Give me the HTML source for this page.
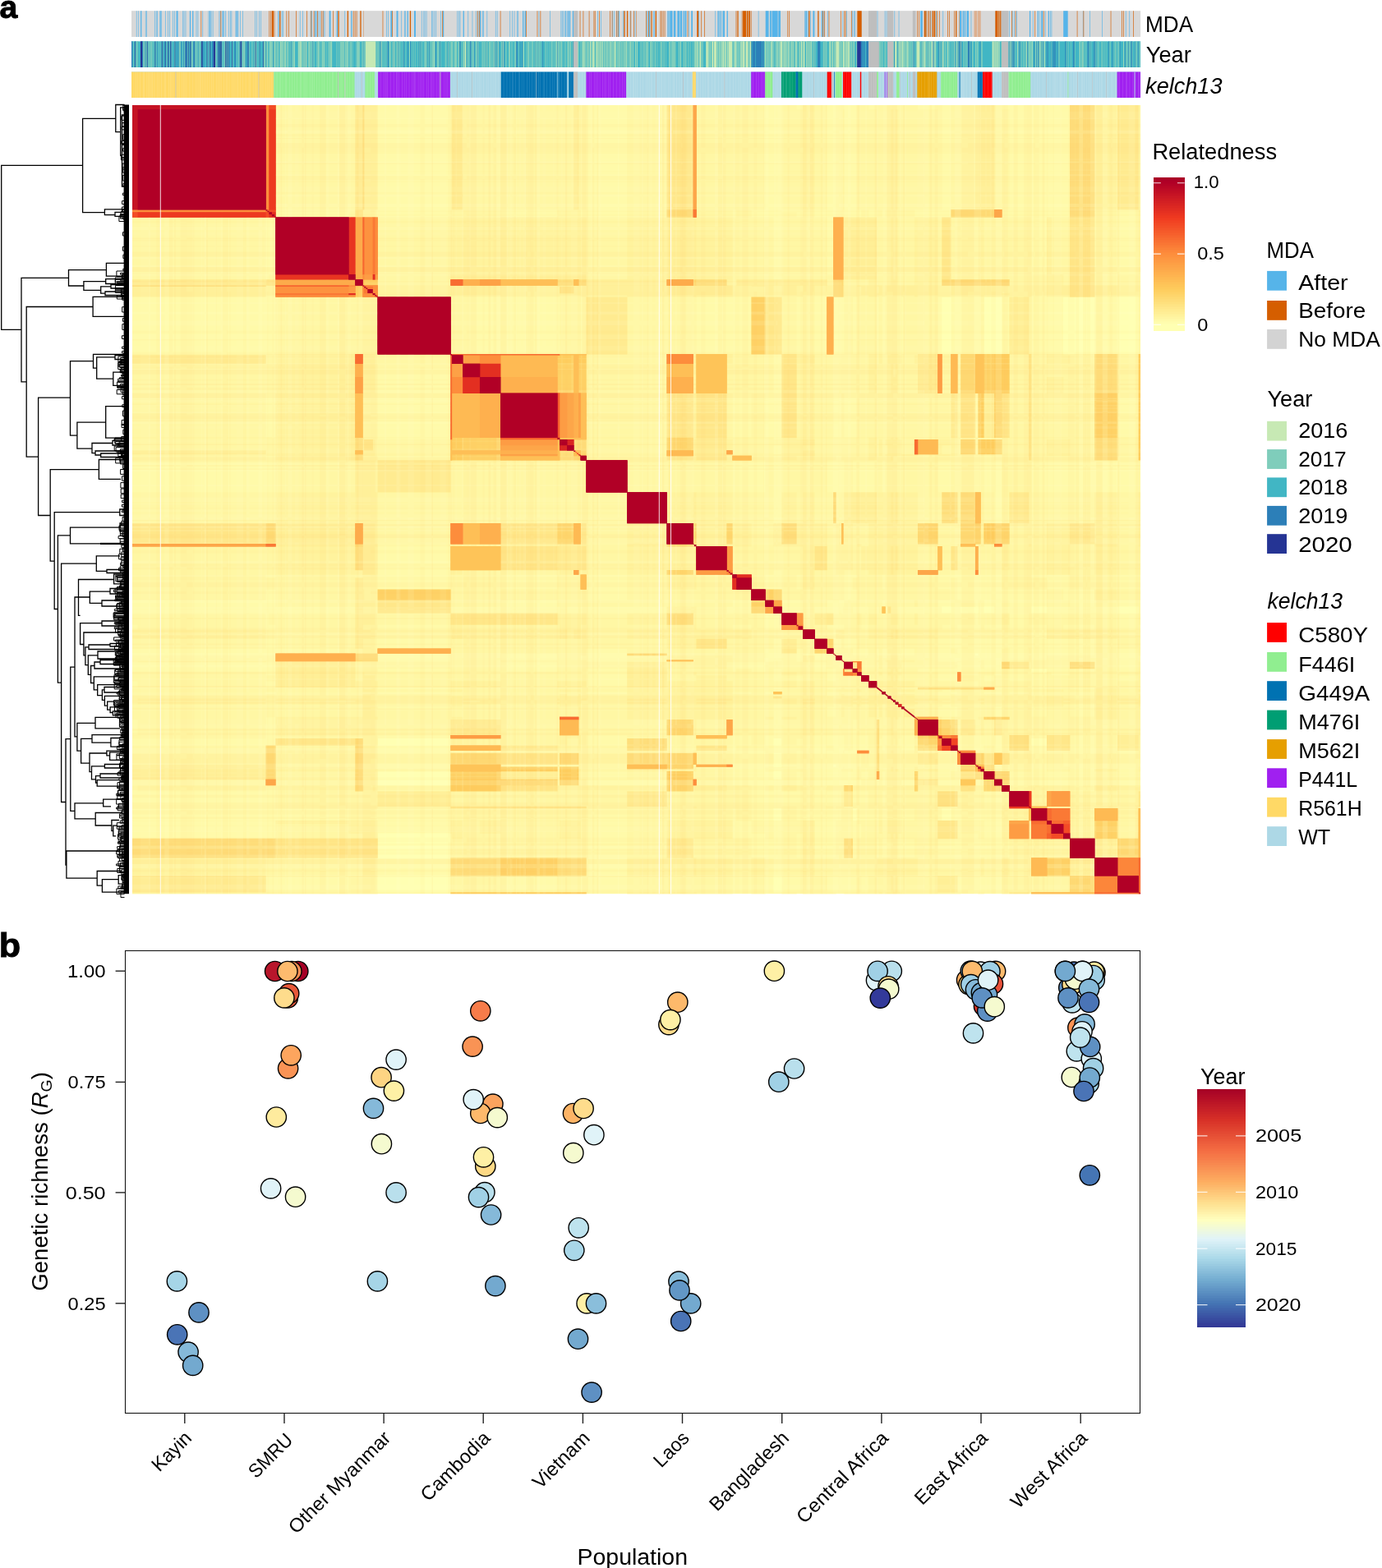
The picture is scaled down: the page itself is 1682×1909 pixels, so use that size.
<!DOCTYPE html>
<html lang="en"><head><meta charset="utf-8"><title>Figure</title>
<style>html,body{margin:0;padding:0;background:#fff}svg{display:block}text{font-family:"Liberation Sans", Arial, Helvetica, sans-serif;fill:#000}</style></head><body>
<svg width="1682" height="1909" viewBox="0 0 1682 1909">
<rect width="1682" height="1909" fill="#fff"/>
<text transform="translate(-0.4 21.7) scale(1.02 1)" font-size="38.5" font-weight="bold" stroke="#000" stroke-width=".9">a</text>
<text transform="translate(-1.3 1164.8) scale(1.08 1)" font-size="40" font-weight="bold" stroke="#000" stroke-width=".9">b</text>
<g shape-rendering="auto">
<rect x="160" y="13.2" width="1228.1" height="31.7" fill="#D8D8D8"/>
<path fill="#56B4E9" d="M165.85 13.2H166.5V44.9H165.85ZM168.45 13.2H169.1V44.9H168.45ZM171.05 13.2H172.35V44.9H171.05ZM176.9 13.2H177.55V44.9H176.9ZM178.2 13.2H178.85V44.9H178.2ZM187.95 13.2H188.6V44.9H187.95ZM189.9 13.2H190.55V44.9H189.9ZM191.2 13.2H191.85V44.9H191.2ZM194.45 13.2H195.75V44.9H194.45ZM196.4 13.2H197.05V44.9H196.4ZM200.95 13.2H201.6V44.9H200.95ZM204.2 13.2H204.85V44.9H204.2ZM206.15 13.2H206.8V44.9H206.15ZM210.05 13.2H210.7V44.9H210.05ZM212 13.2H212.65V44.9H212ZM214.6 13.2H216.55V44.9H214.6ZM222.4 13.2H223.05V44.9H222.4ZM223.7 13.2H224.35V44.9H223.7ZM225.65 13.2H226.3V44.9H225.65ZM230.85 13.2H232.15V44.9H230.85ZM234.1 13.2H235.4V44.9H234.1ZM238.65 13.2H239.3V44.9H238.65ZM240.6 13.2H241.25V44.9H240.6ZM246.45 13.2H247.1V44.9H246.45ZM253.6 13.2H254.25V44.9H253.6ZM254.9 13.2H256.2V44.9H254.9ZM256.85 13.2H257.5V44.9H256.85ZM258.8 13.2H259.45V44.9H258.8ZM266.6 13.2H267.25V44.9H266.6ZM267.9 13.2H268.55V44.9H267.9ZM270.5 13.2H271.8V44.9H270.5ZM272.45 13.2H273.1V44.9H272.45ZM274.4 13.2H275.05V44.9H274.4ZM278.3 13.2H278.95V44.9H278.3ZM280.25 13.2H280.9V44.9H280.25ZM281.55 13.2H282.2V44.9H281.55ZM286.75 13.2H288.05V44.9H286.75ZM288.7 13.2H290V44.9H288.7ZM291.95 13.2H292.6V44.9H291.95ZM295.2 13.2H295.85V44.9H295.2ZM310.15 13.2H310.8V44.9H310.15ZM312.1 13.2H312.75V44.9H312.1ZM315.35 13.2H316V44.9H315.35ZM317.3 13.2H317.95V44.9H317.3ZM338.2 13.2H338.85V44.9H338.2ZM339.5 13.2H340.15V44.9H339.5ZM342.75 13.2H343.4V44.9H342.75ZM344.05 13.2H344.7V44.9H344.05ZM364.85 13.2H365.5V44.9H364.85ZM368.1 13.2H368.75V44.9H368.1ZM377.85 13.2H378.5V44.9H377.85ZM379.15 13.2H379.8V44.9H379.15ZM383.05 13.2H384.35V44.9H383.05ZM385 13.2H385.65V44.9H385ZM387.6 13.2H388.25V44.9H387.6ZM389.55 13.2H390.2V44.9H389.55ZM393.45 13.2H394.1V44.9H393.45ZM394.75 13.2H395.4V44.9H394.75ZM400.6 13.2H402.55V44.9H400.6ZM409.7 13.2H411V44.9H409.7ZM419.45 13.2H420.1V44.9H419.45ZM427.25 13.2H428.55V44.9H427.25ZM470.2 13.2H470.85V44.9H470.2ZM472.15 13.2H472.8V44.9H472.15ZM475.4 13.2H477.35V44.9H475.4ZM482.55 13.2H484.5V44.9H482.55ZM488.4 13.2H489.05V44.9H488.4ZM492.3 13.2H493.6V44.9H492.3ZM495.55 13.2H496.85V44.9H495.55ZM504 13.2H505.95V44.9H504ZM512.9 13.2H513.55V44.9H512.9ZM515.5 13.2H516.15V44.9H515.5ZM516.8 13.2H517.45V44.9H516.8ZM518.75 13.2H519.4V44.9H518.75ZM525.25 13.2H525.9V44.9H525.25ZM526.55 13.2H527.2V44.9H526.55ZM528.5 13.2H529.15V44.9H528.5ZM530.45 13.2H531.1V44.9H530.45ZM536.3 13.2H536.95V44.9H536.3ZM538.9 13.2H540.2V44.9H538.9ZM556.45 13.2H557.1V44.9H556.45ZM558.4 13.2H559.05V44.9H558.4ZM559.7 13.2H560.35V44.9H559.7ZM563.6 13.2H564.9V44.9H563.6ZM569.45 13.2H570.1V44.9H569.45ZM574.65 13.2H575.3V44.9H574.65ZM578.85 13.2H579.5V44.9H578.85ZM581.45 13.2H582.1V44.9H581.45ZM582.75 13.2H583.4V44.9H582.75ZM584.05 13.2H585.35V44.9H584.05ZM587.3 13.2H588.6V44.9H587.3ZM592.5 13.2H593.15V44.9H592.5ZM602.9 13.2H603.55V44.9H602.9ZM604.85 13.2H605.5V44.9H604.85ZM620.45 13.2H621.1V44.9H620.45ZM623.05 13.2H623.7V44.9H623.05ZM625.65 13.2H626.3V44.9H625.65ZM628.9 13.2H629.55V44.9H628.9ZM630.2 13.2H630.85V44.9H630.2ZM636.05 13.2H637.35V44.9H636.05ZM638.65 13.2H639.95V44.9H638.65ZM655.6 13.2H656.25V44.9H655.6ZM669.25 13.2H669.9V44.9H669.25ZM682.5 13.2H683.15V44.9H682.5ZM683.8 13.2H684.45V44.9H683.8ZM685.1 13.2H685.75V44.9H685.1ZM687.05 13.2H687.7V44.9H687.05ZM688.35 13.2H689V44.9H688.35ZM689.65 13.2H690.3V44.9H689.65ZM690.95 13.2H692.25V44.9H690.95ZM692.9 13.2H694.2V44.9H692.9ZM696.8 13.2H698.1V44.9H696.8ZM727.15 13.2H727.8V44.9H727.15ZM731.05 13.2H731.7V44.9H731.05ZM745.35 13.2H746V44.9H745.35ZM747.3 13.2H747.95V44.9H747.3ZM750.55 13.2H751.2V44.9H750.55ZM752.5 13.2H753.8V44.9H752.5ZM758.35 13.2H759V44.9H758.35ZM766.8 13.2H767.45V44.9H766.8ZM772.65 13.2H773.3V44.9H772.65ZM786.65 13.2H787.3V44.9H786.65ZM787.95 13.2H788.6V44.9H787.95ZM789.9 13.2H791.2V44.9H789.9ZM795.1 13.2H795.75V44.9H795.1ZM796.4 13.2H797.05V44.9H796.4ZM812 13.2H812.65V44.9H812ZM813.3 13.2H814.6V44.9H813.3ZM815.25 13.2H818.5V44.9H815.25ZM819.8 13.2H822.4V44.9H819.8ZM824.35 13.2H826.95V44.9H824.35ZM827.6 13.2H830.2V44.9H827.6ZM831.5 13.2H832.8V44.9H831.5ZM833.45 13.2H835.4V44.9H833.45ZM838 13.2H838.65V44.9H838ZM841.25 13.2H843V44.9H841.25ZM850.15 13.2H850.8V44.9H850.15ZM870.3 13.2H870.95V44.9H870.3ZM872.9 13.2H873.55V44.9H872.9ZM874.2 13.2H875.5V44.9H874.2ZM876.15 13.2H876.8V44.9H876.15ZM877.45 13.2H878.1V44.9H877.45ZM878.75 13.2H879.4V44.9H878.75ZM880.05 13.2H882V44.9H880.05ZM884.6 13.2H885.9V44.9H884.6ZM922.8 13.2H923.45V44.9H922.8ZM931.7 13.2H935.6V44.9H931.7ZM936.9 13.2H938.85V44.9H936.9ZM939.5 13.2H946.65V44.9H939.5ZM947.3 13.2H950V44.9H947.3ZM979 13.2H979.65V44.9H979ZM980.3 13.2H982.25V44.9H980.3ZM982.9 13.2H983.55V44.9H982.9ZM986.15 13.2H986.8V44.9H986.15ZM989.4 13.2H991.35V44.9H989.4ZM999.8 13.2H1001.1V44.9H999.8ZM1002.4 13.2H1003.05V44.9H1002.4ZM1007.35 13.2H1008V44.9H1007.35ZM1025.55 13.2H1026.2V44.9H1025.55ZM1030.1 13.2H1030.75V44.9H1030.1ZM1037.25 13.2H1037.9V44.9H1037.25ZM1039.2 13.2H1039.85V44.9H1039.2ZM1040.5 13.2H1041.15V44.9H1040.5ZM1067.65 13.2H1068.3V44.9H1067.65ZM1076.75 13.2H1077.4V44.9H1076.75ZM1078.7 13.2H1079.35V44.9H1078.7ZM1088.5 13.2H1089.15V44.9H1088.5ZM1093.7 13.2H1094.35V44.9H1093.7ZM1120.2 13.2H1122.8V44.9H1120.2ZM1126.7 13.2H1127.35V44.9H1126.7ZM1132.55 13.2H1133.2V44.9H1132.55ZM1139.05 13.2H1139.7V44.9H1139.05ZM1147.45 13.2H1148.1V44.9H1147.45ZM1168 13.2H1169.95V44.9H1168ZM1170.6 13.2H1171.25V44.9H1170.6ZM1171.9 13.2H1173.2V44.9H1171.9ZM1173.85 13.2H1175.15V44.9H1173.85ZM1176.45 13.2H1179.05V44.9H1176.45ZM1181.65 13.2H1182.3V44.9H1181.65ZM1211.25 13.2H1211.3V44.9H1211.25ZM1227.95 13.2H1228.6V44.9H1227.95ZM1231.85 13.2H1232.5V44.9H1231.85ZM1234.45 13.2H1235.1V44.9H1234.45ZM1237.05 13.2H1237.7V44.9H1237.05ZM1252.95 13.2H1254.25V44.9H1252.95ZM1256.85 13.2H1257.5V44.9H1256.85ZM1262.7 13.2H1264V44.9H1262.7ZM1265.3 13.2H1265.95V44.9H1265.3ZM1267.25 13.2H1269.2V44.9H1267.25ZM1271.8 13.2H1272.45V44.9H1271.8ZM1275.7 13.2H1277V44.9H1275.7ZM1278.3 13.2H1278.95V44.9H1278.3ZM1279.6 13.2H1280.25V44.9H1279.6ZM1294.2 13.2H1299.7V44.9H1294.2ZM1317.9 13.2H1318.55V44.9H1317.9ZM1326.35 13.2H1327V44.9H1326.35ZM1341.3 13.2H1341.95V44.9H1341.3ZM1369.9 13.2H1370.55V44.9H1369.9ZM1374.45 13.2H1375.1V44.9H1374.45Z"/>
<path fill="#D55E00" d="M244.5 13.2H245.15V44.9H244.5ZM268.55 13.2H269.2V44.9H268.55ZM327.5 13.2H328.15V44.9H327.5ZM329.45 13.2H330.1V44.9H329.45ZM330.75 13.2H333V44.9H330.75ZM333.65 13.2H334.3V44.9H333.65ZM340.15 13.2H341.45V44.9H340.15ZM348.6 13.2H349.25V44.9H348.6ZM351.2 13.2H351.85V44.9H351.2ZM360.3 13.2H360.95V44.9H360.3ZM373.3 13.2H373.95V44.9H373.3ZM378.5 13.2H379.15V44.9H378.5ZM381.75 13.2H382.4V44.9H381.75ZM386.3 13.2H386.95V44.9H386.3ZM390.85 13.2H391.5V44.9H390.85ZM392.8 13.2H393.45V44.9H392.8ZM405.15 13.2H405.8V44.9H405.15ZM411 13.2H411.65V44.9H411ZM412.3 13.2H412.95V44.9H412.3ZM422.7 13.2H424V44.9H422.7ZM429.85 13.2H430.5V44.9H429.85ZM431.8 13.2H432.45V44.9H431.8ZM433.75 13.2H434.4V44.9H433.75ZM438.3 13.2H439.6V44.9H438.3ZM442.2 13.2H442.5V44.9H442.2ZM465.65 13.2H466.3V44.9H465.65ZM477.35 13.2H478V44.9H477.35ZM498.8 13.2H500.1V44.9H498.8ZM538.25 13.2H538.9V44.9H538.25ZM580.8 13.2H581.45V44.9H580.8ZM583.4 13.2H584.05V44.9H583.4ZM608.75 13.2H609.4V44.9H608.75ZM640 13.2H640.65V44.9H640ZM653.65 13.2H654.3V44.9H653.65ZM657.55 13.2H658.2V44.9H657.55ZM705.7 13.2H706.35V44.9H705.7ZM709.6 13.2H710.25V44.9H709.6ZM716.75 13.2H717.4V44.9H716.75ZM722.6 13.2H723.25V44.9H722.6ZM723.9 13.2H724.55V44.9H723.9ZM729.1 13.2H729.75V44.9H729.1ZM742.1 13.2H742.75V44.9H742.1ZM744.7 13.2H745.35V44.9H744.7ZM749.9 13.2H750.55V44.9H749.9ZM751.85 13.2H752.5V44.9H751.85ZM759 13.2H759.65V44.9H759ZM760.3 13.2H760.95V44.9H760.3ZM762.9 13.2H764.2V44.9H762.9ZM767.45 13.2H768.1V44.9H767.45ZM771.35 13.2H772V44.9H771.35ZM774.6 13.2H775V44.9H774.6ZM786 13.2H786.65V44.9H786ZM789.25 13.2H789.9V44.9H789.25ZM791.85 13.2H792.5V44.9H791.85ZM793.15 13.2H793.8V44.9H793.15ZM797.7 13.2H799V44.9H797.7ZM803.55 13.2H804.2V44.9H803.55ZM804.85 13.2H805.5V44.9H804.85ZM806.8 13.2H807.45V44.9H806.8ZM808.75 13.2H809.4V44.9H808.75ZM836.7 13.2H837.35V44.9H836.7ZM848.2 13.2H850.15V44.9H848.2ZM853.4 13.2H854.05V44.9H853.4ZM857.3 13.2H857.95V44.9H857.3ZM895.65 13.2H896.3V44.9H895.65ZM896.95 13.2H897.6V44.9H896.95ZM898.25 13.2H898.9V44.9H898.25ZM902.8 13.2H903.45V44.9H902.8ZM904.1 13.2H908V44.9H904.1ZM908.65 13.2H910.6V44.9H908.65ZM911.25 13.2H913.2V44.9H911.25ZM914.5 13.2H915V44.9H914.5ZM958.45 13.2H959.1V44.9H958.45ZM960.4 13.2H961.05V44.9H960.4ZM984.2 13.2H985.5V44.9H984.2ZM995.25 13.2H996.55V44.9H995.25ZM1001.1 13.2H1001.75V44.9H1001.1ZM1003.05 13.2H1003.7V44.9H1003.05ZM1008.65 13.2H1009.3V44.9H1008.65ZM1022.95 13.2H1023.6V44.9H1022.95ZM1027.5 13.2H1028.15V44.9H1027.5ZM1028.8 13.2H1029.45V44.9H1028.8ZM1035.95 13.2H1036.6V44.9H1035.95ZM1043.1 13.2H1043.75V44.9H1043.1ZM1044 13.2H1048.7V44.9H1044ZM1116.3 13.2H1116.95V44.9H1116.3ZM1118.25 13.2H1118.9V44.9H1118.25ZM1124.75 13.2H1126.7V44.9H1124.75ZM1127.35 13.2H1128V44.9H1127.35ZM1129.3 13.2H1129.95V44.9H1129.3ZM1130.6 13.2H1131.25V44.9H1130.6ZM1131.9 13.2H1132.55V44.9H1131.9ZM1134.5 13.2H1135.8V44.9H1134.5ZM1136.45 13.2H1138.4V44.9H1136.45ZM1140.3 13.2H1140.95V44.9H1140.3ZM1142.9 13.2H1143.55V44.9H1142.9ZM1153.3 13.2H1153.95V44.9H1153.3ZM1155.25 13.2H1155.9V44.9H1155.25ZM1161.1 13.2H1161.75V44.9H1161.1ZM1163.05 13.2H1164.35V44.9H1163.05ZM1167.6 13.2H1168V44.9H1167.6ZM1211.3 13.2H1214.55V44.9H1211.3ZM1215.2 13.2H1216.5V44.9H1215.2ZM1217.15 13.2H1218.6V44.9H1217.15ZM1231.2 13.2H1231.85V44.9H1231.2ZM1235.75 13.2H1236.4V44.9H1235.75ZM1259.45 13.2H1260.1V44.9H1259.45ZM1269.85 13.2H1270.5V44.9H1269.85ZM1310.75 13.2H1311.4V44.9H1310.75ZM1318.55 13.2H1319.2V44.9H1318.55ZM1351.7 13.2H1352.35V44.9H1351.7ZM1365.35 13.2H1366V44.9H1365.35ZM1367.3 13.2H1367.95V44.9H1367.3ZM1379 13.2H1379.65V44.9H1379Z"/>
<path fill="#BEBEBE" d="M698.1 13.2H703.1V44.9H698.1ZM1057 13.2H1067V44.9H1057ZM1080 13.2H1087.2V44.9H1080ZM1110.8 13.2H1114.5V44.9H1110.8ZM1218.6 13.2H1227.3V44.9H1218.6Z"/>
<path fill="#DDB090" d="M1185.5 13.2H1189.4V44.9H1185.5ZM1190.05 13.2H1193.7V44.9H1190.05Z"/>
<rect x="160" y="50.3" width="1228.1" height="31.7" fill="#41B6C4"/>
<path fill="#2C7FB8" d="M160 50.3H161.3V82H160ZM164.55 50.3H165.2V82H164.55ZM173 50.3H174.3V82H173ZM176.25 50.3H176.9V82H176.25ZM177.55 50.3H178.2V82H177.55ZM191.2 50.3H191.85V82H191.2ZM195.75 50.3H196.4V82H195.75ZM199.65 50.3H200.3V82H199.65ZM205.5 50.3H206.15V82H205.5ZM206.8 50.3H207.45V82H206.8ZM208.1 50.3H208.75V82H208.1ZM215.25 50.3H215.9V82H215.25ZM217.2 50.3H217.85V82H217.2ZM220.45 50.3H221.1V82H220.45ZM223.05 50.3H223.7V82H223.05ZM226.3 50.3H228.25V82H226.3ZM232.15 50.3H232.8V82H232.15ZM235.4 50.3H237.35V82H235.4ZM240.6 50.3H241.25V82H240.6ZM246.45 50.3H247.1V82H246.45ZM247.75 50.3H248.4V82H247.75ZM253.6 50.3H254.25V82H253.6ZM254.9 50.3H255.55V82H254.9ZM258.15 50.3H260.1V82H258.15ZM265.95 50.3H266.6V82H265.95ZM278.95 50.3H279.6V82H278.95ZM285.45 50.3H286.75V82H285.45ZM291.3 50.3H291.95V82H291.3ZM294.55 50.3H295.2V82H294.55ZM299.1 50.3H299.75V82H299.1ZM301.05 50.3H301.7V82H301.05ZM308.85 50.3H309.5V82H308.85ZM315.35 50.3H316.65V82H315.35ZM322.95 50.3H323.6V82H322.95ZM332.7 50.3H333.35V82H332.7ZM354.15 50.3H354.8V82H354.15ZM371.7 50.3H372.35V82H371.7ZM380.15 50.3H380.8V82H380.15ZM442.55 50.3H443.2V82H442.55ZM461.7 50.3H462.35V82H461.7ZM463 50.3H463.65V82H463ZM471.45 50.3H472.75V82H471.45ZM478.6 50.3H479.25V82H478.6ZM484.45 50.3H485.1V82H484.45ZM490.95 50.3H491.6V82H490.95ZM496.15 50.3H496.8V82H496.15ZM499.4 50.3H500.05V82H499.4ZM509.8 50.3H510.45V82H509.8ZM511.75 50.3H512.4V82H511.75ZM519.55 50.3H520.2V82H519.55ZM522.15 50.3H522.8V82H522.15ZM529.95 50.3H530.6V82H529.95ZM535.15 50.3H535.8V82H535.15ZM544.9 50.3H545.55V82H544.9ZM559.2 50.3H560.5V82H559.2ZM567.65 50.3H568.3V82H567.65ZM572.2 50.3H573.5V82H572.2ZM576.75 50.3H577.4V82H576.75ZM581.3 50.3H581.95V82H581.3ZM591.7 50.3H592.35V82H591.7ZM600.8 50.3H601.45V82H600.8ZM602.75 50.3H603.4V82H602.75ZM604.05 50.3H604.7V82H604.05ZM606.65 50.3H607.3V82H606.65ZM611.2 50.3H611.85V82H611.2ZM613.15 50.3H613.8V82H613.15ZM628.1 50.3H628.75V82H628.1ZM629.4 50.3H630.05V82H629.4ZM632.65 50.3H633.3V82H632.65ZM635.25 50.3H635.9V82H635.25ZM651.5 50.3H652.15V82H651.5ZM654.75 50.3H655.4V82H654.75ZM659.95 50.3H660.6V82H659.95ZM678.15 50.3H678.8V82H678.15ZM697 50.3H697.65V82H697ZM914.2 50.3H915.5V82H914.2ZM916.15 50.3H919.4V82H916.15ZM920.05 50.3H927.2V82H920.05ZM927.85 50.3H929.8V82H927.85ZM995.1 50.3H998.35V82H995.1ZM1001.6 50.3H1001.7V82H1001.6ZM1047.8 50.3H1049.75V82H1047.8ZM1050.4 50.3H1051.7V82H1050.4ZM1052.35 50.3H1053V82H1052.35ZM1054.3 50.3H1056.9V82H1054.3ZM1087.85 50.3H1088.5V82H1087.85ZM1092.4 50.3H1093.05V82H1092.4ZM1095.65 50.3H1096.3V82H1095.65ZM1111.25 50.3H1111.9V82H1111.25ZM1112.55 50.3H1113.2V82H1112.55ZM1121.65 50.3H1122.3V82H1121.65ZM1128.8 50.3H1129.45V82H1128.8ZM1135.3 50.3H1136.6V82H1135.3ZM1141.95 50.3H1142.6V82H1141.95ZM1143.9 50.3H1144.55V82H1143.9ZM1146.5 50.3H1147.15V82H1146.5ZM1162.1 50.3H1162.75V82H1162.1ZM1164.7 50.3H1165.35V82H1164.7ZM1166 50.3H1166.65V82H1166ZM1167.3 50.3H1169.25V82H1167.3ZM1169.9 50.3H1170.55V82H1169.9ZM1177.7 50.3H1180.3V82H1177.7ZM1181.6 50.3H1182.25V82H1181.6ZM1192.65 50.3H1193.3V82H1192.65ZM1227.95 50.3H1228.6V82H1227.95ZM1229.25 50.3H1229.9V82H1229.25ZM1231.2 50.3H1232.5V82H1231.2ZM1233.15 50.3H1234.45V82H1233.15ZM1240.3 50.3H1240.95V82H1240.3ZM1241.6 50.3H1242.25V82H1241.6ZM1250.05 50.3H1250.7V82H1250.05ZM1258.5 50.3H1259.15V82H1258.5ZM1261.1 50.3H1261.75V82H1261.1ZM1263.05 50.3H1263.7V82H1263.05ZM1264.35 50.3H1265V82H1264.35ZM1266.95 50.3H1267.6V82H1266.95ZM1268.9 50.3H1269.55V82H1268.9ZM1273.65 50.3H1274.3V82H1273.65ZM1274.95 50.3H1275.6V82H1274.95ZM1278.85 50.3H1279.5V82H1278.85ZM1280.8 50.3H1281.45V82H1280.8ZM1282.1 50.3H1282.75V82H1282.1ZM1283.4 50.3H1284.7V82H1283.4ZM1286.65 50.3H1287.3V82H1286.65ZM1296.4 50.3H1297.05V82H1296.4ZM1297.7 50.3H1298.35V82H1297.7ZM1299.65 50.3H1299.7V82H1299.65ZM1306.2 50.3H1307.5V82H1306.2ZM1323.75 50.3H1325.05V82H1323.75ZM1326.35 50.3H1327V82H1326.35ZM1330.9 50.3H1331.55V82H1330.9ZM1332.2 50.3H1332.85V82H1332.2ZM1333.5 50.3H1334.15V82H1333.5ZM1349.1 50.3H1349.75V82H1349.1ZM1353.65 50.3H1354.3V82H1353.65ZM1362.75 50.3H1363.4V82H1362.75ZM1369.25 50.3H1369.9V82H1369.25ZM1373.15 50.3H1373.8V82H1373.15ZM1376.4 50.3H1377.7V82H1376.4ZM1380.95 50.3H1381.6V82H1380.95ZM1384.85 50.3H1385.5V82H1384.85Z"/>
<path fill="#7FCDBB" d="M161.95 50.3H162.6V82H161.95ZM165.2 50.3H165.85V82H165.2ZM166.5 50.3H167.8V82H166.5ZM174.3 50.3H176.25V82H174.3ZM176.9 50.3H177.55V82H176.9ZM178.2 50.3H178.85V82H178.2ZM180.15 50.3H180.8V82H180.15ZM181.45 50.3H182.75V82H181.45ZM183.4 50.3H185.35V82H183.4ZM186 50.3H186.65V82H186ZM187.95 50.3H188.6V82H187.95ZM190.55 50.3H191.2V82H190.55ZM193.15 50.3H193.8V82H193.15ZM195.1 50.3H195.75V82H195.1ZM197.7 50.3H198.35V82H197.7ZM202.9 50.3H203.55V82H202.9ZM206.15 50.3H206.8V82H206.15ZM208.75 50.3H209.4V82H208.75ZM212 50.3H212.65V82H212ZM217.85 50.3H219.8V82H217.85ZM222.4 50.3H223.05V82H222.4ZM224.35 50.3H225V82H224.35ZM228.25 50.3H228.9V82H228.25ZM232.8 50.3H234.75V82H232.8ZM237.35 50.3H238.65V82H237.35ZM239.3 50.3H240.6V82H239.3ZM241.9 50.3H243.2V82H241.9ZM243.85 50.3H244.5V82H243.85ZM252.3 50.3H252.95V82H252.3ZM254.25 50.3H254.9V82H254.25ZM262.05 50.3H263.35V82H262.05ZM264.65 50.3H265.3V82H264.65ZM270.5 50.3H271.15V82H270.5ZM271.8 50.3H272.45V82H271.8ZM273.1 50.3H274.4V82H273.1ZM275.05 50.3H275.7V82H275.05ZM277 50.3H277.65V82H277ZM282.85 50.3H283.5V82H282.85ZM288.05 50.3H288.7V82H288.05ZM290 50.3H291.3V82H290ZM293.9 50.3H294.55V82H293.9ZM295.2 50.3H298.45V82H295.2ZM303 50.3H303.65V82H303ZM306.25 50.3H306.9V82H306.25ZM307.55 50.3H308.2V82H307.55ZM309.5 50.3H310.8V82H309.5ZM311.45 50.3H312.75V82H311.45ZM314.7 50.3H315.35V82H314.7ZM321 50.3H322.95V82H321ZM323.6 50.3H324.25V82H323.6ZM325.55 50.3H326.2V82H325.55ZM327.5 50.3H328.8V82H327.5ZM329.45 50.3H332.05V82H329.45ZM333.35 50.3H334V82H333.35ZM335.3 50.3H336.6V82H335.3ZM337.25 50.3H339.2V82H337.25ZM340.5 50.3H341.15V82H340.5ZM341.8 50.3H343.1V82H341.8ZM344.4 50.3H347V82H344.4ZM347.65 50.3H348.3V82H347.65ZM348.95 50.3H350.9V82H348.95ZM351.55 50.3H352.2V82H351.55ZM353.5 50.3H354.15V82H353.5ZM354.8 50.3H355.45V82H354.8ZM356.1 50.3H358.05V82H356.1ZM362.6 50.3H363.25V82H362.6ZM363.9 50.3H364.55V82H363.9ZM365.85 50.3H366.5V82H365.85ZM367.15 50.3H368.45V82H367.15ZM369.1 50.3H371.7V82H369.1ZM373 50.3H373.65V82H373ZM374.95 50.3H378.2V82H374.95ZM378.85 50.3H380.15V82H378.85ZM380.8 50.3H381.45V82H380.8ZM382.1 50.3H382.75V82H382.1ZM385.35 50.3H386.65V82H385.35ZM387.95 50.3H388.6V82H387.95ZM389.25 50.3H389.9V82H389.25ZM391.2 50.3H391.85V82H391.2ZM393.15 50.3H395.75V82H393.15ZM397.05 50.3H397.7V82H397.05ZM399 50.3H399.65V82H399ZM400.3 50.3H402.9V82H400.3ZM403.55 50.3H404.2V82H403.55ZM409.4 50.3H410.05V82H409.4ZM410.7 50.3H411.35V82H410.7ZM412.65 50.3H413.3V82H412.65ZM413.95 50.3H419.15V82H413.95ZM419.8 50.3H421.75V82H419.8ZM425 50.3H425.65V82H425ZM426.3 50.3H428.25V82H426.3ZM428.9 50.3H429.55V82H428.9ZM433.45 50.3H434.75V82H433.45ZM436.05 50.3H438V82H436.05ZM439.95 50.3H440.6V82H439.95ZM441.25 50.3H442.55V82H441.25ZM443.2 50.3H444.5V82H443.2ZM457.15 50.3H457.8V82H457.15ZM458.45 50.3H459.75V82H458.45ZM460.4 50.3H461.7V82H460.4ZM464.3 50.3H464.95V82H464.3ZM465.6 50.3H466.25V82H465.6ZM467.55 50.3H468.2V82H467.55ZM468.85 50.3H469.5V82H468.85ZM470.8 50.3H471.45V82H470.8ZM475.35 50.3H476V82H475.35ZM477.3 50.3H478.6V82H477.3ZM480.55 50.3H481.2V82H480.55ZM482.5 50.3H484.45V82H482.5ZM485.1 50.3H485.75V82H485.1ZM486.4 50.3H487.05V82H486.4ZM487.7 50.3H488.35V82H487.7ZM490.3 50.3H490.95V82H490.3ZM493.55 50.3H494.2V82H493.55ZM501.35 50.3H502V82H501.35ZM503.3 50.3H503.95V82H503.3ZM505.25 50.3H505.9V82H505.25ZM507.85 50.3H508.5V82H507.85ZM510.45 50.3H511.1V82H510.45ZM512.4 50.3H513.05V82H512.4ZM513.7 50.3H514.35V82H513.7ZM516.3 50.3H519.55V82H516.3ZM520.85 50.3H521.5V82H520.85ZM522.8 50.3H523.45V82H522.8ZM524.1 50.3H524.75V82H524.1ZM525.4 50.3H528V82H525.4ZM528.65 50.3H529.3V82H528.65ZM531.9 50.3H533.85V82H531.9ZM534.5 50.3H535.15V82H534.5ZM536.45 50.3H537.1V82H536.45ZM541.65 50.3H542.95V82H541.65ZM543.6 50.3H544.25V82H543.6ZM545.55 50.3H546.85V82H545.55ZM548.15 50.3H551.4V82H548.15ZM552.7 50.3H554.65V82H552.7ZM555.3 50.3H555.95V82H555.3ZM557.25 50.3H559.2V82H557.25ZM561.15 50.3H561.8V82H561.15ZM563.1 50.3H565.7V82H563.1ZM567 50.3H567.65V82H567ZM568.95 50.3H570.25V82H568.95ZM570.9 50.3H571.55V82H570.9ZM573.5 50.3H574.15V82H573.5ZM574.8 50.3H576.75V82H574.8ZM578.7 50.3H580V82H578.7ZM581.95 50.3H582.6V82H581.95ZM585.85 50.3H586.5V82H585.85ZM587.15 50.3H588.45V82H587.15ZM589.1 50.3H590.4V82H589.1ZM591.05 50.3H591.7V82H591.05ZM592.35 50.3H593.65V82H592.35ZM594.95 50.3H597.55V82H594.95ZM598.2 50.3H598.85V82H598.2ZM599.5 50.3H600.8V82H599.5ZM603.4 50.3H604.05V82H603.4ZM604.7 50.3H605.35V82H604.7ZM609.9 50.3H611.2V82H609.9ZM612.5 50.3H613.15V82H612.5ZM615.1 50.3H615.75V82H615.1ZM616.4 50.3H617.05V82H616.4ZM619 50.3H619.65V82H619ZM620.3 50.3H620.95V82H620.3ZM622.25 50.3H622.9V82H622.25ZM623.55 50.3H624.2V82H623.55ZM626.15 50.3H628.1V82H626.15ZM631.35 50.3H632V82H631.35ZM636.55 50.3H637.2V82H636.55ZM640.45 50.3H641.1V82H640.45ZM641.75 50.3H644.35V82H641.75ZM645 50.3H645.65V82H645ZM646.95 50.3H647.6V82H646.95ZM649.55 50.3H650.2V82H649.55ZM650.85 50.3H651.5V82H650.85ZM652.15 50.3H653.45V82H652.15ZM654.1 50.3H654.75V82H654.1ZM655.4 50.3H656.7V82H655.4ZM657.35 50.3H658V82H657.35ZM658.65 50.3H659.3V82H658.65ZM663.2 50.3H663.85V82H663.2ZM664.5 50.3H665.15V82H664.5ZM665.8 50.3H666.45V82H665.8ZM668.4 50.3H669.05V82H668.4ZM670.35 50.3H671V82H670.35ZM673.6 50.3H674.25V82H673.6ZM674.9 50.3H675.55V82H674.9ZM676.2 50.3H677.5V82H676.2ZM678.8 50.3H680.75V82H678.8ZM681.4 50.3H682.05V82H681.4ZM683.35 50.3H684V82H683.35ZM684.65 50.3H685.3V82H684.65ZM687.25 50.3H688.55V82H687.25ZM689.85 50.3H690.5V82H689.85ZM691.8 50.3H692.45V82H691.8ZM693.1 50.3H695.05V82H693.1ZM696.35 50.3H697V82H696.35ZM697.65 50.3H698.1V82H697.65ZM703.75 50.3H704.4V82H703.75ZM706.35 50.3H707V82H706.35ZM707.65 50.3H708.95V82H707.65ZM709.6 50.3H710.25V82H709.6ZM710.9 50.3H711.55V82H710.9ZM712.2 50.3H712.85V82H712.2ZM713.5 50.3H717.4V82H713.5ZM720 50.3H721.3V82H720ZM723.25 50.3H724.55V82H723.25ZM725.2 50.3H725.85V82H725.2ZM727.15 50.3H728.45V82H727.15ZM729.1 50.3H730.4V82H729.1ZM731.05 50.3H731.7V82H731.05ZM732.35 50.3H733V82H732.35ZM733.65 50.3H734.3V82H733.65ZM736.25 50.3H736.9V82H736.25ZM738.2 50.3H738.85V82H738.2ZM740.15 50.3H740.8V82H740.15ZM741.45 50.3H742.1V82H741.45ZM742.75 50.3H744.7V82H742.75ZM746 50.3H747.95V82H746ZM749.25 50.3H750.55V82H749.25ZM751.2 50.3H753.8V82H751.2ZM755.75 50.3H757.7V82H755.75ZM758.35 50.3H762.25V82H758.35ZM762.9 50.3H763.55V82H762.9ZM764.2 50.3H764.85V82H764.2ZM765.5 50.3H766.8V82H765.5ZM767.45 50.3H768.75V82H767.45ZM769.4 50.3H771.35V82H769.4ZM774.6 50.3H775V82H774.6ZM779.55 50.3H780.85V82H779.55ZM782.15 50.3H783.45V82H782.15ZM784.1 50.3H785.4V82H784.1ZM786.05 50.3H789.3V82H786.05ZM791.25 50.3H791.9V82H791.25ZM792.55 50.3H793.2V82H792.55ZM793.85 50.3H795.15V82H793.85ZM796.45 50.3H797.75V82H796.45ZM798.4 50.3H799.05V82H798.4ZM800.35 50.3H801V82H800.35ZM802.95 50.3H803.6V82H802.95ZM804.25 50.3H806.2V82H804.25ZM807.5 50.3H808.8V82H807.5ZM810.1 50.3H810.75V82H810.1ZM814 50.3H815.95V82H814ZM816.6 50.3H817.9V82H816.6ZM819.2 50.3H822.45V82H819.2ZM825.7 50.3H827V82H825.7ZM827.65 50.3H828.3V82H827.65ZM831.55 50.3H832.85V82H831.55ZM833.5 50.3H835.45V82H833.5ZM836.75 50.3H837.4V82H836.75ZM838.05 50.3H838.7V82H838.05ZM840 50.3H840.65V82H840ZM843 50.3H843.65V82H843ZM850.15 50.3H850.8V82H850.15ZM861.85 50.3H862.5V82H861.85ZM864.45 50.3H865.1V82H864.45ZM865.75 50.3H866.4V82H865.75ZM873.55 50.3H874.2V82H873.55ZM875.5 50.3H876.8V82H875.5ZM878.75 50.3H879.4V82H878.75ZM883.3 50.3H885.25V82H883.3ZM885.9 50.3H886.55V82H885.9ZM897.6 50.3H898.25V82H897.6ZM900.85 50.3H902.15V82H900.85ZM903.45 50.3H904.1V82H903.45ZM906.05 50.3H908V82H906.05ZM911.25 50.3H912.55V82H911.25ZM929.8 50.3H930.45V82H929.8ZM931.75 50.3H933.05V82H931.75ZM934.35 50.3H935V82H934.35ZM936.95 50.3H938.9V82H936.95ZM940.85 50.3H942.15V82H940.85ZM943.45 50.3H944.75V82H943.45ZM946.05 50.3H946.7V82H946.05ZM948 50.3H948.65V82H948ZM949.3 50.3H949.95V82H949.3ZM953.2 50.3H953.85V82H953.2ZM954.5 50.3H955.15V82H954.5ZM957.1 50.3H957.75V82H957.1ZM961.65 50.3H963.6V82H961.65ZM964.25 50.3H966.85V82H964.25ZM969.45 50.3H970.75V82H969.45ZM972.05 50.3H974V82H972.05ZM975.95 50.3H977.9V82H975.95ZM979.2 50.3H979.85V82H979.2ZM981.8 50.3H987V82H981.8ZM987.65 50.3H988.3V82H987.65ZM988.95 50.3H989.6V82H988.95ZM990.25 50.3H990.9V82H990.25ZM991.55 50.3H992.5V82H991.55ZM1001.7 50.3H1003.65V82H1001.7ZM1004.3 50.3H1004.95V82H1004.3ZM1008.85 50.3H1009.5V82H1008.85ZM1011.45 50.3H1013.4V82H1011.45ZM1014.7 50.3H1017.3V82H1014.7ZM1021.2 50.3H1021.85V82H1021.2ZM1023.15 50.3H1025.1V82H1023.15ZM1027.7 50.3H1029V82H1027.7ZM1031.6 50.3H1032.25V82H1031.6ZM1036.15 50.3H1036.8V82H1036.15ZM1037.45 50.3H1038.75V82H1037.45ZM1042 50.3H1043.2V82H1042ZM1069.9 50.3H1071.85V82H1069.9ZM1072.5 50.3H1073.8V82H1072.5ZM1074.45 50.3H1075.1V82H1074.45ZM1076.4 50.3H1077.7V82H1076.4ZM1078.35 50.3H1079V82H1078.35ZM1091.1 50.3H1092.4V82H1091.1ZM1093.05 50.3H1094.35V82H1093.05ZM1096.95 50.3H1097.6V82H1096.95ZM1098.9 50.3H1099.55V82H1098.9ZM1100.2 50.3H1102.8V82H1100.2ZM1104.75 50.3H1107.35V82H1104.75ZM1108 50.3H1109.3V82H1108ZM1109.95 50.3H1111.25V82H1109.95ZM1111.9 50.3H1112.55V82H1111.9ZM1114.5 50.3H1115.8V82H1114.5ZM1119.05 50.3H1120.35V82H1119.05ZM1121 50.3H1121.65V82H1121ZM1122.3 50.3H1122.95V82H1122.3ZM1123.6 50.3H1124.9V82H1123.6ZM1126.2 50.3H1126.85V82H1126.2ZM1127.5 50.3H1128.8V82H1127.5ZM1129.45 50.3H1132.05V82H1129.45ZM1133.35 50.3H1134V82H1133.35ZM1137.25 50.3H1137.9V82H1137.25ZM1138.55 50.3H1139.2V82H1138.55ZM1143.25 50.3H1143.9V82H1143.25ZM1144.55 50.3H1145.2V82H1144.55ZM1145.85 50.3H1146.5V82H1145.85ZM1149.75 50.3H1151.05V82H1149.75ZM1152.35 50.3H1153V82H1152.35ZM1154.3 50.3H1155.6V82H1154.3ZM1157.55 50.3H1158.2V82H1157.55ZM1159.5 50.3H1160.15V82H1159.5ZM1162.75 50.3H1163.4V82H1162.75ZM1165.35 50.3H1166V82H1165.35ZM1166.65 50.3H1167.3V82H1166.65ZM1172.5 50.3H1173.8V82H1172.5ZM1175.1 50.3H1176.4V82H1175.1ZM1177.05 50.3H1177.7V82H1177.05ZM1180.3 50.3H1180.95V82H1180.3ZM1188.75 50.3H1190.7V82H1188.75ZM1195.25 50.3H1195.6V82H1195.25ZM1209.55 50.3H1210.2V82H1209.55ZM1210.85 50.3H1211.5V82H1210.85ZM1212.8 50.3H1214.1V82H1212.8ZM1218 50.3H1218.65V82H1218ZM1230.55 50.3H1231.2V82H1230.55ZM1232.5 50.3H1233.15V82H1232.5ZM1235.1 50.3H1235.75V82H1235.1ZM1237.7 50.3H1238.35V82H1237.7ZM1239.65 50.3H1240.3V82H1239.65ZM1242.25 50.3H1242.9V82H1242.25ZM1243.55 50.3H1244.2V82H1243.55ZM1245.5 50.3H1246.8V82H1245.5ZM1248.1 50.3H1249.4V82H1248.1ZM1251.35 50.3H1252.65V82H1251.35ZM1254.6 50.3H1255.9V82H1254.6ZM1256.55 50.3H1257.2V82H1256.55ZM1262.4 50.3H1263.05V82H1262.4ZM1263.7 50.3H1264.35V82H1263.7ZM1265.65 50.3H1266.95V82H1265.65ZM1267.6 50.3H1268.9V82H1267.6ZM1270.2 50.3H1270.85V82H1270.2ZM1271.5 50.3H1272.15V82H1271.5ZM1272.8 50.3H1273V82H1272.8ZM1279.5 50.3H1280.15V82H1279.5ZM1287.95 50.3H1288.6V82H1287.95ZM1289.25 50.3H1289.9V82H1289.25ZM1298.35 50.3H1299V82H1298.35ZM1300.35 50.3H1301V82H1300.35ZM1302.95 50.3H1303.6V82H1302.95ZM1308.15 50.3H1308.8V82H1308.15ZM1313.35 50.3H1314V82H1313.35ZM1315.95 50.3H1319.2V82H1315.95ZM1320.5 50.3H1321.15V82H1320.5ZM1321.8 50.3H1322.45V82H1321.8ZM1325.7 50.3H1326.35V82H1325.7ZM1327.65 50.3H1328.3V82H1327.65ZM1332.85 50.3H1333.5V82H1332.85ZM1334.8 50.3H1335.45V82H1334.8ZM1336.1 50.3H1336.75V82H1336.1ZM1337.4 50.3H1338.05V82H1337.4ZM1340 50.3H1340.65V82H1340ZM1341.3 50.3H1341.95V82H1341.3ZM1342.6 50.3H1343.25V82H1342.6ZM1344.55 50.3H1345.2V82H1344.55ZM1346.5 50.3H1347.15V82H1346.5ZM1350.4 50.3H1351.7V82H1350.4ZM1355.6 50.3H1356.25V82H1355.6ZM1356.9 50.3H1358.2V82H1356.9ZM1359.5 50.3H1360.15V82H1359.5ZM1360.8 50.3H1362.1V82H1360.8ZM1369.9 50.3H1370.55V82H1369.9ZM1371.2 50.3H1372.5V82H1371.2ZM1373.8 50.3H1375.1V82H1373.8ZM1375.75 50.3H1376.4V82H1375.75ZM1378.35 50.3H1379V82H1378.35ZM1381.6 50.3H1382.25V82H1381.6ZM1382.9 50.3H1384.2V82H1382.9ZM1386.15 50.3H1386.8V82H1386.15ZM1387.45 50.3H1388V82H1387.45Z"/>
<path fill="#253494" d="M163.9 50.3H164.55V82H163.9ZM171.05 50.3H173V82H171.05ZM178.85 50.3H179.5V82H178.85ZM188.6 50.3H189.25V82H188.6ZM197.05 50.3H197.7V82H197.05ZM200.95 50.3H201.6V82H200.95ZM204.2 50.3H204.85V82H204.2ZM207.45 50.3H208.1V82H207.45ZM212.65 50.3H213.3V82H212.65ZM225.65 50.3H226.3V82H225.65ZM228.9 50.3H229.55V82H228.9ZM231.5 50.3H232.15V82H231.5ZM245.15 50.3H246.45V82H245.15ZM251.65 50.3H252.3V82H251.65ZM255.55 50.3H256.2V82H255.55ZM260.1 50.3H262.05V82H260.1ZM265.3 50.3H265.95V82H265.3ZM267.25 50.3H268.55V82H267.25ZM269.2 50.3H269.85V82H269.2ZM274.4 50.3H275.05V82H274.4ZM275.7 50.3H276.35V82H275.7ZM277.65 50.3H278.3V82H277.65ZM282.2 50.3H282.85V82H282.2ZM292.6 50.3H293.9V82H292.6ZM301.7 50.3H302.35V82H301.7ZM310.8 50.3H311.45V82H310.8ZM319.9 50.3H320.55V82H319.9ZM1043.2 50.3H1047.8V82H1043.2Z"/>
<path fill="#C7E9B4" d="M324.9 50.3H325.55V82H324.9ZM328.8 50.3H329.45V82H328.8ZM334 50.3H334.65V82H334ZM341.15 50.3H341.8V82H341.15ZM343.1 50.3H343.75V82H343.1ZM347 50.3H347.65V82H347ZM358.05 50.3H358.7V82H358.05ZM363.25 50.3H363.9V82H363.25ZM364.55 50.3H365.85V82H364.55ZM366.5 50.3H367.15V82H366.5ZM372.35 50.3H373V82H372.35ZM387.3 50.3H387.95V82H387.3ZM392.5 50.3H393.15V82H392.5ZM402.9 50.3H403.55V82H402.9ZM421.75 50.3H422.4V82H421.75ZM423.05 50.3H423.7V82H423.05ZM435.4 50.3H436.05V82H435.4ZM444.8 50.3H457.15V82H444.8ZM463.65 50.3H464.3V82H463.65ZM474.05 50.3H474.7V82H474.05ZM479.25 50.3H479.9V82H479.25ZM498.1 50.3H498.75V82H498.1ZM528 50.3H528.65V82H528ZM554.65 50.3H555.3V82H554.65ZM565.7 50.3H567V82H565.7ZM580.65 50.3H581.3V82H580.65ZM601.45 50.3H602.1V82H601.45ZM606 50.3H606.65V82H606ZM611.85 50.3H612.5V82H611.85ZM619.65 50.3H620.3V82H619.65ZM637.2 50.3H637.85V82H637.2ZM647.6 50.3H648.25V82H647.6ZM671.65 50.3H672.3V82H671.65ZM677.5 50.3H678.15V82H677.5ZM682.7 50.3H683.35V82H682.7ZM691.15 50.3H691.8V82H691.15ZM703.1 50.3H703.75V82H703.1ZM708.95 50.3H709.6V82H708.95ZM710.25 50.3H710.9V82H710.25ZM711.55 50.3H712.2V82H711.55ZM718.05 50.3H719.35V82H718.05ZM721.3 50.3H723.25V82H721.3ZM725.85 50.3H727.15V82H725.85ZM728.45 50.3H729.1V82H728.45ZM730.4 50.3H731.05V82H730.4ZM731.7 50.3H732.35V82H731.7ZM733 50.3H733.65V82H733ZM734.95 50.3H735.6V82H734.95ZM737.55 50.3H738.2V82H737.55ZM739.5 50.3H740.15V82H739.5ZM742.1 50.3H742.75V82H742.1ZM744.7 50.3H745.35V82H744.7ZM747.95 50.3H749.25V82H747.95ZM754.45 50.3H755.1V82H754.45ZM762.25 50.3H762.9V82H762.25ZM766.8 50.3H767.45V82H766.8ZM773.3 50.3H773.95V82H773.3ZM775 50.3H775.65V82H775ZM791.9 50.3H792.55V82H791.9ZM818.55 50.3H819.2V82H818.55ZM828.3 50.3H828.95V82H828.3ZM844.95 50.3H845.6V82H844.95ZM846.25 50.3H846.9V82H846.25ZM847.55 50.3H848.85V82H847.55ZM849.5 50.3H850.15V82H849.5ZM851.45 50.3H853.4V82H851.45ZM854.7 50.3H855.35V82H854.7ZM859.25 50.3H861.85V82H859.25ZM862.5 50.3H863.15V82H862.5ZM863.8 50.3H864.45V82H863.8ZM866.4 50.3H868.35V82H866.4ZM869 50.3H872.25V82H869ZM872.9 50.3H873.55V82H872.9ZM874.85 50.3H875.5V82H874.85ZM876.8 50.3H877.45V82H876.8ZM878.1 50.3H878.75V82H878.1ZM879.4 50.3H881.35V82H879.4ZM882 50.3H883.3V82H882ZM885.25 50.3H885.9V82H885.25ZM886.55 50.3H891.1V82H886.55ZM891.75 50.3H892.4V82H891.75ZM893.7 50.3H895.65V82H893.7ZM896.3 50.3H896.95V82H896.3ZM898.25 50.3H898.9V82H898.25ZM900.2 50.3H900.85V82H900.2ZM902.15 50.3H903.45V82H902.15ZM904.1 50.3H906.05V82H904.1ZM908 50.3H910.6V82H908ZM912.55 50.3H914.2V82H912.55ZM931.1 50.3H931.75V82H931.1ZM933.7 50.3H934.35V82H933.7ZM935.65 50.3H936.3V82H935.65ZM938.9 50.3H940.2V82H938.9ZM945.4 50.3H946.05V82H945.4ZM946.7 50.3H947.35V82H946.7ZM948.65 50.3H949.3V82H948.65ZM949.95 50.3H951.9V82H949.95ZM952.55 50.3H953.2V82H952.55ZM953.85 50.3H954.5V82H953.85ZM955.15 50.3H955.8V82H955.15ZM956.45 50.3H957.1V82H956.45ZM957.75 50.3H958.4V82H957.75ZM959.05 50.3H959.7V82H959.05ZM960.35 50.3H961V82H960.35ZM963.6 50.3H964.25V82H963.6ZM968.15 50.3H969.45V82H968.15ZM974.65 50.3H975.95V82H974.65ZM977.9 50.3H979.2V82H977.9ZM981.15 50.3H981.8V82H981.15ZM987 50.3H987.65V82H987ZM1005.6 50.3H1006.25V82H1005.6ZM1009.5 50.3H1010.8V82H1009.5ZM1013.4 50.3H1014.05V82H1013.4ZM1017.3 50.3H1021.2V82H1017.3ZM1021.85 50.3H1022.5V82H1021.85ZM1025.75 50.3H1027.7V82H1025.75ZM1029 50.3H1029.65V82H1029ZM1030.3 50.3H1031.6V82H1030.3ZM1032.25 50.3H1034.2V82H1032.25ZM1035.5 50.3H1036.15V82H1035.5ZM1039.4 50.3H1040.05V82H1039.4ZM1087.2 50.3H1087.85V82H1087.2ZM1089.15 50.3H1091.1V82H1089.15ZM1094.35 50.3H1095.65V82H1094.35ZM1096.3 50.3H1096.95V82H1096.3ZM1097.6 50.3H1098.9V82H1097.6ZM1099.55 50.3H1100.2V82H1099.55ZM1103.45 50.3H1104.75V82H1103.45ZM1115.8 50.3H1119.05V82H1115.8ZM1122.95 50.3H1123.6V82H1122.95ZM1124.9 50.3H1126.2V82H1124.9ZM1132.7 50.3H1133.35V82H1132.7ZM1134 50.3H1135.3V82H1134ZM1136.6 50.3H1137.25V82H1136.6ZM1137.9 50.3H1138.55V82H1137.9ZM1139.85 50.3H1140V82H1139.85ZM1147.15 50.3H1148.45V82H1147.15ZM1153 50.3H1153.65V82H1153ZM1161.45 50.3H1162.1V82H1161.45ZM1164.05 50.3H1164.7V82H1164.05ZM1169.25 50.3H1169.9V82H1169.25ZM1183.55 50.3H1184.2V82H1183.55ZM1187.45 50.3H1188.1V82H1187.45ZM1194.6 50.3H1195.25V82H1194.6ZM1207.6 50.3H1209.55V82H1207.6ZM1210.2 50.3H1210.85V82H1210.2ZM1211.5 50.3H1212.8V82H1211.5ZM1214.1 50.3H1215.4V82H1214.1ZM1216.05 50.3H1216.7V82H1216.05ZM1228.6 50.3H1229.25V82H1228.6ZM1229.9 50.3H1230.55V82H1229.9ZM1238.35 50.3H1239V82H1238.35ZM1249.4 50.3H1250.05V82H1249.4ZM1253.3 50.3H1253.95V82H1253.3ZM1255.9 50.3H1256.55V82H1255.9ZM1260.45 50.3H1261.1V82H1260.45ZM1265 50.3H1265.65V82H1265ZM1270.85 50.3H1271.5V82H1270.85ZM1314 50.3H1314.65V82H1314ZM1367.3 50.3H1367.95V82H1367.3Z"/>
<path fill="#BEBEBE" d="M698.1 50.3H703.1V82H698.1ZM1057 50.3H1069.9V82H1057ZM1080 50.3H1087.2V82H1080ZM1219 50.3H1227.3V82H1219Z"/>
<rect x="160" y="87.4" width="1228.1" height="31.5" fill="#ADD8E6"/>
<path fill="#FFD966" d="M160 87.4H333.3V118.9H160Z"/>
<path fill="#90EE90" d="M333.3 87.4H431.5V118.9H333.3ZM444.4 87.4H456V118.9H444.4ZM931.1 87.4H940.3V118.9H931.1ZM1016.8 87.4H1024.7V118.9H1016.8ZM1067.1 87.4H1069V118.9H1067.1ZM1090.9 87.4H1094.6V118.9H1090.9ZM1144.9 87.4H1165.2V118.9H1144.9ZM1227.3 87.4H1254.2V118.9H1227.3Z"/>
<path fill="#A020F0" d="M460 87.4H547.9V118.9H460ZM713.3 87.4H762.1V118.9H713.3ZM914.2 87.4H931.1V118.9H914.2ZM1359.6 87.4H1388V118.9H1359.6Z"/>
<path fill="#0072B2" d="M609.7 87.4H690.2V118.9H609.7ZM692.1 87.4H698.1V118.9H692.1ZM1189.7 87.4H1196V118.9H1189.7Z"/>
<path fill="#BEBEBE" d="M698.1 87.4H703.1V118.9H698.1ZM1011.8 87.4H1014V118.9H1011.8ZM1057 87.4H1067.1V118.9H1057ZM1080 87.4H1087.2V118.9H1080ZM1219 87.4H1227.3V118.9H1219Z"/>
<path fill="#009E73" d="M951 87.4H976.3V118.9H951Z"/>
<path fill="#FF0000" d="M1006.7 87.4H1011.8V118.9H1006.7ZM1026 87.4H1036.2V118.9H1026ZM1046.8 87.4H1048.3V118.9H1046.8ZM1196 87.4H1207.6V118.9H1196Z"/>
<path fill="#E69F00" d="M1116.3 87.4H1140.3V118.9H1116.3Z"/>
<path fill="#BEBEBE" d="M213.6 87.4h0.7V118.9h-0.7ZM314.6 87.4h0.7V118.9h-0.7ZM411.2 87.4h0.8V118.9h-0.8ZM419.5 87.4h0.8V118.9h-0.8ZM439.8 87.4h0.8V118.9h-0.8ZM535.4 87.4h0.8V118.9h-0.8ZM798 87.4h0.7V118.9h-0.7ZM831.2 87.4h0.7V118.9h-0.7ZM881.5 87.4h0.7V118.9h-0.7ZM1107 87.4h0.7V118.9h-0.7ZM1110.8 87.4h3.7V118.9h-3.7ZM556 87.4h0.6V118.9h-0.6ZM574 87.4h0.6V118.9h-0.6ZM652 87.4h0.5V118.9h-0.5ZM1273 87.4h0.6V118.9h-0.6ZM1311 87.4h0.6V118.9h-0.6ZM1329 87.4h0.6V118.9h-0.6ZM1346 87.4h0.6V118.9h-0.6ZM990 87.4h0.6V118.9h-0.6ZM1182 87.4h0.6V118.9h-0.6ZM1095 87.4h0.6V118.9h-0.6Z"/>
<path fill="#ADD8E6" d="M678.4 87.4h0.8V118.9h-0.8ZM1380.6 87.4h0.9V118.9h-0.9Z"/>
<path fill="#FFD966" d="M842.8 87.4h4.1V118.9h-4.1Z"/>
<path fill="#0072B2" d="M968.5 87.4h2.8V118.9h-2.8ZM1015.3 87.4h0.7V118.9h-0.7ZM1167.6 87.4h1V118.9h-1Z"/>
<path fill="#A020F0" d="M1076.7 87.4h0.9V118.9h-0.9ZM1079 87.4h0.7V118.9h-0.7Z"/>
<path fill="#90EE90" d="M1104.2 87.4h0.8V118.9h-0.8ZM1299.5 87.4h0.8V118.9h-0.8Z"/>
<path fill="#fff" fill-opacity=".17" d="M164.90 87.4h.65V118.9h-.65ZM167.50 87.4h.65V118.9h-.65ZM170.10 87.4h.65V118.9h-.65ZM174.00 87.4h.65V118.9h-.65ZM175.30 87.4h.65V118.9h-.65ZM178.55 87.4h.65V118.9h-.65ZM180.50 87.4h.65V118.9h-.65ZM181.80 87.4h.65V118.9h-.65ZM183.75 87.4h.65V118.9h-.65ZM185.05 87.4h.65V118.9h-.65ZM187.65 87.4h.65V118.9h-.65ZM190.90 87.4h.65V118.9h-.65ZM192.85 87.4h.65V118.9h-.65ZM196.10 87.4h.65V118.9h-.65ZM200.00 87.4h.65V118.9h-.65ZM201.30 87.4h.65V118.9h-.65ZM205.20 87.4h.65V118.9h-.65ZM207.15 87.4h.65V118.9h-.65ZM208.45 87.4h.65V118.9h-.65ZM210.40 87.4h.65V118.9h-.65ZM213.65 87.4h.65V118.9h-.65ZM216.25 87.4h.65V118.9h-.65ZM218.20 87.4h.65V118.9h-.65ZM221.45 87.4h.65V118.9h-.65ZM223.40 87.4h.65V118.9h-.65ZM224.70 87.4h.65V118.9h-.65ZM226.65 87.4h.65V118.9h-.65ZM230.55 87.4h.65V118.9h-.65ZM234.45 87.4h.65V118.9h-.65ZM237.70 87.4h.65V118.9h-.65ZM239.65 87.4h.65V118.9h-.65ZM241.60 87.4h.65V118.9h-.65ZM242.90 87.4h.65V118.9h-.65ZM244.20 87.4h.65V118.9h-.65ZM246.15 87.4h.65V118.9h-.65ZM248.10 87.4h.65V118.9h-.65ZM250.05 87.4h.65V118.9h-.65ZM252.00 87.4h.65V118.9h-.65ZM254.60 87.4h.65V118.9h-.65ZM257.20 87.4h.65V118.9h-.65ZM259.15 87.4h.65V118.9h-.65ZM263.05 87.4h.65V118.9h-.65ZM265.00 87.4h.65V118.9h-.65ZM266.95 87.4h.65V118.9h-.65ZM268.90 87.4h.65V118.9h-.65ZM272.15 87.4h.65V118.9h-.65ZM274.75 87.4h.65V118.9h-.65ZM276.05 87.4h.65V118.9h-.65ZM278.65 87.4h.65V118.9h-.65ZM281.90 87.4h.65V118.9h-.65ZM283.85 87.4h.65V118.9h-.65ZM285.80 87.4h.65V118.9h-.65ZM288.40 87.4h.65V118.9h-.65ZM289.70 87.4h.65V118.9h-.65ZM292.30 87.4h.65V118.9h-.65ZM294.90 87.4h.65V118.9h-.65ZM298.80 87.4h.65V118.9h-.65ZM302.70 87.4h.65V118.9h-.65ZM304.00 87.4h.65V118.9h-.65ZM307.90 87.4h.65V118.9h-.65ZM310.50 87.4h.65V118.9h-.65ZM311.80 87.4h.65V118.9h-.65ZM314.40 87.4h.65V118.9h-.65ZM317.00 87.4h.65V118.9h-.65ZM319.60 87.4h.65V118.9h-.65ZM322.85 87.4h.65V118.9h-.65ZM325.45 87.4h.65V118.9h-.65ZM327.40 87.4h.65V118.9h-.65ZM330.65 87.4h.65V118.9h-.65ZM333.90 87.4h.65V118.9h-.65ZM335.85 87.4h.65V118.9h-.65ZM337.15 87.4h.65V118.9h-.65ZM339.75 87.4h.65V118.9h-.65ZM341.05 87.4h.65V118.9h-.65ZM343.65 87.4h.65V118.9h-.65ZM346.90 87.4h.65V118.9h-.65ZM348.20 87.4h.65V118.9h-.65ZM352.10 87.4h.65V118.9h-.65ZM355.35 87.4h.65V118.9h-.65ZM357.95 87.4h.65V118.9h-.65ZM361.20 87.4h.65V118.9h-.65ZM365.10 87.4h.65V118.9h-.65ZM366.40 87.4h.65V118.9h-.65ZM369.65 87.4h.65V118.9h-.65ZM370.95 87.4h.65V118.9h-.65ZM372.90 87.4h.65V118.9h-.65ZM376.80 87.4h.65V118.9h-.65ZM378.75 87.4h.65V118.9h-.65ZM380.05 87.4h.65V118.9h-.65ZM382.00 87.4h.65V118.9h-.65ZM385.25 87.4h.65V118.9h-.65ZM387.85 87.4h.65V118.9h-.65ZM391.75 87.4h.65V118.9h-.65ZM394.35 87.4h.65V118.9h-.65ZM398.25 87.4h.65V118.9h-.65ZM400.85 87.4h.65V118.9h-.65ZM404.10 87.4h.65V118.9h-.65ZM405.40 87.4h.65V118.9h-.65ZM409.30 87.4h.65V118.9h-.65ZM411.90 87.4h.65V118.9h-.65ZM414.50 87.4h.65V118.9h-.65ZM415.80 87.4h.65V118.9h-.65ZM419.05 87.4h.65V118.9h-.65ZM420.35 87.4h.65V118.9h-.65ZM422.30 87.4h.65V118.9h-.65ZM424.90 87.4h.65V118.9h-.65ZM428.80 87.4h.65V118.9h-.65ZM432.70 87.4h.65V118.9h-.65ZM435.30 87.4h.65V118.9h-.65ZM437.25 87.4h.65V118.9h-.65ZM439.85 87.4h.65V118.9h-.65ZM442.45 87.4h.65V118.9h-.65ZM446.35 87.4h.65V118.9h-.65ZM447.65 87.4h.65V118.9h-.65ZM450.25 87.4h.65V118.9h-.65ZM452.85 87.4h.65V118.9h-.65ZM455.45 87.4h.65V118.9h-.65ZM457.40 87.4h.65V118.9h-.65ZM458.70 87.4h.65V118.9h-.65ZM460.65 87.4h.65V118.9h-.65ZM463.25 87.4h.65V118.9h-.65ZM466.50 87.4h.65V118.9h-.65ZM468.45 87.4h.65V118.9h-.65ZM469.75 87.4h.65V118.9h-.65ZM471.05 87.4h.65V118.9h-.65ZM474.95 87.4h.65V118.9h-.65ZM478.85 87.4h.65V118.9h-.65ZM482.10 87.4h.65V118.9h-.65ZM483.40 87.4h.65V118.9h-.65ZM485.35 87.4h.65V118.9h-.65ZM489.25 87.4h.65V118.9h-.65ZM491.85 87.4h.65V118.9h-.65ZM494.45 87.4h.65V118.9h-.65ZM497.70 87.4h.65V118.9h-.65ZM500.95 87.4h.65V118.9h-.65ZM502.90 87.4h.65V118.9h-.65ZM504.20 87.4h.65V118.9h-.65ZM505.50 87.4h.65V118.9h-.65ZM508.75 87.4h.65V118.9h-.65ZM511.35 87.4h.65V118.9h-.65ZM513.30 87.4h.65V118.9h-.65ZM515.25 87.4h.65V118.9h-.65ZM519.15 87.4h.65V118.9h-.65ZM521.10 87.4h.65V118.9h-.65ZM524.35 87.4h.65V118.9h-.65ZM525.65 87.4h.65V118.9h-.65ZM527.60 87.4h.65V118.9h-.65ZM530.85 87.4h.65V118.9h-.65ZM533.45 87.4h.65V118.9h-.65ZM535.40 87.4h.65V118.9h-.65ZM536.70 87.4h.65V118.9h-.65ZM539.95 87.4h.65V118.9h-.65ZM542.55 87.4h.65V118.9h-.65ZM544.50 87.4h.65V118.9h-.65ZM547.75 87.4h.65V118.9h-.65ZM551.65 87.4h.65V118.9h-.65ZM553.60 87.4h.65V118.9h-.65ZM557.50 87.4h.65V118.9h-.65ZM560.75 87.4h.65V118.9h-.65ZM564.00 87.4h.65V118.9h-.65ZM566.60 87.4h.65V118.9h-.65ZM569.85 87.4h.65V118.9h-.65ZM572.45 87.4h.65V118.9h-.65ZM575.05 87.4h.65V118.9h-.65ZM578.30 87.4h.65V118.9h-.65ZM581.55 87.4h.65V118.9h-.65ZM583.50 87.4h.65V118.9h-.65ZM584.80 87.4h.65V118.9h-.65ZM588.05 87.4h.65V118.9h-.65ZM591.95 87.4h.65V118.9h-.65ZM593.90 87.4h.65V118.9h-.65ZM597.15 87.4h.65V118.9h-.65ZM599.75 87.4h.65V118.9h-.65ZM601.70 87.4h.65V118.9h-.65ZM603.00 87.4h.65V118.9h-.65ZM606.25 87.4h.65V118.9h-.65ZM608.85 87.4h.65V118.9h-.65ZM612.75 87.4h.65V118.9h-.65ZM616.65 87.4h.65V118.9h-.65ZM620.55 87.4h.65V118.9h-.65ZM623.15 87.4h.65V118.9h-.65ZM624.45 87.4h.65V118.9h-.65ZM627.05 87.4h.65V118.9h-.65ZM630.95 87.4h.65V118.9h-.65ZM632.25 87.4h.65V118.9h-.65ZM634.85 87.4h.65V118.9h-.65ZM637.45 87.4h.65V118.9h-.65ZM641.35 87.4h.65V118.9h-.65ZM643.95 87.4h.65V118.9h-.65ZM647.20 87.4h.65V118.9h-.65ZM649.80 87.4h.65V118.9h-.65ZM652.40 87.4h.65V118.9h-.65ZM655.00 87.4h.65V118.9h-.65ZM656.95 87.4h.65V118.9h-.65ZM660.85 87.4h.65V118.9h-.65ZM662.15 87.4h.65V118.9h-.65ZM665.40 87.4h.65V118.9h-.65ZM669.30 87.4h.65V118.9h-.65ZM671.90 87.4h.65V118.9h-.65ZM674.50 87.4h.65V118.9h-.65ZM677.10 87.4h.65V118.9h-.65ZM680.35 87.4h.65V118.9h-.65ZM682.95 87.4h.65V118.9h-.65ZM686.85 87.4h.65V118.9h-.65ZM689.45 87.4h.65V118.9h-.65ZM692.05 87.4h.65V118.9h-.65ZM694.65 87.4h.65V118.9h-.65ZM697.25 87.4h.65V118.9h-.65ZM700.50 87.4h.65V118.9h-.65ZM703.10 87.4h.65V118.9h-.65ZM705.05 87.4h.65V118.9h-.65ZM708.30 87.4h.65V118.9h-.65ZM710.90 87.4h.65V118.9h-.65ZM713.50 87.4h.65V118.9h-.65ZM717.40 87.4h.65V118.9h-.65ZM719.35 87.4h.65V118.9h-.65ZM723.25 87.4h.65V118.9h-.65ZM725.20 87.4h.65V118.9h-.65ZM727.15 87.4h.65V118.9h-.65ZM729.75 87.4h.65V118.9h-.65ZM733.00 87.4h.65V118.9h-.65ZM735.60 87.4h.65V118.9h-.65ZM736.90 87.4h.65V118.9h-.65ZM740.15 87.4h.65V118.9h-.65ZM742.10 87.4h.65V118.9h-.65ZM746.00 87.4h.65V118.9h-.65ZM749.90 87.4h.65V118.9h-.65ZM753.80 87.4h.65V118.9h-.65ZM757.05 87.4h.65V118.9h-.65ZM759.65 87.4h.65V118.9h-.65ZM763.55 87.4h.65V118.9h-.65ZM767.45 87.4h.65V118.9h-.65ZM770.05 87.4h.65V118.9h-.65ZM771.35 87.4h.65V118.9h-.65ZM773.30 87.4h.65V118.9h-.65ZM775.25 87.4h.65V118.9h-.65ZM779.15 87.4h.65V118.9h-.65ZM782.40 87.4h.65V118.9h-.65ZM786.30 87.4h.65V118.9h-.65ZM788.25 87.4h.65V118.9h-.65ZM790.20 87.4h.65V118.9h-.65ZM792.15 87.4h.65V118.9h-.65ZM793.45 87.4h.65V118.9h-.65ZM796.70 87.4h.65V118.9h-.65ZM798.65 87.4h.65V118.9h-.65ZM800.60 87.4h.65V118.9h-.65ZM801.90 87.4h.65V118.9h-.65ZM803.85 87.4h.65V118.9h-.65ZM805.15 87.4h.65V118.9h-.65ZM807.75 87.4h.65V118.9h-.65ZM809.70 87.4h.65V118.9h-.65ZM812.95 87.4h.65V118.9h-.65ZM814.90 87.4h.65V118.9h-.65ZM818.80 87.4h.65V118.9h-.65ZM820.10 87.4h.65V118.9h-.65ZM823.35 87.4h.65V118.9h-.65ZM826.60 87.4h.65V118.9h-.65ZM829.20 87.4h.65V118.9h-.65ZM832.45 87.4h.65V118.9h-.65ZM836.35 87.4h.65V118.9h-.65ZM837.65 87.4h.65V118.9h-.65ZM841.55 87.4h.65V118.9h-.65ZM843.50 87.4h.65V118.9h-.65ZM845.45 87.4h.65V118.9h-.65ZM848.05 87.4h.65V118.9h-.65ZM849.35 87.4h.65V118.9h-.65ZM851.95 87.4h.65V118.9h-.65ZM855.20 87.4h.65V118.9h-.65ZM857.80 87.4h.65V118.9h-.65ZM861.05 87.4h.65V118.9h-.65ZM862.35 87.4h.65V118.9h-.65ZM866.25 87.4h.65V118.9h-.65ZM868.85 87.4h.65V118.9h-.65ZM870.15 87.4h.65V118.9h-.65ZM874.05 87.4h.65V118.9h-.65ZM877.95 87.4h.65V118.9h-.65ZM880.55 87.4h.65V118.9h-.65ZM881.85 87.4h.65V118.9h-.65ZM884.45 87.4h.65V118.9h-.65ZM888.35 87.4h.65V118.9h-.65ZM892.25 87.4h.65V118.9h-.65ZM894.85 87.4h.65V118.9h-.65ZM898.75 87.4h.65V118.9h-.65ZM901.35 87.4h.65V118.9h-.65ZM903.95 87.4h.65V118.9h-.65ZM905.90 87.4h.65V118.9h-.65ZM909.15 87.4h.65V118.9h-.65ZM912.40 87.4h.65V118.9h-.65ZM916.30 87.4h.65V118.9h-.65ZM920.20 87.4h.65V118.9h-.65ZM922.80 87.4h.65V118.9h-.65ZM926.05 87.4h.65V118.9h-.65ZM928.00 87.4h.65V118.9h-.65ZM929.95 87.4h.65V118.9h-.65ZM933.85 87.4h.65V118.9h-.65ZM937.10 87.4h.65V118.9h-.65ZM941.00 87.4h.65V118.9h-.65ZM944.25 87.4h.65V118.9h-.65ZM946.20 87.4h.65V118.9h-.65ZM948.15 87.4h.65V118.9h-.65ZM952.05 87.4h.65V118.9h-.65ZM953.35 87.4h.65V118.9h-.65ZM955.95 87.4h.65V118.9h-.65ZM957.25 87.4h.65V118.9h-.65ZM960.50 87.4h.65V118.9h-.65ZM961.80 87.4h.65V118.9h-.65ZM964.40 87.4h.65V118.9h-.65ZM968.30 87.4h.65V118.9h-.65ZM972.20 87.4h.65V118.9h-.65ZM976.10 87.4h.65V118.9h-.65ZM978.05 87.4h.65V118.9h-.65ZM980.65 87.4h.65V118.9h-.65ZM984.55 87.4h.65V118.9h-.65ZM987.80 87.4h.65V118.9h-.65ZM991.05 87.4h.65V118.9h-.65ZM994.30 87.4h.65V118.9h-.65ZM996.25 87.4h.65V118.9h-.65ZM999.50 87.4h.65V118.9h-.65ZM1002.10 87.4h.65V118.9h-.65ZM1005.35 87.4h.65V118.9h-.65ZM1008.60 87.4h.65V118.9h-.65ZM1011.85 87.4h.65V118.9h-.65ZM1013.80 87.4h.65V118.9h-.65ZM1017.70 87.4h.65V118.9h-.65ZM1021.60 87.4h.65V118.9h-.65ZM1024.20 87.4h.65V118.9h-.65ZM1026.80 87.4h.65V118.9h-.65ZM1030.05 87.4h.65V118.9h-.65ZM1032.65 87.4h.65V118.9h-.65ZM1035.90 87.4h.65V118.9h-.65ZM1037.20 87.4h.65V118.9h-.65ZM1039.80 87.4h.65V118.9h-.65ZM1042.40 87.4h.65V118.9h-.65ZM1045.65 87.4h.65V118.9h-.65ZM1048.25 87.4h.65V118.9h-.65ZM1050.20 87.4h.65V118.9h-.65ZM1053.45 87.4h.65V118.9h-.65ZM1054.75 87.4h.65V118.9h-.65ZM1056.05 87.4h.65V118.9h-.65ZM1059.95 87.4h.65V118.9h-.65ZM1063.20 87.4h.65V118.9h-.65ZM1065.15 87.4h.65V118.9h-.65ZM1067.75 87.4h.65V118.9h-.65ZM1069.05 87.4h.65V118.9h-.65ZM1071.00 87.4h.65V118.9h-.65ZM1074.25 87.4h.65V118.9h-.65ZM1075.55 87.4h.65V118.9h-.65ZM1078.80 87.4h.65V118.9h-.65ZM1082.70 87.4h.65V118.9h-.65ZM1086.60 87.4h.65V118.9h-.65ZM1089.20 87.4h.65V118.9h-.65ZM1091.15 87.4h.65V118.9h-.65ZM1094.40 87.4h.65V118.9h-.65ZM1095.70 87.4h.65V118.9h-.65ZM1097.65 87.4h.65V118.9h-.65ZM1100.90 87.4h.65V118.9h-.65ZM1103.50 87.4h.65V118.9h-.65ZM1105.45 87.4h.65V118.9h-.65ZM1108.05 87.4h.65V118.9h-.65ZM1110.65 87.4h.65V118.9h-.65ZM1113.90 87.4h.65V118.9h-.65ZM1117.80 87.4h.65V118.9h-.65ZM1121.05 87.4h.65V118.9h-.65ZM1124.95 87.4h.65V118.9h-.65ZM1128.85 87.4h.65V118.9h-.65ZM1130.15 87.4h.65V118.9h-.65ZM1131.45 87.4h.65V118.9h-.65ZM1133.40 87.4h.65V118.9h-.65ZM1136.00 87.4h.65V118.9h-.65ZM1138.60 87.4h.65V118.9h-.65ZM1142.50 87.4h.65V118.9h-.65ZM1145.10 87.4h.65V118.9h-.65ZM1149.00 87.4h.65V118.9h-.65ZM1151.60 87.4h.65V118.9h-.65ZM1155.50 87.4h.65V118.9h-.65ZM1156.80 87.4h.65V118.9h-.65ZM1160.05 87.4h.65V118.9h-.65ZM1162.65 87.4h.65V118.9h-.65ZM1165.25 87.4h.65V118.9h-.65ZM1169.15 87.4h.65V118.9h-.65ZM1171.10 87.4h.65V118.9h-.65ZM1172.40 87.4h.65V118.9h-.65ZM1173.70 87.4h.65V118.9h-.65ZM1176.30 87.4h.65V118.9h-.65ZM1180.20 87.4h.65V118.9h-.65ZM1183.45 87.4h.65V118.9h-.65ZM1184.75 87.4h.65V118.9h-.65ZM1188.65 87.4h.65V118.9h-.65ZM1190.60 87.4h.65V118.9h-.65ZM1191.90 87.4h.65V118.9h-.65ZM1195.15 87.4h.65V118.9h-.65ZM1198.40 87.4h.65V118.9h-.65ZM1202.30 87.4h.65V118.9h-.65ZM1206.20 87.4h.65V118.9h-.65ZM1209.45 87.4h.65V118.9h-.65ZM1212.70 87.4h.65V118.9h-.65ZM1215.95 87.4h.65V118.9h-.65ZM1219.20 87.4h.65V118.9h-.65ZM1221.15 87.4h.65V118.9h-.65ZM1223.75 87.4h.65V118.9h-.65ZM1227.00 87.4h.65V118.9h-.65ZM1228.30 87.4h.65V118.9h-.65ZM1230.90 87.4h.65V118.9h-.65ZM1232.20 87.4h.65V118.9h-.65ZM1235.45 87.4h.65V118.9h-.65ZM1239.35 87.4h.65V118.9h-.65ZM1241.95 87.4h.65V118.9h-.65ZM1245.20 87.4h.65V118.9h-.65ZM1247.80 87.4h.65V118.9h-.65ZM1249.75 87.4h.65V118.9h-.65ZM1251.70 87.4h.65V118.9h-.65ZM1254.95 87.4h.65V118.9h-.65ZM1258.85 87.4h.65V118.9h-.65ZM1262.10 87.4h.65V118.9h-.65ZM1264.70 87.4h.65V118.9h-.65ZM1268.60 87.4h.65V118.9h-.65ZM1270.55 87.4h.65V118.9h-.65ZM1273.80 87.4h.65V118.9h-.65ZM1277.70 87.4h.65V118.9h-.65ZM1281.60 87.4h.65V118.9h-.65ZM1282.90 87.4h.65V118.9h-.65ZM1284.20 87.4h.65V118.9h-.65ZM1286.15 87.4h.65V118.9h-.65ZM1288.75 87.4h.65V118.9h-.65ZM1290.05 87.4h.65V118.9h-.65ZM1291.35 87.4h.65V118.9h-.65ZM1292.65 87.4h.65V118.9h-.65ZM1295.25 87.4h.65V118.9h-.65ZM1298.50 87.4h.65V118.9h-.65ZM1299.80 87.4h.65V118.9h-.65ZM1303.05 87.4h.65V118.9h-.65ZM1306.30 87.4h.65V118.9h-.65ZM1307.60 87.4h.65V118.9h-.65ZM1308.90 87.4h.65V118.9h-.65ZM1310.20 87.4h.65V118.9h-.65ZM1312.15 87.4h.65V118.9h-.65ZM1316.05 87.4h.65V118.9h-.65ZM1317.35 87.4h.65V118.9h-.65ZM1319.30 87.4h.65V118.9h-.65ZM1321.90 87.4h.65V118.9h-.65ZM1325.15 87.4h.65V118.9h-.65ZM1327.10 87.4h.65V118.9h-.65ZM1329.05 87.4h.65V118.9h-.65ZM1332.95 87.4h.65V118.9h-.65ZM1334.90 87.4h.65V118.9h-.65ZM1338.15 87.4h.65V118.9h-.65ZM1340.10 87.4h.65V118.9h-.65ZM1341.40 87.4h.65V118.9h-.65ZM1345.30 87.4h.65V118.9h-.65ZM1347.25 87.4h.65V118.9h-.65ZM1348.55 87.4h.65V118.9h-.65ZM1352.45 87.4h.65V118.9h-.65ZM1353.75 87.4h.65V118.9h-.65ZM1357.00 87.4h.65V118.9h-.65ZM1358.30 87.4h.65V118.9h-.65ZM1360.90 87.4h.65V118.9h-.65ZM1362.20 87.4h.65V118.9h-.65ZM1366.10 87.4h.65V118.9h-.65ZM1370.00 87.4h.65V118.9h-.65ZM1371.30 87.4h.65V118.9h-.65ZM1374.55 87.4h.65V118.9h-.65ZM1378.45 87.4h.65V118.9h-.65ZM1380.40 87.4h.65V118.9h-.65ZM1381.70 87.4h.65V118.9h-.65ZM1384.95 87.4h.65V118.9h-.65ZM1386.25 87.4h.65V118.9h-.65ZM1388.85 87.4h.65V118.9h-.65Z"/>
</g>
<text x="1394.1" y="38.8" font-size="27" textLength="58.1" lengthAdjust="spacingAndGlyphs">MDA</text>
<text x="1394.8" y="76.1" font-size="27" textLength="55" lengthAdjust="spacingAndGlyphs">Year</text>
<text x="1394.1" y="114.2" font-size="27" textLength="93.4" lengthAdjust="spacingAndGlyphs" font-style="italic">kelch13</text>
<g>
<rect x="161" y="128" width="1227.06" height="960.2" fill="#FFFAA9"/>
<path fill="#FFFFB2" d="M1146.3 361.56H1157.52V431.38H1146.3ZM1197.35 361.56H1219.49V431.38H1197.35ZM1294.04 361.56H1332.38V431.38H1294.04ZM1360.06 361.56H1385.88V431.38H1360.06ZM1146.3 738.54H1157.52V746.71H1146.3ZM1169.13 738.54H1190.65V746.71H1169.13ZM1197.35 738.54H1210.29V746.71H1197.35ZM1255.02 738.54H1274.34V746.71H1255.02ZM1360.06 738.54H1385.88V746.71H1360.06ZM1186.92 795.57H1190.65V798.37H1186.92ZM1255.02 814.01H1274.34V818.63H1255.02ZM459.52 898.99H548.66V907.83H459.52ZM941.26 898.99H951.62V907.83H941.26ZM1255.02 898.99H1274.34V907.83H1255.02ZM941.26 916.85H951.62V931.07H941.26ZM941.26 930.77H951.62V933.76H941.26ZM1014.15 930.77H1017.64V933.76H1014.15ZM459.52 938.93H548.66V949.12H459.52ZM941.26 938.93H951.62V949.12H941.26ZM459.52 948.82H548.66V956.32H459.52ZM941.26 984.06H951.62V999.24H941.26ZM1037.71 984.06H1043.53V999.24H1037.71ZM1146.3 984.06H1157.52V999.24H1146.3ZM459.52 1014.59H548.66V1021.14H459.52ZM459.52 1020.84H548.66V1044.66H459.52ZM459.52 1066.25H548.66V1086.53H459.52ZM941.26 1066.25H951.62V1086.53H941.26Z"/>
<path fill="#FFF7A4" d="M335.34 128H432.58V133.53H335.34ZM548.36 128H550.13V133.53H548.36ZM563.2 128H698.48V133.53H563.2ZM704.07 128H713.7V133.53H704.07ZM763.21 128H811.74V133.53H763.21ZM847.39 128H931.62V133.53H847.39ZM951.32 128H969.66V133.53H951.32ZM991.45 128H1006.59V133.53H991.45ZM1017.34 128H1027.58V133.53H1017.34ZM1043.23 128H1057.52V133.53H1043.23ZM1066.91 128H1117.28V133.53H1066.91ZM1141.27 128H1146.6V133.53H1141.27ZM1157.22 128H1187.22V133.53H1157.22ZM1209.99 128H1219.49V133.53H1209.99ZM1385.58 128H1388.06V133.53H1385.58ZM335.34 133.23H432.58V255.38H335.34ZM548.36 133.23H550.13V255.38H548.36ZM563.2 133.23H698.48V255.38H563.2ZM704.07 133.23H713.7V255.38H704.07ZM763.21 133.23H811.74V255.38H763.21ZM847.39 133.23H931.62V255.38H847.39ZM951.32 133.23H977.39V255.38H951.32ZM991.45 133.23H1006.59V255.38H991.45ZM1017.34 133.23H1026.47V255.38H1017.34ZM1043.23 133.23H1084.39V255.38H1043.23ZM1087.03 133.23H1090.03V255.38H1087.03ZM1093.05 133.23H1146.6V255.38H1093.05ZM1157.22 133.23H1187.22V255.38H1157.22ZM1209.99 133.23H1228.69V255.38H1209.99ZM1385.58 133.23H1388.06V255.38H1385.58ZM441.36 255.08H456.5V258.45H441.36ZM548.36 255.08H609.4V258.45H548.36ZM678.3 255.08H706.82V258.45H678.3ZM763.21 255.08H811.74V258.45H763.21ZM847.39 255.08H891.62V258.45H847.39ZM896.35 255.08H914.69V258.45H896.35ZM977.09 255.08H991.75V258.45H977.09ZM1017.34 255.08H1027.58V258.45H1017.34ZM1048.14 255.08H1057.52V258.45H1048.14ZM1066.91 255.08H1073.71V258.45H1066.91ZM1077.34 255.08H1113.23V258.45H1077.34ZM1332.08 255.08H1360.36V258.45H1332.08ZM1385.58 255.08H1388.06V258.45H1385.58ZM424.3 258.15H432.58V264.69H424.3ZM441.36 258.15H456.5V264.69H441.36ZM548.36 258.15H609.4V264.69H548.36ZM678.3 258.15H706.82V264.69H678.3ZM763.21 258.15H811.74V264.69H763.21ZM847.39 258.15H891.62V264.69H847.39ZM896.35 258.15H914.69V264.69H896.35ZM951.32 258.15H969.66V264.69H951.32ZM977.09 258.15H991.75V264.69H977.09ZM1017.34 258.15H1027.58V264.69H1017.34ZM1048.14 258.15H1057.52V264.69H1048.14ZM1066.91 258.15H1073.71V264.69H1066.91ZM1077.34 258.15H1113.23V264.69H1077.34ZM1332.08 258.15H1360.36V264.69H1332.08ZM1385.58 258.15H1388.06V264.69H1385.58ZM161 264.39H323.74V334.3H161ZM459.52 264.39H548.66V334.3H459.52ZM713.4 264.39H763.51V334.3H713.4ZM891.32 264.39H941.56V334.3H891.32ZM951.32 264.39H1006.59V334.3H951.32ZM1066.91 264.39H1084.39V334.3H1066.91ZM1087.03 264.39H1090.03V334.3H1087.03ZM1093.05 264.39H1113.23V334.3H1093.05ZM1141.27 264.39H1146.6V334.3H1141.27ZM1157.22 264.39H1165.5V334.3H1157.22ZM1169.13 264.39H1190.65V334.3H1169.13ZM1197.35 264.39H1255.32V334.3H1197.35ZM1279.56 264.39H1302.32V334.3H1279.56ZM1332.08 264.39H1360.36V334.3H1332.08ZM1385.58 264.39H1388.06V334.3H1385.58ZM161 334H323.74V340.55H161ZM327.36 334H335.64V340.55H327.36ZM459.52 334H548.66V340.55H459.52ZM713.4 334H763.51V340.55H713.4ZM891.32 334H941.56V340.55H891.32ZM951.32 334H1014.45V340.55H951.32ZM1066.91 334H1084.39V340.55H1066.91ZM1087.03 334H1090.03V340.55H1087.03ZM1093.05 334H1113.23V340.55H1093.05ZM1141.27 334H1146.6V340.55H1141.27ZM1157.22 334H1165.5V340.55H1157.22ZM1169.13 334H1190.65V340.55H1169.13ZM1197.35 334H1274.34V340.55H1197.35ZM1294.04 334H1302.32V340.55H1294.04ZM1332.08 334H1388.06V340.55H1332.08ZM459.52 340.25H548.66V347.65H459.52ZM891.32 340.25H896.65V347.65H891.32ZM1006.29 340.25H1014.45V347.65H1006.29ZM1027.28 340.25H1057.52V347.65H1027.28ZM1066.91 340.25H1084.39V347.65H1066.91ZM1093.05 340.25H1113.23V347.65H1093.05ZM1141.27 340.25H1146.6V347.65H1141.27ZM1228.39 340.25H1274.34V347.65H1228.39ZM1294.04 340.25H1302.32V347.65H1294.04ZM1332.08 340.25H1388.06V347.65H1332.08ZM323.44 347.35H335.64V349H323.44ZM459.52 347.35H548.66V349H459.52ZM609.1 347.35H678.6V349H609.1ZM706.52 347.35H713.7V349H706.52ZM891.32 347.35H914.69V349H891.32ZM941.26 347.35H951.62V349H941.26ZM969.36 347.35H977.39V349H969.36ZM991.45 347.35H1014.45V349H991.45ZM1027.28 347.35H1043.53V349H1027.28ZM1073.41 347.35H1077.64V349H1073.41ZM1141.27 347.35H1157.52V349H1141.27ZM1228.39 347.35H1274.34V349H1228.39ZM1360.06 347.35H1388.06V349H1360.06ZM323.44 348.7H335.64V357.25H323.44ZM459.52 348.7H548.66V357.25H459.52ZM609.1 348.7H681.3V357.25H609.1ZM706.52 348.7H713.7V357.25H706.52ZM891.32 348.7H931.62V357.25H891.32ZM941.26 348.7H951.62V357.25H941.26ZM969.36 348.7H977.39V357.25H969.36ZM991.45 348.7H1014.45V357.25H991.45ZM1027.28 348.7H1048.44V357.25H1027.28ZM1066.91 348.7H1070.16V357.25H1066.91ZM1073.41 348.7H1077.64V357.25H1073.41ZM1141.27 348.7H1157.52V357.25H1141.27ZM1219.19 348.7H1274.34V357.25H1219.19ZM1360.06 348.7H1388.06V357.25H1360.06ZM323.44 356.95H335.64V359.27H323.44ZM459.52 356.95H548.66V359.27H459.52ZM609.1 356.95H681.3V359.27H609.1ZM706.52 356.95H713.7V359.27H706.52ZM891.32 356.95H931.62V359.27H891.32ZM941.26 356.95H951.62V359.27H941.26ZM969.36 356.95H977.39V359.27H969.36ZM991.45 356.95H1014.45V359.27H991.45ZM1027.28 356.95H1048.44V359.27H1027.28ZM1073.41 356.95H1077.64V359.27H1073.41ZM1141.27 356.95H1157.52V359.27H1141.27ZM1228.39 356.95H1274.34V359.27H1228.39ZM1360.06 356.95H1388.06V359.27H1360.06ZM459.52 358.97H763.51V361.86H459.52ZM891.32 358.97H941.56V361.86H891.32ZM951.32 358.97H991.75V361.86H951.32ZM1027.28 358.97H1057.52V361.86H1027.28ZM1066.91 358.97H1113.23V361.86H1066.91ZM1116.98 358.97H1193.84V361.86H1116.98ZM1197.35 358.97H1255.32V361.86H1197.35ZM1274.04 358.97H1302.32V361.86H1274.04ZM1332.08 358.97H1360.36V361.86H1332.08ZM1385.58 358.97H1388.06V361.86H1385.58ZM335.34 361.56H459.82V431.38H335.34ZM548.36 361.56H563.5V431.38H548.36ZM681 361.56H706.82V431.38H681ZM763.21 361.56H847.69V431.38H763.21ZM951.32 361.56H969.66V431.38H951.32ZM977.09 361.56H991.75V431.38H977.09ZM1027.28 361.56H1038.01V431.38H1027.28ZM1043.23 361.56H1067.21V431.38H1043.23ZM1069.86 361.56H1073.71V431.38H1069.86ZM1077.34 361.56H1097.4V431.38H1077.34ZM1100.16 361.56H1141.57V431.38H1100.16ZM1193.54 361.56H1197.65V431.38H1193.54ZM161 431.08H335.64V432.53H161ZM456.2 431.08H548.66V432.53H456.2ZM713.4 431.08H811.74V432.53H713.4ZM891.32 431.08H941.56V432.53H891.32ZM991.45 431.08H1057.52V432.53H991.45ZM1066.91 431.08H1070.16V432.53H1066.91ZM1073.41 431.08H1084.39V432.53H1073.41ZM1093.05 431.08H1117.28V432.53H1093.05ZM1146.3 431.08H1157.52V432.53H1146.3ZM1165.2 431.08H1169.43V432.53H1165.2ZM1228.39 431.08H1252.37V432.53H1228.39ZM1255.02 431.08H1274.34V432.53H1255.02ZM1294.04 431.08H1332.38V432.53H1294.04ZM1360.06 431.08H1385.88V432.53H1360.06ZM323.44 432.23H335.64V443H323.44ZM456.2 432.23H548.66V443H456.2ZM713.4 432.23H811.74V443H713.4ZM891.32 432.23H941.56V443H891.32ZM991.45 432.23H1057.52V443H991.45ZM1066.91 432.23H1070.16V443H1066.91ZM1073.41 432.23H1080.83V443H1073.41ZM1097.1 432.23H1113.23V443H1097.1ZM1165.2 432.23H1169.43V443H1165.2ZM1228.39 432.23H1252.37V443H1228.39ZM1255.02 432.23H1274.34V443H1255.02ZM1302.02 432.23H1332.38V443H1302.02ZM1360.06 432.23H1385.88V443H1360.06ZM161 442.7H335.64V459.23H161ZM456.2 442.7H459.82V459.23H456.2ZM713.4 442.7H811.74V459.23H713.4ZM884.32 442.7H941.56V459.23H884.32ZM969.36 442.7H977.39V459.23H969.36ZM991.45 442.7H1057.52V459.23H991.45ZM1066.91 442.7H1084.39V459.23H1066.91ZM1087.03 442.7H1090.03V459.23H1087.03ZM1093.05 442.7H1117.28V459.23H1093.05ZM1146.3 442.7H1157.52V459.23H1146.3ZM1165.2 442.7H1169.43V459.23H1165.2ZM1228.39 442.7H1252.37V459.23H1228.39ZM1255.02 442.7H1332.38V459.23H1255.02ZM1360.06 442.7H1385.88V459.23H1360.06ZM161 458.93H335.64V478.91H161ZM456.2 458.93H459.82V478.91H456.2ZM713.4 458.93H811.74V478.91H713.4ZM884.32 458.93H941.56V478.91H884.32ZM969.36 458.93H977.39V478.91H969.36ZM991.45 458.93H1057.52V478.91H991.45ZM1066.91 458.93H1084.39V478.91H1066.91ZM1093.05 458.93H1117.28V478.91H1093.05ZM1146.3 458.93H1157.52V478.91H1146.3ZM1165.2 458.93H1169.43V478.91H1165.2ZM1228.39 458.93H1252.37V478.91H1228.39ZM1255.02 458.93H1274.34V478.91H1255.02ZM1294.04 458.93H1332.38V478.91H1294.04ZM1360.06 458.93H1385.88V478.91H1360.06ZM161 478.61H323.74V533.07H161ZM441.36 478.61H459.82V533.07H441.36ZM713.4 478.61H811.74V533.07H713.4ZM884.32 478.61H891.62V533.07H884.32ZM914.39 478.61H931.62V533.07H914.39ZM969.36 478.61H977.39V533.07H969.36ZM991.45 478.61H1014.45V533.07H991.45ZM1024.21 478.61H1027.58V533.07H1024.21ZM1043.23 478.61H1157.52V533.07H1043.23ZM1165.2 478.61H1169.43V533.07H1165.2ZM1228.39 478.61H1252.37V533.07H1228.39ZM1255.02 478.61H1332.38V533.07H1255.02ZM161 532.77H335.64V535.18H161ZM443.07 532.77H459.82V535.18H443.07ZM713.4 532.77H811.74V535.18H713.4ZM884.32 532.77H941.56V535.18H884.32ZM969.36 532.77H977.39V535.18H969.36ZM991.45 532.77H1057.52V535.18H991.45ZM1066.91 532.77H1084.39V535.18H1066.91ZM1087.03 532.77H1090.03V535.18H1087.03ZM1093.05 532.77H1157.52V535.18H1093.05ZM1165.2 532.77H1197.65V535.18H1165.2ZM1209.99 532.77H1252.37V535.18H1209.99ZM1255.02 532.77H1332.38V535.18H1255.02ZM1360.06 532.77H1385.88V535.18H1360.06ZM161 534.88H335.64V542.28H161ZM456.2 534.88H548.66V542.28H456.2ZM713.4 534.88H811.74V542.28H713.4ZM891.32 534.88H951.62V542.28H891.32ZM991.45 534.88H1057.52V542.28H991.45ZM1066.91 534.88H1070.16V542.28H1066.91ZM1073.41 534.88H1077.64V542.28H1073.41ZM1097.1 534.88H1113.23V542.28H1097.1ZM1165.2 534.88H1169.43V542.28H1165.2ZM1186.92 534.88H1190.65V542.28H1186.92ZM1219.19 534.88H1252.37V542.28H1219.19ZM1255.02 534.88H1274.34V542.28H1255.02ZM1302.02 534.88H1332.38V542.28H1302.02ZM1360.06 534.88H1385.88V542.28H1360.06ZM161 541.98H335.64V548.62H161ZM456.2 541.98H548.66V548.62H456.2ZM713.4 541.98H811.74V548.62H713.4ZM891.32 541.98H941.56V548.62H891.32ZM991.45 541.98H1057.52V548.62H991.45ZM1066.91 541.98H1070.16V548.62H1066.91ZM1073.41 541.98H1080.83V548.62H1073.41ZM1097.1 541.98H1113.23V548.62H1097.1ZM1146.3 541.98H1157.52V548.62H1146.3ZM1165.2 541.98H1169.43V548.62H1165.2ZM1186.92 541.98H1190.65V548.62H1186.92ZM1219.19 541.98H1252.37V548.62H1219.19ZM1255.02 541.98H1274.34V548.62H1255.02ZM1302.02 541.98H1332.38V548.62H1302.02ZM1360.06 541.98H1385.88V548.62H1360.06ZM323.44 548.32H335.64V553.23H323.44ZM456.2 548.32H548.66V553.23H456.2ZM713.4 548.32H811.74V553.23H713.4ZM891.32 548.32H941.56V553.23H891.32ZM991.45 548.32H1057.52V553.23H991.45ZM1066.91 548.32H1070.16V553.23H1066.91ZM1073.41 548.32H1080.83V553.23H1073.41ZM1097.1 548.32H1113.23V553.23H1097.1ZM1146.3 548.32H1157.52V553.23H1146.3ZM1165.2 548.32H1169.43V553.23H1165.2ZM1186.92 548.32H1190.65V553.23H1186.92ZM1219.19 548.32H1252.37V553.23H1219.19ZM1255.02 548.32H1274.34V553.23H1255.02ZM1302.02 548.32H1332.38V553.23H1302.02ZM1360.06 548.32H1385.88V553.23H1360.06ZM161 552.93H335.64V555.15H161ZM456.2 552.93H548.66V555.15H456.2ZM713.4 552.93H811.74V555.15H713.4ZM891.32 552.93H951.62V555.15H891.32ZM991.45 552.93H1057.52V555.15H991.45ZM1066.91 552.93H1070.16V555.15H1066.91ZM1073.41 552.93H1077.64V555.15H1073.41ZM1116.98 552.93H1141.57V555.15H1116.98ZM1165.2 552.93H1193.84V555.15H1165.2ZM1197.35 552.93H1252.37V555.15H1197.35ZM1255.02 552.93H1274.34V555.15H1255.02ZM1302.02 552.93H1332.38V555.15H1302.02ZM1360.06 552.93H1385.88V555.15H1360.06ZM161 554.85H323.74V560.53H161ZM441.36 554.85H459.82V560.53H441.36ZM713.4 554.85H811.74V560.53H713.4ZM884.32 554.85H891.62V560.53H884.32ZM914.39 554.85H941.56V560.53H914.39ZM969.36 554.85H977.39V560.53H969.36ZM991.45 554.85H1017.64V560.53H991.45ZM1024.21 554.85H1057.52V560.53H1024.21ZM1066.91 554.85H1084.39V560.53H1066.91ZM1087.03 554.85H1197.65V560.53H1087.03ZM1209.99 554.85H1252.37V560.53H1209.99ZM1255.02 554.85H1332.38V560.53H1255.02ZM335.34 560.23H432.58V599.51H335.34ZM456.2 560.23H459.82V599.51H456.2ZM548.36 560.23H713.7V599.51H548.36ZM763.21 560.23H891.62V599.51H763.21ZM931.32 560.23H941.56V599.51H931.32ZM951.32 560.23H1006.59V599.51H951.32ZM1027.28 560.23H1038.01V599.51H1027.28ZM1066.91 560.23H1073.71V599.51H1066.91ZM1077.34 560.23H1141.57V599.51H1077.34ZM1157.22 560.23H1197.65V599.51H1157.22ZM1219.19 560.23H1255.32V599.51H1219.19ZM161 599.21H335.64V637.25H161ZM459.52 599.21H763.51V637.25H459.52ZM891.32 599.21H941.56V637.25H891.32ZM969.36 599.21H977.39V637.25H969.36ZM991.45 599.21H1014.45V637.25H991.45ZM1017.34 599.21H1027.58V637.25H1017.34ZM1116.98 599.21H1146.6V637.25H1116.98ZM1197.35 599.21H1210.29V637.25H1197.35ZM1219.19 599.21H1228.69V637.25H1219.19ZM1252.07 599.21H1332.38V637.25H1252.07ZM1360.06 599.21H1385.88V637.25H1360.06ZM459.52 636.95H548.66V662.41H459.52ZM713.4 636.95H763.51V662.41H713.4ZM914.39 636.95H941.56V662.41H914.39ZM1006.29 636.95H1017.64V662.41H1006.29ZM1037.71 636.95H1057.52V662.41H1037.71ZM1141.27 636.95H1169.43V662.41H1141.27ZM1228.39 636.95H1274.34V662.41H1228.39ZM1360.06 636.95H1385.88V662.41H1360.06ZM459.52 662.11H548.66V665.38H459.52ZM713.4 662.11H763.51V665.38H713.4ZM914.39 662.11H941.56V665.38H914.39ZM1006.29 662.11H1017.64V665.38H1006.29ZM1037.71 662.11H1043.53V665.38H1037.71ZM1048.14 662.11H1057.52V665.38H1048.14ZM1141.27 662.11H1165.5V665.38H1141.27ZM1186.92 662.11H1190.65V665.38H1186.92ZM1197.35 662.11H1210.29V665.38H1197.35ZM1228.39 662.11H1252.37V665.38H1228.39ZM1255.02 662.11H1274.34V665.38H1255.02ZM1302.02 662.11H1332.38V665.38H1302.02ZM1360.06 662.11H1385.88V665.38H1360.06ZM161 665.08H335.64V694.28H161ZM713.4 665.08H763.51V694.28H713.4ZM891.32 665.08H977.39V694.28H891.32ZM1006.29 665.08H1017.64V694.28H1006.29ZM1037.71 665.08H1048.44V694.28H1037.71ZM1116.98 665.08H1141.57V694.28H1116.98ZM1146.3 665.08H1157.52V694.28H1146.3ZM1165.2 665.08H1187.22V694.28H1165.2ZM1190.35 665.08H1219.49V694.28H1190.35ZM1228.39 665.08H1274.34V694.28H1228.39ZM1302.02 665.08H1332.38V694.28H1302.02ZM1360.06 665.08H1388.06V694.28H1360.06ZM161 693.98H335.64V699.76H161ZM563.2 693.98H681.3V699.76H563.2ZM706.52 693.98H763.51V699.76H706.52ZM891.32 693.98H941.56V699.76H891.32ZM951.32 693.98H977.39V699.76H951.32ZM991.45 693.98H1017.64V699.76H991.45ZM1027.28 693.98H1057.52V699.76H1027.28ZM1141.27 693.98H1187.22V699.76H1141.27ZM1190.35 693.98H1274.34V699.76H1190.35ZM1302.02 693.98H1332.38V699.76H1302.02ZM1360.06 693.98H1388.06V699.76H1360.06ZM161 699.46H323.74V703.69H161ZM335.34 699.46H459.82V703.69H335.34ZM548.36 699.46H609.4V703.69H548.36ZM678.3 699.46H706.82V703.69H678.3ZM763.21 699.46H811.74V703.69H763.21ZM847.39 699.46H891.62V703.69H847.39ZM914.39 699.46H931.62V703.69H914.39ZM951.32 699.46H969.66V703.69H951.32ZM991.45 699.46H1027.58V703.69H991.45ZM1043.23 699.46H1073.71V703.69H1043.23ZM1077.34 699.46H1141.57V703.69H1077.34ZM1219.19 699.46H1255.32V703.69H1219.19ZM1302.02 699.46H1360.36V703.69H1302.02ZM161 703.39H432.58V717.81H161ZM441.36 703.39H459.82V717.81H441.36ZM548.36 703.39H609.4V717.81H548.36ZM678.3 703.39H706.82V717.81H678.3ZM763.21 703.39H811.74V717.81H763.21ZM847.39 703.39H891.62V717.81H847.39ZM914.39 703.39H931.62V717.81H914.39ZM951.32 703.39H969.66V717.81H951.32ZM991.45 703.39H1027.58V717.81H991.45ZM1037.71 703.39H1073.71V717.81H1037.71ZM1077.34 703.39H1141.57V717.81H1077.34ZM1157.22 703.39H1165.5V717.81H1157.22ZM1219.19 703.39H1274.34V717.81H1219.19ZM1302.02 703.39H1360.36V717.81H1302.02ZM161 717.51H323.74V731.06H161ZM335.34 717.51H432.58V731.06H335.34ZM443.07 717.51H459.82V731.06H443.07ZM548.36 717.51H713.7V731.06H548.36ZM763.21 717.51H914.69V731.06H763.21ZM951.32 717.51H1027.58V731.06H951.32ZM1043.23 717.51H1165.5V731.06H1043.23ZM1274.04 717.51H1294.34V731.06H1274.04ZM1360.06 717.51H1388.06V731.06H1360.06ZM335.34 730.76H432.58V738.84H335.34ZM456.2 730.76H459.82V738.84H456.2ZM548.36 730.76H609.4V738.84H548.36ZM678.3 730.76H891.62V738.84H678.3ZM977.09 730.76H1006.59V738.84H977.09ZM1027.28 730.76H1073.71V738.84H1027.28ZM1077.34 730.76H1113.23V738.84H1077.34ZM1116.98 730.76H1141.57V738.84H1116.98ZM1157.22 730.76H1187.22V738.84H1157.22ZM1190.35 730.76H1197.65V738.84H1190.35ZM1219.19 730.76H1228.69V738.84H1219.19ZM1274.04 730.76H1302.32V738.84H1274.04ZM1332.08 730.76H1360.36V738.84H1332.08ZM441.36 738.54H456.5V746.71H441.36ZM681 738.54H690.38V746.71H681ZM704.07 738.54H706.82V746.71H704.07ZM847.39 738.54H884.62V746.71H847.39ZM977.09 738.54H991.75V746.71H977.09ZM1026.17 738.54H1038.01V746.71H1026.17ZM1057.22 738.54H1067.21V746.71H1057.22ZM1069.86 738.54H1073.71V746.71H1069.86ZM1084.09 738.54H1093.35V746.71H1084.09ZM161 746.41H323.74V760.83H161ZM327.36 746.41H432.58V760.83H327.36ZM456.2 746.41H548.66V760.83H456.2ZM713.4 746.41H763.51V760.83H713.4ZM847.39 746.41H931.62V760.83H847.39ZM977.09 746.41H991.75V760.83H977.09ZM1014.15 746.41H1043.53V760.83H1014.15ZM1048.14 746.41H1057.52V760.83H1048.14ZM1066.91 746.41H1084.39V760.83H1066.91ZM1093.05 746.41H1113.23V760.83H1093.05ZM1116.98 746.41H1187.22V760.83H1116.98ZM1190.35 746.41H1219.49V760.83H1190.35ZM1252.07 746.41H1360.36V760.83H1252.07ZM1385.58 746.41H1388.06V760.83H1385.58ZM167.72 760.53H323.74V766.88H167.72ZM335.34 760.53H432.58V766.88H335.34ZM441.36 760.53H459.82V766.88H441.36ZM563.2 760.53H681.3V766.88H563.2ZM706.52 760.53H811.74V766.88H706.52ZM847.39 760.53H891.62V766.88H847.39ZM914.39 760.53H931.62V766.88H914.39ZM977.09 760.53H1006.59V766.88H977.09ZM1027.28 760.53H1048.44V766.88H1027.28ZM1057.22 760.53H1146.6V766.88H1057.22ZM1157.22 760.53H1165.5V766.88H1157.22ZM1193.54 760.53H1197.65V766.88H1193.54ZM1219.19 760.53H1228.69V766.88H1219.19ZM1274.04 760.53H1294.34V766.88H1274.04ZM1332.08 760.53H1360.36V766.88H1332.08ZM323.44 766.58H432.58V778.11H323.44ZM456.2 766.58H548.66V778.11H456.2ZM713.4 766.58H763.51V778.11H713.4ZM914.39 766.58H977.39V778.11H914.39ZM991.45 766.58H1014.45V778.11H991.45ZM1027.28 766.58H1057.52V778.11H1027.28ZM1141.27 766.58H1255.32V778.11H1141.27ZM1360.06 766.58H1388.06V778.11H1360.06ZM161 777.81H323.74V789.73H161ZM335.34 777.81H432.58V789.73H335.34ZM441.36 777.81H456.5V789.73H441.36ZM548.36 777.81H811.74V789.73H548.36ZM884.32 777.81H941.56V789.73H884.32ZM969.36 777.81H991.75V789.73H969.36ZM1024.21 777.81H1027.58V789.73H1024.21ZM1043.23 777.81H1141.57V789.73H1043.23ZM1332.08 777.81H1388.06V789.73H1332.08ZM424.3 789.43H456.5V795.87H424.3ZM548.36 789.43H713.7V795.87H548.36ZM763.21 789.43H931.62V795.87H763.21ZM977.09 789.43H991.75V795.87H977.09ZM1017.34 789.43H1038.01V795.87H1017.34ZM1057.22 789.43H1067.21V795.87H1057.22ZM1069.86 789.43H1073.71V795.87H1069.86ZM1080.53 789.43H1097.4V795.87H1080.53ZM1112.93 789.43H1141.57V795.87H1112.93ZM1157.22 789.43H1165.5V795.87H1157.22ZM1219.19 789.43H1228.69V795.87H1219.19ZM1252.07 789.43H1255.32V795.87H1252.07ZM1332.08 789.43H1360.36V795.87H1332.08ZM1385.58 789.43H1388.06V795.87H1385.58ZM548.36 795.57H609.4V798.37H548.36ZM678.3 795.57H713.7V798.37H678.3ZM811.44 795.57H931.62V798.37H811.44ZM951.32 795.57H969.66V798.37H951.32ZM1017.34 795.57H1038.01V798.37H1017.34ZM1057.22 795.57H1067.21V798.37H1057.22ZM1069.86 795.57H1073.71V798.37H1069.86ZM1084.09 795.57H1093.35V798.37H1084.09ZM1112.93 795.57H1141.57V798.37H1112.93ZM1219.19 795.57H1228.69V798.37H1219.19ZM1332.08 795.57H1360.36V798.37H1332.08ZM1385.58 795.57H1388.06V798.37H1385.58ZM161 798.07H335.64V803.75H161ZM548.36 798.07H609.4V803.75H548.36ZM678.3 798.07H706.82V803.75H678.3ZM763.21 798.07H811.74V803.75H763.21ZM891.32 798.07H931.62V803.75H891.32ZM951.32 798.07H969.66V803.75H951.32ZM1006.29 798.07H1017.64V803.75H1006.29ZM1024.21 798.07H1070.16V803.75H1024.21ZM1073.41 798.07H1084.39V803.75H1073.41ZM1093.05 798.07H1141.57V803.75H1093.05ZM1219.19 798.07H1228.69V803.75H1219.19ZM1252.07 798.07H1255.32V803.75H1252.07ZM1274.04 798.07H1360.36V803.75H1274.04ZM161 803.45H335.64V805.28H161ZM548.36 803.45H713.7V805.28H548.36ZM763.21 803.45H811.74V805.28H763.21ZM891.32 803.45H931.62V805.28H891.32ZM951.32 803.45H969.66V805.28H951.32ZM991.45 803.45H1024.51V805.28H991.45ZM1027.28 803.45H1067.21V805.28H1027.28ZM1073.41 803.45H1077.64V805.28H1073.41ZM1112.93 803.45H1141.57V805.28H1112.93ZM1193.54 803.45H1197.65V805.28H1193.54ZM1219.19 803.45H1360.36V805.28H1219.19ZM161 804.98H168.02V806.15H161ZM323.44 804.98H335.64V806.15H323.44ZM548.36 804.98H713.7V806.15H548.36ZM763.21 804.98H811.74V806.15H763.21ZM891.32 804.98H931.62V806.15H891.32ZM941.26 804.98H969.66V806.15H941.26ZM991.45 804.98H1024.51V806.15H991.45ZM1027.28 804.98H1038.01V806.15H1027.28ZM1048.14 804.98H1067.21V806.15H1048.14ZM1073.41 804.98H1077.64V806.15H1073.41ZM1112.93 804.98H1141.57V806.15H1112.93ZM1165.2 804.98H1169.43V806.15H1165.2ZM1190.35 804.98H1197.65V806.15H1190.35ZM1228.39 804.98H1360.36V806.15H1228.39ZM432.28 805.85H609.4V814.31H432.28ZM678.3 805.85H763.51V814.31H678.3ZM884.32 805.85H891.62V814.31H884.32ZM931.32 805.85H991.75V814.31H931.32ZM1006.29 805.85H1027.58V814.31H1006.29ZM1048.14 805.85H1070.16V814.31H1048.14ZM1073.41 805.85H1080.83V814.31H1073.41ZM1097.1 805.85H1165.5V814.31H1097.1ZM1193.54 805.85H1197.65V814.31H1193.54ZM1255.02 805.85H1302.32V814.31H1255.02ZM1332.08 805.85H1360.36V814.31H1332.08ZM1385.58 805.85H1388.06V814.31H1385.58ZM432.28 814.01H459.82V818.63H432.28ZM548.36 814.01H609.4V818.63H548.36ZM678.3 814.01H713.7V818.63H678.3ZM811.44 814.01H891.62V818.63H811.44ZM896.35 814.01H914.69V818.63H896.35ZM931.32 814.01H941.56V818.63H931.32ZM951.32 814.01H991.75V818.63H951.32ZM1017.34 814.01H1026.47V818.63H1017.34ZM1048.14 814.01H1084.39V818.63H1048.14ZM1087.03 814.01H1090.03V818.63H1087.03ZM1093.05 814.01H1117.28V818.63H1093.05ZM1219.19 814.01H1228.69V818.63H1219.19ZM1332.08 814.01H1360.36V818.63H1332.08ZM1385.58 814.01H1388.06V818.63H1385.58ZM161 818.33H323.74V822.47H161ZM432.28 818.33H441.66V822.47H432.28ZM443.07 818.33H713.7V822.47H443.07ZM811.44 818.33H843.89V822.47H811.44ZM847.39 818.33H941.56V822.47H847.39ZM969.36 818.33H1006.59V822.47H969.36ZM1017.34 818.33H1026.47V822.47H1017.34ZM1048.14 818.33H1070.16V822.47H1048.14ZM1073.41 818.33H1080.83V822.47H1073.41ZM1097.1 818.33H1141.57V822.47H1097.1ZM1190.35 818.33H1210.29V822.47H1190.35ZM1219.19 818.33H1228.69V822.47H1219.19ZM1274.04 818.33H1279.86V822.47H1274.04ZM1302.02 818.33H1388.06V822.47H1302.02ZM161 822.17H335.64V829.58H161ZM432.28 822.17H441.66V829.58H432.28ZM456.2 822.17H713.7V829.58H456.2ZM811.44 822.17H847.69V829.58H811.44ZM884.32 822.17H941.56V829.58H884.32ZM951.32 822.17H969.66V829.58H951.32ZM977.09 822.17H1006.59V829.58H977.09ZM1017.34 822.17H1048.44V829.58H1017.34ZM1057.22 822.17H1084.39V829.58H1057.22ZM1087.03 822.17H1090.03V829.58H1087.03ZM1093.05 822.17H1141.57V829.58H1093.05ZM1169.13 822.17H1197.65V829.58H1169.13ZM1209.99 822.17H1228.69V829.58H1209.99ZM1274.04 822.17H1360.36V829.58H1274.04ZM1385.58 822.17H1388.06V829.58H1385.58ZM167.72 829.28H323.74V837.16H167.72ZM459.52 829.28H548.66V837.16H459.52ZM609.1 829.28H678.6V837.16H609.1ZM891.32 829.28H951.62V837.16H891.32ZM969.36 829.28H977.39V837.16H969.36ZM991.45 829.28H1057.52V837.16H991.45ZM1112.93 829.28H1169.43V837.16H1112.93ZM1190.35 829.28H1255.32V837.16H1190.35ZM1274.04 829.28H1388.06V837.16H1274.04ZM161 836.86H441.66V839.47H161ZM443.07 836.86H453.93V839.47H443.07ZM456.2 836.86H459.82V839.47H456.2ZM548.36 836.86H763.51V839.47H548.36ZM891.32 836.86H941.56V839.47H891.32ZM951.32 836.86H977.39V839.47H951.32ZM991.45 836.86H1006.59V839.47H991.45ZM1017.34 836.86H1024.51V839.47H1017.34ZM1027.28 836.86H1057.52V839.47H1027.28ZM1073.41 836.86H1077.64V839.47H1073.41ZM1097.1 836.86H1117.28V839.47H1097.1ZM1219.19 836.86H1255.32V839.47H1219.19ZM1274.04 836.86H1302.32V839.47H1274.04ZM1360.06 836.86H1388.06V839.47H1360.06ZM161 839.17H441.66V842.25H161ZM456.2 839.17H548.66V842.25H456.2ZM563.2 839.17H681.3V842.25H563.2ZM706.52 839.17H763.51V842.25H706.52ZM891.32 839.17H977.39V842.25H891.32ZM991.45 839.17H1017.64V842.25H991.45ZM1037.71 839.17H1043.53V842.25H1037.71ZM1048.14 839.17H1057.52V842.25H1048.14ZM1112.93 839.17H1146.6V842.25H1112.93ZM1157.22 839.17H1274.34V842.25H1157.22ZM1294.04 839.17H1332.38V842.25H1294.04ZM1360.06 839.17H1385.88V842.25H1360.06ZM161 841.95H323.74V845.32H161ZM335.34 841.95H459.82V845.32H335.34ZM548.36 841.95H713.7V845.32H548.36ZM914.39 841.95H931.62V845.32H914.39ZM951.32 841.95H977.39V845.32H951.32ZM991.45 841.95H1006.59V845.32H991.45ZM1017.34 841.95H1057.52V845.32H1017.34ZM1066.91 841.95H1070.16V845.32H1066.91ZM1077.34 841.95H1084.39V845.32H1077.34ZM1093.05 841.95H1141.57V845.32H1093.05ZM1165.2 841.95H1197.65V845.32H1165.2ZM1219.19 841.95H1228.69V845.32H1219.19ZM1252.07 841.95H1255.32V845.32H1252.07ZM1274.04 841.95H1302.32V845.32H1274.04ZM1360.06 841.95H1388.06V845.32H1360.06ZM161 845.02H441.66V847.82H161ZM456.2 845.02H681.3V847.82H456.2ZM690.08 845.02H704.37V847.82H690.08ZM706.52 845.02H763.51V847.82H706.52ZM891.32 845.02H941.56V847.82H891.32ZM951.32 845.02H977.39V847.82H951.32ZM991.45 845.02H1006.59V847.82H991.45ZM1017.34 845.02H1024.51V847.82H1017.34ZM1027.28 845.02H1057.52V847.82H1027.28ZM1073.41 845.02H1077.64V847.82H1073.41ZM1112.93 845.02H1141.57V847.82H1112.93ZM1157.22 845.02H1255.32V847.82H1157.22ZM1274.04 845.02H1302.32V847.82H1274.04ZM1360.06 845.02H1385.88V847.82H1360.06ZM161 847.52H441.66V850.6H161ZM456.2 847.52H550.13V850.6H456.2ZM563.2 847.52H681.3V850.6H563.2ZM706.52 847.52H763.51V850.6H706.52ZM891.32 847.52H941.56V850.6H891.32ZM951.32 847.52H977.39V850.6H951.32ZM991.45 847.52H1014.45V850.6H991.45ZM1017.34 847.52H1024.51V850.6H1017.34ZM1037.71 847.52H1043.53V850.6H1037.71ZM1048.14 847.52H1057.52V850.6H1048.14ZM1073.41 847.52H1077.64V850.6H1073.41ZM1112.93 847.52H1141.57V850.6H1112.93ZM1157.22 847.52H1274.34V850.6H1157.22ZM1294.04 847.52H1302.32V850.6H1294.04ZM1360.06 847.52H1385.88V850.6H1360.06ZM161 850.3H168.02V852.91H161ZM323.44 850.3H335.64V852.91H323.44ZM456.2 850.3H548.66V852.91H456.2ZM609.1 850.3H678.6V852.91H609.1ZM713.4 850.3H763.51V852.91H713.4ZM891.32 850.3H951.62V852.91H891.32ZM969.36 850.3H977.39V852.91H969.36ZM991.45 850.3H1017.64V852.91H991.45ZM1141.27 850.3H1165.5V852.91H1141.27ZM1169.13 850.3H1190.65V852.91H1169.13ZM1197.35 850.3H1274.34V852.91H1197.35ZM1302.02 850.3H1332.38V852.91H1302.02ZM161 852.61H432.58V855.02H161ZM456.2 852.61H548.66V855.02H456.2ZM563.2 852.61H584.24V855.02H563.2ZM609.1 852.61H681.3V855.02H609.1ZM706.52 852.61H763.51V855.02H706.52ZM891.32 852.61H951.62V855.02H891.32ZM969.36 852.61H977.39V855.02H969.36ZM991.45 852.61H1017.64V855.02H991.45ZM1037.71 852.61H1043.53V855.02H1037.71ZM1048.14 852.61H1057.52V855.02H1048.14ZM1112.93 852.61H1146.6V855.02H1112.93ZM1157.22 852.61H1274.34V855.02H1157.22ZM1294.04 852.61H1332.38V855.02H1294.04ZM1360.06 852.61H1385.88V855.02H1360.06ZM161 854.72H168.02V857.61H161ZM323.44 854.72H335.64V857.61H323.44ZM456.2 854.72H548.66V857.61H456.2ZM609.1 854.72H678.6V857.61H609.1ZM706.52 854.72H763.51V857.61H706.52ZM891.32 854.72H951.62V857.61H891.32ZM969.36 854.72H977.39V857.61H969.36ZM991.45 854.72H1017.64V857.61H991.45ZM1116.98 854.72H1193.84V857.61H1116.98ZM1197.35 854.72H1274.34V857.61H1197.35ZM1302.02 854.72H1332.38V857.61H1302.02ZM161 857.31H441.66V860.78H161ZM456.2 857.31H550.13V860.78H456.2ZM563.2 857.31H681.3V860.78H563.2ZM706.52 857.31H763.51V860.78H706.52ZM891.32 857.31H941.56V860.78H891.32ZM951.32 857.31H977.39V860.78H951.32ZM991.45 857.31H1014.45V860.78H991.45ZM1017.34 857.31H1024.51V860.78H1017.34ZM1037.71 857.31H1043.53V860.78H1037.71ZM1048.14 857.31H1057.52V860.78H1048.14ZM1073.41 857.31H1077.64V860.78H1073.41ZM1112.93 857.31H1146.6V860.78H1112.93ZM1157.22 857.31H1274.34V860.78H1157.22ZM1294.04 857.31H1302.32V860.78H1294.04ZM1360.06 857.31H1385.88V860.78H1360.06ZM161 860.48H441.66V863.18H161ZM456.2 860.48H459.82V863.18H456.2ZM548.36 860.48H704.37V863.18H548.36ZM706.52 860.48H763.51V863.18H706.52ZM891.32 860.48H941.56V863.18H891.32ZM951.32 860.48H977.39V863.18H951.32ZM991.45 860.48H1006.59V863.18H991.45ZM1017.34 860.48H1024.51V863.18H1017.34ZM1027.28 860.48H1057.52V863.18H1027.28ZM1066.91 860.48H1070.16V863.18H1066.91ZM1073.41 860.48H1077.64V863.18H1073.41ZM1100.16 860.48H1141.57V863.18H1100.16ZM1165.2 860.48H1210.29V863.18H1165.2ZM1219.19 860.48H1255.32V863.18H1219.19ZM1274.04 860.48H1302.32V863.18H1274.04ZM1360.06 860.48H1388.06V863.18H1360.06ZM161 862.88H441.66V873.17H161ZM456.2 862.88H704.37V873.17H456.2ZM706.52 862.88H763.51V873.17H706.52ZM891.32 862.88H941.56V873.17H891.32ZM951.32 862.88H977.39V873.17H951.32ZM991.45 862.88H1006.59V873.17H991.45ZM1017.34 862.88H1024.51V873.17H1017.34ZM1027.28 862.88H1057.52V873.17H1027.28ZM1066.91 862.88H1070.16V873.17H1066.91ZM1073.41 862.88H1077.64V873.17H1073.41ZM1097.1 862.88H1100.46V873.17H1097.1ZM1112.93 862.88H1141.57V873.17H1112.93ZM1165.2 862.88H1210.29V873.17H1165.2ZM1219.19 862.88H1255.32V873.17H1219.19ZM1274.04 862.88H1302.32V873.17H1274.04ZM1360.06 862.88H1388.06V873.17H1360.06ZM161 872.87H323.74V876.34H161ZM459.52 872.87H550.13V876.34H459.52ZM563.2 872.87H681.3V876.34H563.2ZM706.52 872.87H763.51V876.34H706.52ZM891.32 872.87H931.62V876.34H891.32ZM969.36 872.87H977.39V876.34H969.36ZM991.45 872.87H1084.39V876.34H991.45ZM1087.03 872.87H1090.03V876.34H1087.03ZM1093.05 872.87H1113.23V876.34H1093.05ZM1146.3 872.87H1157.52V876.34H1146.3ZM1169.13 872.87H1190.65V876.34H1169.13ZM1228.39 872.87H1332.38V876.34H1228.39ZM1360.06 872.87H1388.06V876.34H1360.06ZM167.72 876.04H323.74V895.35H167.72ZM456.2 876.04H548.66V895.35H456.2ZM609.1 876.04H681.3V895.35H609.1ZM704.07 876.04H811.74V895.35H704.07ZM847.39 876.04H884.62V895.35H847.39ZM891.32 876.04H941.56V895.35H891.32ZM951.32 876.04H977.39V895.35H951.32ZM991.45 876.04H1038.01V895.35H991.45ZM1043.23 876.04H1067.21V895.35H1043.23ZM1069.86 876.04H1084.39V895.35H1069.86ZM1087.03 876.04H1113.23V895.35H1087.03ZM1165.2 876.04H1169.43V895.35H1165.2ZM1186.92 876.04H1193.84V895.35H1186.92ZM1197.35 876.04H1210.29V895.35H1197.35ZM1219.19 876.04H1388.06V895.35H1219.19ZM161 895.05H323.74V899.29H161ZM335.34 895.05H459.82V899.29H335.34ZM609.1 895.05H681.3V899.29H609.1ZM706.52 895.05H713.7V899.29H706.52ZM763.21 895.05H847.69V899.29H763.21ZM884.32 895.05H891.62V899.29H884.32ZM914.39 895.05H931.62V899.29H914.39ZM951.32 895.05H991.75V899.29H951.32ZM1027.28 895.05H1038.01V899.29H1027.28ZM1057.22 895.05H1067.21V899.29H1057.22ZM1069.86 895.05H1073.71V899.29H1069.86ZM1084.09 895.05H1097.4V899.29H1084.09ZM1219.19 895.05H1228.69V899.29H1219.19ZM1332.08 895.05H1360.36V899.29H1332.08ZM1385.58 895.05H1388.06V899.29H1385.58ZM441.36 898.99H459.82V907.83H441.36ZM548.36 898.99H550.13V907.83H548.36ZM563.2 898.99H681.3V907.83H563.2ZM690.08 898.99H704.37V907.83H690.08ZM706.52 898.99H713.7V907.83H706.52ZM811.44 898.99H891.62V907.83H811.44ZM914.39 898.99H931.62V907.83H914.39ZM951.32 898.99H969.66V907.83H951.32ZM977.09 898.99H991.75V907.83H977.09ZM1027.28 898.99H1038.01V907.83H1027.28ZM1057.22 898.99H1067.21V907.83H1057.22ZM1084.09 898.99H1087.33V907.83H1084.09ZM1089.73 898.99H1093.35V907.83H1089.73ZM1112.93 898.99H1117.28V907.83H1112.93ZM1219.19 898.99H1228.69V907.83H1219.19ZM1332.08 898.99H1360.36V907.83H1332.08ZM1385.58 898.99H1388.06V907.83H1385.58ZM161 907.53H323.74V914.07H161ZM335.34 907.53H432.58V914.07H335.34ZM456.2 907.53H459.82V914.07H456.2ZM706.52 907.53H763.51V914.07H706.52ZM811.44 907.53H847.69V914.07H811.44ZM884.32 907.53H891.62V914.07H884.32ZM896.35 907.53H941.56V914.07H896.35ZM951.32 907.53H991.75V914.07H951.32ZM1006.29 907.53H1014.45V914.07H1006.29ZM1027.28 907.53H1038.01V914.07H1027.28ZM1057.22 907.53H1067.21V914.07H1057.22ZM1069.86 907.53H1073.71V914.07H1069.86ZM1077.34 907.53H1097.4V914.07H1077.34ZM1197.35 907.53H1210.29V914.07H1197.35ZM1219.19 907.53H1228.69V914.07H1219.19ZM1332.08 907.53H1360.36V914.07H1332.08ZM1385.58 907.53H1388.06V914.07H1385.58ZM161 913.77H323.74V917.15H161ZM456.2 913.77H459.82V917.15H456.2ZM548.36 913.77H763.51V917.15H548.36ZM811.44 913.77H843.89V917.15H811.44ZM847.39 913.77H891.62V917.15H847.39ZM931.32 913.77H941.56V917.15H931.32ZM951.32 913.77H969.66V917.15H951.32ZM977.09 913.77H991.75V917.15H977.09ZM1026.17 913.77H1027.58V917.15H1026.17ZM1057.22 913.77H1067.21V917.15H1057.22ZM1069.86 913.77H1084.39V917.15H1069.86ZM1087.03 913.77H1113.23V917.15H1087.03ZM1116.98 913.77H1141.57V917.15H1116.98ZM1186.92 913.77H1210.29V917.15H1186.92ZM1219.19 913.77H1255.32V917.15H1219.19ZM1274.04 913.77H1302.32V917.15H1274.04ZM1332.08 913.77H1360.36V917.15H1332.08ZM1385.58 913.77H1388.06V917.15H1385.58ZM161 916.85H323.74V931.07H161ZM335.34 916.85H432.58V931.07H335.34ZM456.2 916.85H459.82V931.07H456.2ZM678.3 916.85H681.3V931.07H678.3ZM704.07 916.85H763.51V931.07H704.07ZM847.39 916.85H891.62V931.07H847.39ZM931.32 916.85H941.56V931.07H931.32ZM951.32 916.85H969.66V931.07H951.32ZM977.09 916.85H991.75V931.07H977.09ZM1048.14 916.85H1057.52V931.07H1048.14ZM1069.86 916.85H1117.28V931.07H1069.86ZM1228.39 916.85H1255.32V931.07H1228.39ZM1274.04 916.85H1294.34V931.07H1274.04ZM1332.08 916.85H1360.36V931.07H1332.08ZM335.34 930.77H432.58V933.76H335.34ZM456.2 930.77H459.82V933.76H456.2ZM678.3 930.77H763.51V933.76H678.3ZM843.59 930.77H847.69V933.76H843.59ZM977.09 930.77H991.75V933.76H977.09ZM1048.14 930.77H1057.52V933.76H1048.14ZM1069.86 930.77H1141.57V933.76H1069.86ZM1165.2 930.77H1169.43V933.76H1165.2ZM1219.19 930.77H1255.32V933.76H1219.19ZM1274.04 930.77H1294.34V933.76H1274.04ZM1332.08 930.77H1360.36V933.76H1332.08ZM456.2 933.46H459.82V936.25H456.2ZM678.3 933.46H681.3V936.25H678.3ZM704.07 933.46H763.51V936.25H704.07ZM847.39 933.46H891.62V936.25H847.39ZM931.32 933.46H941.56V936.25H931.32ZM951.32 933.46H969.66V936.25H951.32ZM977.09 933.46H991.75V936.25H977.09ZM1026.17 933.46H1027.58V936.25H1026.17ZM1043.23 933.46H1067.21V936.25H1043.23ZM1069.86 933.46H1084.39V936.25H1069.86ZM1087.03 933.46H1113.23V936.25H1087.03ZM1116.98 933.46H1141.57V936.25H1116.98ZM1165.2 933.46H1169.43V936.25H1165.2ZM1219.19 933.46H1255.32V936.25H1219.19ZM1274.04 933.46H1302.32V936.25H1274.04ZM1332.08 933.46H1360.36V936.25H1332.08ZM1385.58 933.46H1388.06V936.25H1385.58ZM459.52 935.95H548.66V939.23H459.52ZM678.3 935.95H681.3V939.23H678.3ZM706.52 935.95H763.51V939.23H706.52ZM847.39 935.95H891.62V939.23H847.39ZM931.32 935.95H941.56V939.23H931.32ZM951.32 935.95H991.75V939.23H951.32ZM1024.21 935.95H1038.01V939.23H1024.21ZM1043.23 935.95H1067.21V939.23H1043.23ZM1069.86 935.95H1084.39V939.23H1069.86ZM1087.03 935.95H1090.03V939.23H1087.03ZM1093.05 935.95H1113.23V939.23H1093.05ZM1165.2 935.95H1169.43V939.23H1165.2ZM1209.99 935.95H1255.32V939.23H1209.99ZM1274.04 935.95H1302.32V939.23H1274.04ZM1385.58 935.95H1388.06V939.23H1385.58ZM335.34 938.93H432.58V949.12H335.34ZM456.2 938.93H459.82V949.12H456.2ZM704.07 938.93H706.82V949.12H704.07ZM763.21 938.93H811.74V949.12H763.21ZM843.59 938.93H891.62V949.12H843.59ZM951.32 938.93H969.66V949.12H951.32ZM977.09 938.93H991.75V949.12H977.09ZM1043.23 938.93H1048.44V949.12H1043.23ZM1057.22 938.93H1067.21V949.12H1057.22ZM1069.86 938.93H1073.71V949.12H1069.86ZM1077.34 938.93H1113.23V949.12H1077.34ZM1116.98 938.93H1141.57V949.12H1116.98ZM1157.22 938.93H1169.43V949.12H1157.22ZM1332.08 938.93H1360.36V949.12H1332.08ZM161 948.82H323.74V956.32H161ZM335.34 948.82H432.58V956.32H335.34ZM456.2 948.82H459.82V956.32H456.2ZM678.3 948.82H681.3V956.32H678.3ZM704.07 948.82H713.7V956.32H704.07ZM847.39 948.82H891.62V956.32H847.39ZM951.32 948.82H969.66V956.32H951.32ZM977.09 948.82H991.75V956.32H977.09ZM1048.14 948.82H1067.21V956.32H1048.14ZM1069.86 948.82H1073.71V956.32H1069.86ZM1077.34 948.82H1097.4V956.32H1077.34ZM1193.54 948.82H1197.65V956.32H1193.54ZM1332.08 948.82H1360.36V956.32H1332.08ZM167.72 956.02H323.74V963.52H167.72ZM335.34 956.02H432.58V963.52H335.34ZM443.07 956.02H453.93V963.52H443.07ZM456.2 956.02H459.82V963.52H456.2ZM678.3 956.02H811.74V963.52H678.3ZM884.32 956.02H914.69V963.52H884.32ZM931.32 956.02H941.56V963.52H931.32ZM969.36 956.02H991.75V963.52H969.36ZM1006.29 956.02H1026.47V963.52H1006.29ZM1037.71 956.02H1113.23V963.52H1037.71ZM1116.98 956.02H1169.43V963.52H1116.98ZM1186.92 956.02H1197.65V963.52H1186.92ZM1255.02 956.02H1302.32V963.52H1255.02ZM1360.06 956.02H1388.06V963.52H1360.06ZM335.34 963.22H459.82V982.06H335.34ZM548.36 963.22H763.51V982.06H548.36ZM811.44 963.22H914.69V982.06H811.44ZM977.09 963.22H991.75V982.06H977.09ZM1024.21 963.22H1027.58V982.06H1024.21ZM1057.22 963.22H1073.71V982.06H1057.22ZM1077.34 963.22H1141.57V982.06H1077.34ZM1165.2 963.22H1197.65V982.06H1165.2ZM1255.02 963.22H1274.34V982.06H1255.02ZM1302.02 963.22H1385.88V982.06H1302.02ZM335.34 981.76H459.82V984.36H335.34ZM713.4 981.76H843.89V984.36H713.4ZM847.39 981.76H914.69V984.36H847.39ZM951.32 981.76H969.66V984.36H951.32ZM977.09 981.76H991.75V984.36H977.09ZM1006.29 981.76H1014.45V984.36H1006.29ZM1017.34 981.76H1027.58V984.36H1017.34ZM1057.22 981.76H1141.57V984.36H1057.22ZM1165.2 981.76H1197.65V984.36H1165.2ZM1332.08 981.76H1360.36V984.36H1332.08ZM424.3 984.06H456.5V999.24H424.3ZM548.36 984.06H713.7V999.24H548.36ZM763.21 984.06H891.62V999.24H763.21ZM896.35 984.06H914.69V999.24H896.35ZM951.32 984.06H969.66V999.24H951.32ZM1024.21 984.06H1038.01V999.24H1024.21ZM1069.86 984.06H1073.71V999.24H1069.86ZM1080.53 984.06H1097.4V999.24H1080.53ZM1112.93 984.06H1141.57V999.24H1112.93ZM1219.19 984.06H1252.37V999.24H1219.19ZM1302.02 984.06H1332.38V999.24H1302.02ZM1360.06 984.06H1385.88V999.24H1360.06ZM456.2 998.94H459.82V1003.56H456.2ZM563.2 998.94H584.24V1003.56H563.2ZM609.1 998.94H681.3V1003.56H609.1ZM706.52 998.94H713.7V1003.56H706.52ZM763.21 998.94H811.74V1003.56H763.21ZM914.39 998.94H941.56V1003.56H914.39ZM951.32 998.94H977.39V1003.56H951.32ZM1017.34 998.94H1038.01V1003.56H1017.34ZM1043.23 998.94H1070.16V1003.56H1043.23ZM1073.41 998.94H1080.83V1003.56H1073.41ZM1097.1 998.94H1141.57V1003.56H1097.1ZM1165.2 998.94H1197.65V1003.56H1165.2ZM1219.19 998.94H1228.69V1003.56H1219.19ZM1302.02 998.94H1332.38V1003.56H1302.02ZM1360.06 998.94H1385.88V1003.56H1360.06ZM335.34 1003.26H424.6V1014.89H335.34ZM456.2 1003.26H459.82V1014.89H456.2ZM563.2 1003.26H584.24V1014.89H563.2ZM609.1 1003.26H681.3V1014.89H609.1ZM706.52 1003.26H713.7V1014.89H706.52ZM763.21 1003.26H811.74V1014.89H763.21ZM914.39 1003.26H941.56V1014.89H914.39ZM951.32 1003.26H977.39V1014.89H951.32ZM1017.34 1003.26H1038.01V1014.89H1017.34ZM1048.14 1003.26H1070.16V1014.89H1048.14ZM1073.41 1003.26H1080.83V1014.89H1073.41ZM1097.1 1003.26H1141.57V1014.89H1097.1ZM1165.2 1003.26H1197.65V1014.89H1165.2ZM1219.19 1003.26H1228.69V1014.89H1219.19ZM1302.02 1003.26H1332.38V1014.89H1302.02ZM1360.06 1003.26H1385.88V1014.89H1360.06ZM335.34 1014.59H441.66V1021.14H335.34ZM456.2 1014.59H459.82V1021.14H456.2ZM548.36 1014.59H550.13V1021.14H548.36ZM563.2 1014.59H681.3V1021.14H563.2ZM706.52 1014.59H713.7V1021.14H706.52ZM763.21 1014.59H811.74V1021.14H763.21ZM931.32 1014.59H941.56V1021.14H931.32ZM951.32 1014.59H969.66V1021.14H951.32ZM1017.34 1014.59H1038.01V1021.14H1017.34ZM1048.14 1014.59H1084.39V1021.14H1048.14ZM1087.03 1014.59H1090.03V1021.14H1087.03ZM1093.05 1014.59H1141.57V1021.14H1093.05ZM1165.2 1014.59H1169.43V1021.14H1165.2ZM1190.35 1014.59H1197.65V1021.14H1190.35ZM1219.19 1014.59H1228.69V1021.14H1219.19ZM1302.02 1014.59H1332.38V1021.14H1302.02ZM1360.06 1014.59H1385.88V1021.14H1360.06ZM548.36 1020.84H713.7V1044.66H548.36ZM763.21 1020.84H811.74V1044.66H763.21ZM843.59 1020.84H914.69V1044.66H843.59ZM951.32 1020.84H969.66V1044.66H951.32ZM1017.34 1020.84H1027.58V1044.66H1017.34ZM1043.23 1020.84H1067.21V1044.66H1043.23ZM1069.86 1020.84H1073.71V1044.66H1069.86ZM1084.09 1020.84H1093.35V1044.66H1084.09ZM1112.93 1020.84H1141.57V1044.66H1112.93ZM1228.39 1020.84H1252.37V1044.66H1228.39ZM1255.02 1020.84H1302.32V1044.66H1255.02ZM323.44 1044.36H441.66V1066.55H323.44ZM456.2 1044.36H459.82V1066.55H456.2ZM891.32 1044.36H914.69V1066.55H891.32ZM931.32 1044.36H941.56V1066.55H931.32ZM951.32 1044.36H977.39V1066.55H951.32ZM991.45 1044.36H1067.21V1066.55H991.45ZM1116.98 1044.36H1193.84V1066.55H1116.98ZM1197.35 1044.36H1219.49V1066.55H1197.35ZM1228.39 1044.36H1255.32V1066.55H1228.39ZM424.3 1066.25H456.5V1086.53H424.3ZM548.36 1066.25H609.4V1086.53H548.36ZM678.3 1066.25H706.82V1086.53H678.3ZM763.21 1066.25H891.62V1086.53H763.21ZM914.39 1066.25H931.62V1086.53H914.39ZM977.09 1066.25H1006.59V1086.53H977.09ZM1043.23 1066.25H1048.44V1086.53H1043.23ZM1057.22 1066.25H1084.39V1086.53H1057.22ZM1087.03 1066.25H1090.03V1086.53H1087.03ZM1093.05 1066.25H1141.57V1086.53H1093.05ZM1219.19 1066.25H1252.37V1086.53H1219.19ZM1255.02 1066.25H1302.32V1086.53H1255.02ZM161 1086.23H459.82V1088.2H161ZM847.39 1086.23H891.62V1088.2H847.39ZM914.39 1086.23H931.62V1088.2H914.39ZM951.32 1086.23H969.66V1088.2H951.32ZM977.09 1086.23H1017.64V1088.2H977.09ZM1027.28 1086.23H1070.16V1088.2H1027.28ZM1073.41 1086.23H1077.64V1088.2H1073.41ZM1097.1 1086.23H1169.43V1088.2H1097.1ZM1190.35 1086.23H1197.65V1088.2H1190.35ZM1219.19 1086.23H1228.69V1088.2H1219.19Z"/>
<path fill="#FFF39D" d="M443.07 128H459.82V133.53H443.07ZM977.09 128H991.75V133.53H977.09ZM1332.08 128H1360.36V133.53H1332.08ZM443.07 133.23H459.82V255.38H443.07ZM977.09 133.23H991.75V255.38H977.09ZM1026.17 133.23H1027.58V255.38H1026.17ZM1084.09 133.23H1087.33V255.38H1084.09ZM1089.73 133.23H1093.35V255.38H1089.73ZM1332.08 133.23H1360.36V255.38H1332.08ZM548.36 264.39H713.7V334.3H548.36ZM763.21 264.39H811.74V334.3H763.21ZM847.39 264.39H891.62V334.3H847.39ZM1026.17 264.39H1027.58V334.3H1026.17ZM1084.09 264.39H1087.33V334.3H1084.09ZM1089.73 264.39H1093.35V334.3H1089.73ZM1112.93 264.39H1141.57V334.3H1112.93ZM1165.2 264.39H1169.43V334.3H1165.2ZM1190.35 264.39H1197.65V334.3H1190.35ZM1274.04 264.39H1279.86V334.3H1274.04ZM763.21 334H811.74V340.55H763.21ZM847.39 334H891.62V340.55H847.39ZM1026.17 334H1027.58V340.55H1026.17ZM1084.09 334H1087.33V340.55H1084.09ZM1089.73 334H1093.35V340.55H1089.73ZM1112.93 334H1141.57V340.55H1112.93ZM1165.2 334H1169.43V340.55H1165.2ZM1190.35 334H1197.65V340.55H1190.35ZM1274.04 334H1294.34V340.55H1274.04ZM884.32 340.25H891.62V347.65H884.32ZM1026.17 340.25H1027.58V347.65H1026.17ZM1057.22 340.25H1067.21V347.65H1057.22ZM1084.09 340.25H1093.35V347.65H1084.09ZM1112.93 340.25H1141.57V347.65H1112.93ZM1274.04 340.25H1294.34V347.65H1274.04ZM548.36 347.35H609.4V349H548.36ZM678.3 347.35H706.82V349H678.3ZM713.4 347.35H811.74V349H713.4ZM914.39 347.35H941.56V349H914.39ZM951.32 347.35H969.66V349H951.32ZM977.09 347.35H991.75V349H977.09ZM1026.17 347.35H1027.58V349H1026.17ZM1043.23 347.35H1073.71V349H1043.23ZM1077.34 347.35H1141.57V349H1077.34ZM1157.22 347.35H1228.69V349H1157.22ZM1274.04 347.35H1302.32V349H1274.04ZM1332.08 347.35H1360.36V349H1332.08ZM161 348.7H323.74V357.25H161ZM548.36 348.7H609.4V357.25H548.36ZM698.18 348.7H706.82V357.25H698.18ZM713.4 348.7H811.74V357.25H713.4ZM931.32 348.7H941.56V357.25H931.32ZM951.32 348.7H969.66V357.25H951.32ZM977.09 348.7H991.75V357.25H977.09ZM1026.17 348.7H1027.58V357.25H1026.17ZM1048.14 348.7H1067.21V357.25H1048.14ZM1069.86 348.7H1073.71V357.25H1069.86ZM1077.34 348.7H1141.57V357.25H1077.34ZM1157.22 348.7H1219.49V357.25H1157.22ZM1274.04 348.7H1302.32V357.25H1274.04ZM1332.08 348.7H1360.36V357.25H1332.08ZM161 356.95H323.74V359.27H161ZM548.36 356.95H609.4V359.27H548.36ZM681 356.95H706.82V359.27H681ZM713.4 356.95H811.74V359.27H713.4ZM931.32 356.95H941.56V359.27H931.32ZM951.32 356.95H969.66V359.27H951.32ZM977.09 356.95H991.75V359.27H977.09ZM1026.17 356.95H1027.58V359.27H1026.17ZM1048.14 356.95H1073.71V359.27H1048.14ZM1077.34 356.95H1141.57V359.27H1077.34ZM1157.22 356.95H1228.69V359.27H1157.22ZM1274.04 356.95H1302.32V359.27H1274.04ZM1332.08 356.95H1360.36V359.27H1332.08ZM161 358.97H323.74V361.86H161ZM763.21 358.97H843.89V361.86H763.21ZM847.39 358.97H891.62V361.86H847.39ZM1026.17 358.97H1027.58V361.86H1026.17ZM1057.22 358.97H1067.21V361.86H1057.22ZM1112.93 358.97H1117.28V361.86H1112.93ZM1193.54 358.97H1197.65V361.86H1193.54ZM335.34 431.08H424.6V432.53H335.34ZM441.36 431.08H456.5V432.53H441.36ZM843.59 431.08H847.69V432.53H843.59ZM884.32 431.08H891.62V432.53H884.32ZM969.36 431.08H991.75V432.53H969.36ZM1057.22 431.08H1067.21V432.53H1057.22ZM1069.86 431.08H1073.71V432.53H1069.86ZM1084.09 431.08H1093.35V432.53H1084.09ZM1274.04 431.08H1294.34V432.53H1274.04ZM335.34 432.23H424.6V443H335.34ZM441.36 432.23H456.5V443H441.36ZM884.32 432.23H891.62V443H884.32ZM969.36 432.23H977.39V443H969.36ZM1057.22 432.23H1067.21V443H1057.22ZM1069.86 432.23H1073.71V443H1069.86ZM1080.53 432.23H1097.4V443H1080.53ZM1112.93 432.23H1117.28V443H1112.93ZM1146.3 432.23H1157.52V443H1146.3ZM1274.04 432.23H1302.32V443H1274.04ZM335.34 442.7H424.6V459.23H335.34ZM441.36 442.7H456.5V459.23H441.36ZM843.59 442.7H847.69V459.23H843.59ZM977.09 442.7H991.75V459.23H977.09ZM1057.22 442.7H1067.21V459.23H1057.22ZM1084.09 442.7H1087.33V459.23H1084.09ZM1089.73 442.7H1093.35V459.23H1089.73ZM335.34 458.93H424.6V478.91H335.34ZM441.36 458.93H456.5V478.91H441.36ZM843.59 458.93H847.69V478.91H843.59ZM977.09 458.93H991.75V478.91H977.09ZM1057.22 458.93H1067.21V478.91H1057.22ZM1084.09 458.93H1093.35V478.91H1084.09ZM1274.04 458.93H1294.34V478.91H1274.04ZM335.34 478.61H424.6V533.07H335.34ZM843.59 478.61H847.69V533.07H843.59ZM977.09 478.61H991.75V533.07H977.09ZM335.34 532.77H424.6V535.18H335.34ZM441.36 532.77H443.37V535.18H441.36ZM843.59 532.77H847.69V535.18H843.59ZM951.32 532.77H969.66V535.18H951.32ZM977.09 532.77H991.75V535.18H977.09ZM1057.22 532.77H1067.21V535.18H1057.22ZM1084.09 532.77H1087.33V535.18H1084.09ZM1089.73 532.77H1093.35V535.18H1089.73ZM1157.22 532.77H1165.5V535.18H1157.22ZM335.34 534.88H424.6V542.28H335.34ZM441.36 534.88H443.37V542.28H441.36ZM453.63 534.88H456.5V542.28H453.63ZM884.32 534.88H891.62V542.28H884.32ZM951.32 534.88H977.39V542.28H951.32ZM1057.22 534.88H1067.21V542.28H1057.22ZM1069.86 534.88H1073.71V542.28H1069.86ZM1077.34 534.88H1097.4V542.28H1077.34ZM1141.27 534.88H1165.5V542.28H1141.27ZM1274.04 534.88H1302.32V542.28H1274.04ZM335.34 541.98H424.6V548.62H335.34ZM441.36 541.98H443.37V548.62H441.36ZM453.63 541.98H456.5V548.62H453.63ZM884.32 541.98H891.62V548.62H884.32ZM951.32 541.98H991.75V548.62H951.32ZM1057.22 541.98H1067.21V548.62H1057.22ZM1069.86 541.98H1073.71V548.62H1069.86ZM1080.53 541.98H1097.4V548.62H1080.53ZM1141.27 541.98H1146.6V548.62H1141.27ZM1157.22 541.98H1165.5V548.62H1157.22ZM1274.04 541.98H1302.32V548.62H1274.04ZM335.34 548.32H424.6V553.23H335.34ZM441.36 548.32H456.5V553.23H441.36ZM951.32 548.32H977.39V553.23H951.32ZM1057.22 548.32H1067.21V553.23H1057.22ZM1069.86 548.32H1073.71V553.23H1069.86ZM1080.53 548.32H1097.4V553.23H1080.53ZM1141.27 548.32H1146.6V553.23H1141.27ZM1157.22 548.32H1165.5V553.23H1157.22ZM1274.04 548.32H1302.32V553.23H1274.04ZM335.34 552.93H424.6V555.15H335.34ZM441.36 552.93H456.5V555.15H441.36ZM884.32 552.93H891.62V555.15H884.32ZM951.32 552.93H977.39V555.15H951.32ZM1057.22 552.93H1067.21V555.15H1057.22ZM1069.86 552.93H1073.71V555.15H1069.86ZM1077.34 552.93H1117.28V555.15H1077.34ZM1141.27 552.93H1165.5V555.15H1141.27ZM1193.54 552.93H1197.65V555.15H1193.54ZM1274.04 552.93H1302.32V555.15H1274.04ZM335.34 554.85H424.6V560.53H335.34ZM843.59 554.85H847.69V560.53H843.59ZM951.32 554.85H969.66V560.53H951.32ZM977.09 554.85H991.75V560.53H977.09ZM1057.22 554.85H1067.21V560.53H1057.22ZM1084.09 554.85H1087.33V560.53H1084.09ZM441.36 560.23H456.5V599.51H441.36ZM335.34 599.21H432.58V637.25H335.34ZM441.36 599.21H459.82V637.25H441.36ZM811.44 599.21H843.89V637.25H811.44ZM847.39 599.21H891.62V637.25H847.39ZM951.32 599.21H969.66V637.25H951.32ZM977.09 599.21H991.75V637.25H977.09ZM1066.91 599.21H1084.39V637.25H1066.91ZM1087.03 599.21H1090.03V637.25H1087.03ZM1093.05 599.21H1117.28V637.25H1093.05ZM1165.2 599.21H1169.43V637.25H1165.2ZM1193.54 599.21H1197.65V637.25H1193.54ZM1332.08 599.21H1360.36V637.25H1332.08ZM1385.58 599.21H1388.06V637.25H1385.58ZM456.2 636.95H459.82V662.41H456.2ZM763.21 636.95H811.74V662.41H763.21ZM847.39 636.95H884.62V662.41H847.39ZM891.32 636.95H914.69V662.41H891.32ZM941.26 636.95H951.62V662.41H941.26ZM969.36 636.95H1006.59V662.41H969.36ZM1017.34 636.95H1024.51V662.41H1017.34ZM1026.17 636.95H1038.01V662.41H1026.17ZM1057.22 636.95H1117.28V662.41H1057.22ZM1193.54 636.95H1197.65V662.41H1193.54ZM1274.04 636.95H1302.32V662.41H1274.04ZM1332.08 636.95H1360.36V662.41H1332.08ZM1385.58 636.95H1388.06V662.41H1385.58ZM548.36 662.11H550.13V665.38H548.36ZM563.2 662.11H681.3V665.38H563.2ZM706.52 662.11H713.7V665.38H706.52ZM847.39 662.11H914.69V665.38H847.39ZM941.26 662.11H1006.59V665.38H941.26ZM1017.34 662.11H1038.01V665.38H1017.34ZM1043.23 662.11H1048.44V665.38H1043.23ZM1057.22 662.11H1141.57V665.38H1057.22ZM1165.2 662.11H1169.43V665.38H1165.2ZM1190.35 662.11H1197.65V665.38H1190.35ZM1219.19 662.11H1228.69V665.38H1219.19ZM1252.07 662.11H1255.32V665.38H1252.07ZM1274.04 662.11H1302.32V665.38H1274.04ZM1385.58 662.11H1388.06V665.38H1385.58ZM335.34 665.08H432.58V694.28H335.34ZM456.2 665.08H459.82V694.28H456.2ZM763.21 665.08H847.69V694.28H763.21ZM977.09 665.08H991.75V694.28H977.09ZM1017.34 665.08H1038.01V694.28H1017.34ZM1048.14 665.08H1084.39V694.28H1048.14ZM1087.03 665.08H1090.03V694.28H1087.03ZM1093.05 665.08H1117.28V694.28H1093.05ZM1219.19 665.08H1228.69V694.28H1219.19ZM1274.04 665.08H1302.32V694.28H1274.04ZM1332.08 665.08H1360.36V694.28H1332.08ZM335.34 693.98H441.66V699.76H335.34ZM456.2 693.98H459.82V699.76H456.2ZM548.36 693.98H563.5V699.76H548.36ZM681 693.98H698.48V699.76H681ZM704.07 693.98H706.82V699.76H704.07ZM763.21 693.98H811.74V699.76H763.21ZM843.59 693.98H847.69V699.76H843.59ZM977.09 693.98H991.75V699.76H977.09ZM1017.34 693.98H1027.58V699.76H1017.34ZM1057.22 693.98H1084.39V699.76H1057.22ZM1087.03 693.98H1117.28V699.76H1087.03ZM1274.04 693.98H1302.32V699.76H1274.04ZM1332.08 693.98H1360.36V699.76H1332.08ZM811.44 699.46H847.69V703.69H811.44ZM977.09 699.46H991.75V703.69H977.09ZM811.44 703.39H847.69V717.81H811.44ZM977.09 703.39H991.75V717.81H977.09ZM441.36 717.51H443.37V731.06H441.36ZM1332.08 717.51H1360.36V731.06H1332.08ZM441.36 730.76H456.5V738.84H441.36ZM1112.93 730.76H1117.28V738.84H1112.93ZM811.44 738.54H847.69V746.71H811.44ZM441.36 746.41H456.5V760.83H441.36ZM678.3 746.41H713.7V760.83H678.3ZM763.21 746.41H811.74V760.83H763.21ZM843.59 746.41H847.69V760.83H843.59ZM1043.23 746.41H1048.44V760.83H1043.23ZM1057.22 746.41H1067.21V760.83H1057.22ZM1084.09 746.41H1093.35V760.83H1084.09ZM1112.93 746.41H1117.28V760.83H1112.93ZM1219.19 746.41H1228.69V760.83H1219.19ZM548.36 760.53H563.5V766.88H548.36ZM681 760.53H706.82V766.88H681ZM811.44 760.53H847.69V766.88H811.44ZM161 766.58H323.74V778.11H161ZM441.36 766.58H456.5V778.11H441.36ZM548.36 766.58H550.13V778.11H548.36ZM563.2 766.58H681.3V778.11H563.2ZM690.08 766.58H698.48V778.11H690.08ZM706.52 766.58H713.7V778.11H706.52ZM763.21 766.58H914.69V778.11H763.21ZM1017.34 766.58H1027.58V778.11H1017.34ZM1057.22 766.58H1084.39V778.11H1057.22ZM1087.03 766.58H1090.03V778.11H1087.03ZM1093.05 766.58H1141.57V778.11H1093.05ZM1274.04 766.58H1360.36V778.11H1274.04ZM811.44 777.81H847.69V789.73H811.44ZM811.44 798.07H891.62V803.75H811.44ZM977.09 798.07H991.75V803.75H977.09ZM1069.86 798.07H1073.71V803.75H1069.86ZM1084.09 798.07H1093.35V803.75H1084.09ZM843.59 803.45H891.62V805.28H843.59ZM977.09 803.45H991.75V805.28H977.09ZM1026.17 803.45H1027.58V805.28H1026.17ZM1066.91 803.45H1073.71V805.28H1066.91ZM1077.34 803.45H1113.23V805.28H1077.34ZM167.72 804.98H323.74V806.15H167.72ZM335.34 804.98H459.82V806.15H335.34ZM811.44 804.98H891.62V806.15H811.44ZM977.09 804.98H991.75V806.15H977.09ZM1024.21 804.98H1026.47V806.15H1024.21ZM1066.91 804.98H1073.71V806.15H1066.91ZM1077.34 804.98H1113.23V806.15H1077.34ZM1219.19 804.98H1228.69V806.15H1219.19ZM811.44 805.85H884.62V814.31H811.44ZM1069.86 805.85H1073.71V814.31H1069.86ZM1080.53 805.85H1097.4V814.31H1080.53ZM1084.09 814.01H1087.33V818.63H1084.09ZM1089.73 814.01H1093.35V818.63H1089.73ZM441.36 818.33H443.37V822.47H441.36ZM843.59 818.33H847.69V822.47H843.59ZM951.32 818.33H969.66V822.47H951.32ZM1069.86 818.33H1073.71V822.47H1069.86ZM1080.53 818.33H1097.4V822.47H1080.53ZM441.36 822.17H456.5V829.58H441.36ZM847.39 822.17H884.62V829.58H847.39ZM1084.09 822.17H1087.33V829.58H1084.09ZM1089.73 822.17H1093.35V829.58H1089.73ZM432.28 829.28H459.82V837.16H432.28ZM548.36 829.28H609.4V837.16H548.36ZM678.3 829.28H713.7V837.16H678.3ZM811.44 829.28H891.62V837.16H811.44ZM951.32 829.28H969.66V837.16H951.32ZM977.09 829.28H991.75V837.16H977.09ZM1066.91 829.28H1113.23V837.16H1066.91ZM441.36 836.86H443.37V839.47H441.36ZM453.63 836.86H456.5V839.47H453.63ZM763.21 836.86H891.62V839.47H763.21ZM977.09 836.86H991.75V839.47H977.09ZM1024.21 836.86H1027.58V839.47H1024.21ZM1057.22 836.86H1067.21V839.47H1057.22ZM1069.86 836.86H1073.71V839.47H1069.86ZM1077.34 836.86H1097.4V839.47H1077.34ZM1332.08 836.86H1360.36V839.47H1332.08ZM441.36 839.17H456.5V842.25H441.36ZM548.36 839.17H563.5V842.25H548.36ZM681 839.17H706.82V842.25H681ZM763.21 839.17H891.62V842.25H763.21ZM977.09 839.17H991.75V842.25H977.09ZM1017.34 839.17H1038.01V842.25H1017.34ZM1043.23 839.17H1048.44V842.25H1043.23ZM1057.22 839.17H1070.16V842.25H1057.22ZM1073.41 839.17H1113.23V842.25H1073.41ZM1274.04 839.17H1294.34V842.25H1274.04ZM1332.08 839.17H1360.36V842.25H1332.08ZM1385.58 839.17H1388.06V842.25H1385.58ZM763.21 841.95H891.62V845.32H763.21ZM977.09 841.95H991.75V845.32H977.09ZM1057.22 841.95H1067.21V845.32H1057.22ZM1069.86 841.95H1073.71V845.32H1069.86ZM1084.09 841.95H1093.35V845.32H1084.09ZM1332.08 841.95H1360.36V845.32H1332.08ZM441.36 845.02H456.5V847.82H441.36ZM681 845.02H690.38V847.82H681ZM704.07 845.02H706.82V847.82H704.07ZM763.21 845.02H891.62V847.82H763.21ZM977.09 845.02H991.75V847.82H977.09ZM1024.21 845.02H1027.58V847.82H1024.21ZM1057.22 845.02H1073.71V847.82H1057.22ZM1080.53 845.02H1113.23V847.82H1080.53ZM1332.08 845.02H1360.36V847.82H1332.08ZM1385.58 845.02H1388.06V847.82H1385.58ZM441.36 847.52H456.5V850.6H441.36ZM549.83 847.52H563.5V850.6H549.83ZM681 847.52H706.82V850.6H681ZM763.21 847.52H891.62V850.6H763.21ZM977.09 847.52H991.75V850.6H977.09ZM1024.21 847.52H1038.01V850.6H1024.21ZM1043.23 847.52H1048.44V850.6H1043.23ZM1057.22 847.52H1073.71V850.6H1057.22ZM1077.34 847.52H1080.83V850.6H1077.34ZM1084.09 847.52H1113.23V850.6H1084.09ZM1274.04 847.52H1294.34V850.6H1274.04ZM1332.08 847.52H1360.36V850.6H1332.08ZM1385.58 847.52H1388.06V850.6H1385.58ZM167.72 850.3H323.74V852.91H167.72ZM335.34 850.3H456.5V852.91H335.34ZM548.36 850.3H609.4V852.91H548.36ZM678.3 850.3H713.7V852.91H678.3ZM811.44 850.3H847.69V852.91H811.44ZM951.32 850.3H969.66V852.91H951.32ZM1017.34 850.3H1084.39V852.91H1017.34ZM1087.03 850.3H1141.57V852.91H1087.03ZM1165.2 850.3H1169.43V852.91H1165.2ZM1190.35 850.3H1197.65V852.91H1190.35ZM1274.04 850.3H1302.32V852.91H1274.04ZM1332.08 850.3H1388.06V852.91H1332.08ZM432.28 852.61H456.5V855.02H432.28ZM548.36 852.61H563.5V855.02H548.36ZM583.94 852.61H609.4V855.02H583.94ZM681 852.61H706.82V855.02H681ZM763.21 852.61H891.62V855.02H763.21ZM951.32 852.61H969.66V855.02H951.32ZM977.09 852.61H991.75V855.02H977.09ZM1017.34 852.61H1038.01V855.02H1017.34ZM1043.23 852.61H1048.44V855.02H1043.23ZM1057.22 852.61H1087.33V855.02H1057.22ZM1089.73 852.61H1113.23V855.02H1089.73ZM1274.04 852.61H1294.34V855.02H1274.04ZM1332.08 852.61H1360.36V855.02H1332.08ZM1385.58 852.61H1388.06V855.02H1385.58ZM167.72 854.72H323.74V857.61H167.72ZM335.34 854.72H456.5V857.61H335.34ZM548.36 854.72H609.4V857.61H548.36ZM678.3 854.72H706.82V857.61H678.3ZM811.44 854.72H847.69V857.61H811.44ZM884.32 854.72H891.62V857.61H884.32ZM951.32 854.72H969.66V857.61H951.32ZM1017.34 854.72H1090.03V857.61H1017.34ZM1093.05 854.72H1117.28V857.61H1093.05ZM1193.54 854.72H1197.65V857.61H1193.54ZM1274.04 854.72H1302.32V857.61H1274.04ZM1332.08 854.72H1388.06V857.61H1332.08ZM441.36 857.31H456.5V860.78H441.36ZM549.83 857.31H563.5V860.78H549.83ZM681 857.31H706.82V860.78H681ZM763.21 857.31H891.62V860.78H763.21ZM977.09 857.31H991.75V860.78H977.09ZM1024.21 857.31H1038.01V860.78H1024.21ZM1043.23 857.31H1048.44V860.78H1043.23ZM1057.22 857.31H1073.71V860.78H1057.22ZM1077.34 857.31H1093.35V860.78H1077.34ZM1097.1 857.31H1113.23V860.78H1097.1ZM1274.04 857.31H1294.34V860.78H1274.04ZM1332.08 857.31H1360.36V860.78H1332.08ZM1385.58 857.31H1388.06V860.78H1385.58ZM441.36 860.48H456.5V863.18H441.36ZM704.07 860.48H706.82V863.18H704.07ZM763.21 860.48H891.62V863.18H763.21ZM977.09 860.48H991.75V863.18H977.09ZM1024.21 860.48H1027.58V863.18H1024.21ZM1057.22 860.48H1067.21V863.18H1057.22ZM1069.86 860.48H1073.71V863.18H1069.86ZM1077.34 860.48H1097.4V863.18H1077.34ZM1332.08 860.48H1360.36V863.18H1332.08ZM441.36 862.88H456.5V873.17H441.36ZM704.07 862.88H706.82V873.17H704.07ZM763.21 862.88H891.62V873.17H763.21ZM977.09 862.88H991.75V873.17H977.09ZM1024.21 862.88H1027.58V873.17H1024.21ZM1057.22 862.88H1067.21V873.17H1057.22ZM1069.86 862.88H1073.71V873.17H1069.86ZM1077.34 862.88H1097.4V873.17H1077.34ZM1332.08 862.88H1360.36V873.17H1332.08ZM335.34 872.87H459.82V876.34H335.34ZM549.83 872.87H563.5V876.34H549.83ZM704.07 872.87H706.82V876.34H704.07ZM763.21 872.87H891.62V876.34H763.21ZM931.32 872.87H941.56V876.34H931.32ZM951.32 872.87H969.66V876.34H951.32ZM977.09 872.87H991.75V876.34H977.09ZM1084.09 872.87H1087.33V876.34H1084.09ZM1089.73 872.87H1093.35V876.34H1089.73ZM1141.27 872.87H1146.6V876.34H1141.27ZM1157.22 872.87H1169.43V876.34H1157.22ZM1190.35 872.87H1197.65V876.34H1190.35ZM1332.08 872.87H1360.36V876.34H1332.08ZM335.34 876.04H456.5V895.35H335.34ZM843.59 876.04H847.69V895.35H843.59ZM977.09 876.04H991.75V895.35H977.09ZM1084.09 876.04H1087.33V895.35H1084.09ZM1193.54 876.04H1197.65V895.35H1193.54ZM681 895.05H706.82V899.29H681ZM1112.93 895.05H1117.28V899.29H1112.93ZM549.83 898.99H563.5V907.83H549.83ZM681 898.99H690.38V907.83H681ZM704.07 898.99H706.82V907.83H704.07ZM441.36 907.53H456.5V914.07H441.36ZM678.3 907.53H706.82V914.07H678.3ZM1112.93 907.53H1117.28V914.07H1112.93ZM335.34 913.77H432.58V917.15H335.34ZM441.36 913.77H456.5V917.15H441.36ZM763.21 913.77H811.74V917.15H763.21ZM843.59 913.77H847.69V917.15H843.59ZM1084.09 913.77H1087.33V917.15H1084.09ZM1112.93 913.77H1117.28V917.15H1112.93ZM441.36 916.85H456.5V931.07H441.36ZM441.36 930.77H456.5V933.76H441.36ZM335.34 933.46H432.58V936.25H335.34ZM441.36 933.46H456.5V936.25H441.36ZM843.59 933.46H847.69V936.25H843.59ZM1084.09 933.46H1087.33V936.25H1084.09ZM1112.93 933.46H1117.28V936.25H1112.93ZM335.34 935.95H432.58V939.23H335.34ZM441.36 935.95H459.82V939.23H441.36ZM704.07 935.95H706.82V939.23H704.07ZM763.21 935.95H847.69V939.23H763.21ZM1084.09 935.95H1087.33V939.23H1084.09ZM1089.73 935.95H1093.35V939.23H1089.73ZM1112.93 935.95H1141.57V939.23H1112.93ZM1332.08 935.95H1360.36V939.23H1332.08ZM441.36 938.93H456.5V949.12H441.36ZM441.36 948.82H456.5V956.32H441.36ZM441.36 956.02H443.37V963.52H441.36ZM453.63 956.02H456.5V963.52H453.63ZM843.59 956.02H884.62V963.52H843.59ZM951.32 956.02H969.66V963.52H951.32ZM1026.17 956.02H1027.58V963.52H1026.17ZM1332.08 956.02H1360.36V963.52H1332.08ZM843.59 981.76H847.69V984.36H843.59ZM335.34 998.94H456.5V1003.56H335.34ZM548.36 998.94H563.5V1003.56H548.36ZM583.94 998.94H609.4V1003.56H583.94ZM681 998.94H706.82V1003.56H681ZM811.44 998.94H891.62V1003.56H811.44ZM977.09 998.94H991.75V1003.56H977.09ZM1069.86 998.94H1073.71V1003.56H1069.86ZM1080.53 998.94H1097.4V1003.56H1080.53ZM424.3 1003.26H456.5V1014.89H424.3ZM548.36 1003.26H563.5V1014.89H548.36ZM583.94 1003.26H609.4V1014.89H583.94ZM681 1003.26H706.82V1014.89H681ZM811.44 1003.26H891.62V1014.89H811.44ZM977.09 1003.26H991.75V1014.89H977.09ZM1069.86 1003.26H1073.71V1014.89H1069.86ZM1080.53 1003.26H1097.4V1014.89H1080.53ZM441.36 1014.59H456.5V1021.14H441.36ZM549.83 1014.59H563.5V1021.14H549.83ZM681 1014.59H706.82V1021.14H681ZM811.44 1014.59H891.62V1021.14H811.44ZM977.09 1014.59H991.75V1021.14H977.09ZM1084.09 1014.59H1087.33V1021.14H1084.09ZM1089.73 1014.59H1093.35V1021.14H1089.73ZM977.09 1020.84H991.75V1044.66H977.09ZM1332.08 1020.84H1360.36V1044.66H1332.08ZM161 1044.36H323.74V1066.55H161ZM441.36 1044.36H456.5V1066.55H441.36ZM763.21 1044.36H843.89V1066.55H763.21ZM847.39 1044.36H891.62V1066.55H847.39ZM914.39 1044.36H931.62V1066.55H914.39ZM977.09 1044.36H991.75V1066.55H977.09ZM1066.91 1044.36H1117.28V1066.55H1066.91ZM1193.54 1044.36H1197.65V1066.55H1193.54ZM1219.19 1044.36H1228.69V1066.55H1219.19ZM1302.02 1044.36H1332.38V1066.55H1302.02ZM1084.09 1066.25H1087.33V1086.53H1084.09ZM1089.73 1066.25H1093.35V1086.53H1089.73ZM763.21 1086.23H847.69V1088.2H763.21ZM1069.86 1086.23H1073.71V1088.2H1069.86ZM1077.34 1086.23H1097.4V1088.2H1077.34Z"/>
<path fill="#FFEF96" d="M698.18 128H704.37V133.53H698.18ZM1186.92 128H1210.29V133.53H1186.92ZM698.18 133.23H704.37V255.38H698.18ZM1186.92 133.23H1210.29V255.38H1186.92ZM811.44 264.39H847.69V334.3H811.44ZM1027.28 264.39H1067.21V334.3H1027.28ZM548.36 334H713.7V340.55H548.36ZM811.44 334H847.69V340.55H811.44ZM1027.28 334H1067.21V340.55H1027.28ZM713.4 340.25H811.74V347.65H713.4ZM896.35 340.25H1006.59V347.65H896.35ZM811.44 347.35H891.62V349H811.44ZM811.44 348.7H891.62V357.25H811.44ZM811.44 356.95H891.62V359.27H811.44ZM843.59 358.97H847.69V361.86H843.59ZM1228.39 361.56H1252.37V431.38H1228.39ZM424.3 431.08H432.58V432.53H424.3ZM424.3 432.23H432.58V443H424.3ZM843.59 432.23H847.69V443H843.59ZM977.09 432.23H991.75V443H977.09ZM424.3 442.7H432.58V459.23H424.3ZM424.3 458.93H432.58V478.91H424.3ZM424.3 478.61H432.58V533.07H424.3ZM1197.35 478.61H1210.29V533.07H1197.35ZM424.3 532.77H432.58V535.18H424.3ZM424.3 534.88H432.58V542.28H424.3ZM843.59 534.88H847.69V542.28H843.59ZM977.09 534.88H991.75V542.28H977.09ZM424.3 541.98H432.58V548.62H424.3ZM843.59 541.98H847.69V548.62H843.59ZM161 548.32H323.74V553.23H161ZM424.3 548.32H432.58V553.23H424.3ZM843.59 548.32H847.69V553.23H843.59ZM977.09 548.32H991.75V553.23H977.09ZM424.3 552.93H432.58V555.15H424.3ZM843.59 552.93H847.69V555.15H843.59ZM977.09 552.93H991.75V555.15H977.09ZM424.3 554.85H432.58V560.53H424.3ZM432.28 560.23H441.66V599.51H432.28ZM432.28 599.21H441.66V637.25H432.28ZM843.59 599.21H847.69V637.25H843.59ZM1027.28 599.21H1067.21V637.25H1027.28ZM1084.09 599.21H1087.33V637.25H1084.09ZM1089.73 599.21H1093.35V637.25H1089.73ZM335.34 636.95H432.58V662.41H335.34ZM441.36 636.95H456.5V662.41H441.36ZM335.34 662.11H432.58V665.38H335.34ZM441.36 662.11H459.82V665.38H441.36ZM549.83 662.11H563.5V665.38H549.83ZM681 662.11H706.82V665.38H681ZM763.21 662.11H811.74V665.38H763.21ZM1332.08 662.11H1360.36V665.38H1332.08ZM441.36 665.08H456.5V694.28H441.36ZM1084.09 665.08H1087.33V694.28H1084.09ZM1089.73 665.08H1093.35V694.28H1089.73ZM441.36 693.98H456.5V699.76H441.36ZM1084.09 693.98H1087.33V699.76H1084.09ZM432.28 703.39H441.66V717.81H432.28ZM432.28 717.51H441.66V731.06H432.28ZM432.28 730.76H441.66V738.84H432.28ZM432.28 738.54H441.66V746.71H432.28ZM432.28 746.41H441.66V760.83H432.28ZM991.45 746.41H1006.59V760.83H991.45ZM432.28 760.53H441.66V766.88H432.28ZM432.28 766.58H441.66V778.11H432.28ZM549.83 766.58H563.5V778.11H549.83ZM681 766.58H690.38V778.11H681ZM698.18 766.58H706.82V778.11H698.18ZM1084.09 766.58H1087.33V778.11H1084.09ZM1089.73 766.58H1093.35V778.11H1089.73ZM432.28 777.81H441.66V789.73H432.28ZM951.32 777.81H969.66V789.73H951.32ZM335.34 805.85H432.58V814.31H335.34ZM763.21 805.85H811.74V814.31H763.21ZM335.34 814.01H432.58V818.63H335.34ZM763.21 814.01H811.74V818.63H763.21ZM335.34 818.33H432.58V822.47H335.34ZM763.21 818.33H811.74V822.47H763.21ZM335.34 822.17H432.58V829.58H335.34ZM763.21 822.17H811.74V829.58H763.21ZM335.34 829.28H432.58V837.16H335.34ZM763.21 829.28H811.74V837.16H763.21ZM1066.91 836.86H1070.16V839.47H1066.91ZM1069.86 839.17H1073.71V842.25H1069.86ZM1077.34 845.02H1080.83V847.82H1077.34ZM763.21 850.3H811.74V852.91H763.21ZM847.39 850.3H891.62V852.91H847.39ZM977.09 850.3H991.75V852.91H977.09ZM1084.09 850.3H1087.33V852.91H1084.09ZM763.21 854.72H811.74V857.61H763.21ZM847.39 854.72H884.62V857.61H847.39ZM977.09 854.72H991.75V857.61H977.09ZM1100.16 862.88H1113.23V873.17H1100.16ZM1169.13 876.04H1187.22V895.35H1169.13ZM1360.06 895.05H1385.88V899.29H1360.06ZM1360.06 898.99H1385.88V907.83H1360.06ZM1360.06 907.53H1385.88V914.07H1360.06ZM1116.98 916.85H1141.57V931.07H1116.98ZM161 930.77H323.74V933.76H161ZM161 933.46H323.74V936.25H161ZM161 935.95H323.74V939.23H161ZM161 938.93H323.74V949.12H161ZM609.1 938.93H678.6V949.12H609.1ZM459.52 963.22H548.66V982.06H459.52ZM843.59 1044.36H847.69V1066.55H843.59ZM1141.27 1066.25H1165.5V1086.53H1141.27Z"/>
<path fill="#FFEB90" d="M432.28 128H441.66V133.53H432.28ZM549.83 128H563.5V133.53H549.83ZM1360.06 128H1385.88V133.53H1360.06ZM432.28 133.23H441.66V255.38H432.28ZM549.83 133.23H563.5V255.38H549.83ZM1360.06 133.23H1385.88V255.38H1360.06ZM161 340.25H323.74V347.65H161ZM713.4 361.56H763.51V431.38H713.4ZM1116.98 431.08H1141.57V432.53H1116.98ZM161 432.23H323.74V443H161ZM1116.98 432.23H1141.57V443H1116.98ZM1116.98 442.7H1141.57V459.23H1116.98ZM1116.98 458.93H1141.57V478.91H1116.98ZM1157.22 478.61H1165.5V533.07H1157.22ZM847.39 532.77H884.62V535.18H847.39ZM847.39 534.88H884.62V542.28H847.39ZM847.39 541.98H884.62V548.62H847.39ZM847.39 548.32H884.62V553.23H847.39ZM847.39 552.93H884.62V555.15H847.39ZM811.44 554.85H843.89V560.53H811.44ZM847.39 554.85H884.62V560.53H847.39ZM459.52 560.23H548.66V599.51H459.52ZM1228.39 599.21H1252.37V637.25H1228.39ZM706.52 636.95H713.7V662.41H706.52ZM1302.02 636.95H1332.38V662.41H1302.02ZM678.3 665.08H713.7V694.28H678.3ZM1006.29 746.41H1014.45V760.83H1006.29ZM951.32 789.43H969.66V795.87H951.32ZM1014.15 795.57H1017.64V798.37H1014.15ZM1024.21 803.45H1026.47V805.28H1024.21ZM1026.17 804.98H1027.58V806.15H1026.17ZM1228.39 805.85H1252.37V814.31H1228.39ZM548.36 876.04H609.4V895.35H548.36ZM1209.99 876.04H1219.49V895.35H1209.99ZM609.1 907.53H678.6V914.07H609.1ZM1197.35 916.85H1210.29V931.07H1197.35ZM1169.13 938.93H1187.22V949.12H1169.13ZM1116.98 948.82H1141.57V956.32H1116.98ZM763.21 963.22H811.74V982.06H763.21ZM1027.28 963.22H1038.01V982.06H1027.28ZM1385.58 963.22H1388.06V982.06H1385.58ZM811.44 1020.84H843.89V1044.66H811.44ZM161 1066.25H323.74V1086.53H161ZM1228.39 1086.23H1252.37V1088.2H1228.39Z"/>
<path fill="#FFE789" d="M811.44 128H843.89V133.53H811.44ZM811.44 133.23H843.89V255.38H811.44ZM432.28 255.08H441.66V258.45H432.28ZM432.28 258.15H441.66V264.69H432.28ZM1146.3 264.39H1157.52V334.3H1146.3ZM1302.02 264.39H1332.38V334.3H1302.02ZM1146.3 334H1157.52V340.55H1146.3ZM1302.02 334H1332.38V340.55H1302.02ZM323.44 340.25H335.64V347.65H323.44ZM1302.02 340.25H1332.38V347.65H1302.02ZM1302.02 347.35H1332.38V349H1302.02ZM681 348.7H698.48V357.25H681ZM1302.02 348.7H1332.38V357.25H1302.02ZM1302.02 356.95H1332.38V359.27H1302.02ZM1302.02 358.97H1332.38V361.86H1302.02ZM931.32 361.56H951.62V431.38H931.32ZM951.32 431.08H969.66V432.53H951.32ZM1252.07 431.08H1255.32V432.53H1252.07ZM951.32 432.23H969.66V443H951.32ZM1252.07 432.23H1255.32V443H1252.07ZM951.32 442.7H969.66V459.23H951.32ZM1252.07 442.7H1255.32V459.23H1252.07ZM951.32 458.93H969.66V478.91H951.32ZM1252.07 458.93H1255.32V478.91H1252.07ZM811.44 478.61H843.89V533.07H811.44ZM847.39 478.61H884.62V533.07H847.39ZM951.32 478.61H969.66V533.07H951.32ZM1169.13 478.61H1187.22V533.07H1169.13ZM1219.19 478.61H1228.69V533.07H1219.19ZM1252.07 478.61H1255.32V533.07H1252.07ZM1252.07 532.77H1255.32V535.18H1252.07ZM443.07 534.88H453.93V542.28H443.07ZM1252.07 534.88H1255.32V542.28H1252.07ZM443.07 541.98H453.93V548.62H443.07ZM1252.07 541.98H1255.32V548.62H1252.07ZM1252.07 548.32H1255.32V553.23H1252.07ZM1252.07 552.93H1255.32V555.15H1252.07ZM1252.07 554.85H1255.32V560.53H1252.07ZM161 636.95H323.74V662.41H161ZM609.1 636.95H678.6V662.41H609.1ZM843.59 662.11H847.69V665.38H843.59ZM609.1 665.08H678.6V694.28H609.1ZM991.45 665.08H1006.59V694.28H991.45ZM1157.22 665.08H1165.5V694.28H1157.22ZM459.52 730.76H548.66V738.84H459.52ZM459.52 738.54H548.66V746.71H459.52ZM1080.53 738.54H1084.39V746.71H1080.53ZM548.36 746.41H678.6V760.83H548.36ZM847.39 777.81H884.62V789.73H847.39ZM1037.71 805.85H1043.53V814.31H1037.71ZM1027.28 814.01H1038.01V818.63H1027.28ZM941.26 847.52H951.62V850.6H941.26ZM1274.04 895.05H1302.32V899.29H1274.04ZM335.34 898.99H432.58V907.83H335.34ZM1274.04 898.99H1302.32V907.83H1274.04ZM847.39 907.53H884.62V914.07H847.39ZM1274.04 907.53H1302.32V914.07H1274.04ZM609.1 916.85H678.6V931.07H609.1ZM1219.19 916.85H1228.69V931.07H1219.19ZM609.1 956.02H678.6V963.52H609.1ZM1169.13 956.02H1187.22V963.52H1169.13ZM548.36 981.76H713.7V984.36H548.36ZM1141.27 998.94H1165.5V1003.56H1141.27ZM1141.27 1003.26H1165.5V1014.89H1141.27ZM1141.27 1014.59H1165.5V1021.14H1141.27ZM335.34 1020.84H459.82V1044.66H335.34Z"/>
<path fill="#FEE282" d="M441.36 128H443.37V133.53H441.36ZM441.36 133.23H443.37V255.38H441.36ZM161 347.35H323.74V349H161ZM1228.39 895.05H1252.37V899.29H1228.39ZM1228.39 898.99H1252.37V907.83H1228.39ZM1228.39 907.53H1252.37V914.07H1228.39ZM1141.27 963.22H1165.5V982.06H1141.27Z"/>
<path fill="#FEDE7B" d="M1302.02 128H1332.38V133.53H1302.02ZM1302.02 133.23H1332.38V255.38H1302.02ZM1302.02 255.08H1332.38V258.45H1302.02ZM1302.02 258.15H1332.38V264.69H1302.02ZM678.3 340.25H698.48V347.65H678.3ZM704.07 340.25H713.7V347.65H704.07ZM847.39 340.25H884.62V347.65H847.39ZM1332.08 431.08H1360.36V432.53H1332.08ZM1332.08 432.23H1360.36V443H1332.08ZM1332.08 442.7H1360.36V459.23H1332.08ZM1332.08 458.93H1360.36V478.91H1332.08ZM432.28 532.77H441.66V535.18H432.28ZM1332.08 532.77H1360.36V535.18H1332.08ZM432.28 534.88H441.66V542.28H432.28ZM698.18 534.88H713.7V542.28H698.18ZM1332.08 534.88H1360.36V542.28H1332.08ZM432.28 541.98H441.66V548.62H432.28ZM698.18 541.98H713.7V548.62H698.18ZM1332.08 541.98H1360.36V548.62H1332.08ZM681 548.32H698.48V553.23H681ZM1332.08 548.32H1360.36V553.23H1332.08ZM432.28 552.93H441.66V555.15H432.28ZM681 552.93H698.48V555.15H681ZM1332.08 552.93H1360.36V555.15H1332.08ZM432.28 554.85H441.66V560.53H432.28ZM681 554.85H698.48V560.53H681ZM1332.08 554.85H1360.36V560.53H1332.08ZM1146.3 599.21H1165.5V637.25H1146.3ZM1169.13 599.21H1187.22V637.25H1169.13ZM951.32 636.95H969.66V662.41H951.32ZM432.28 665.08H441.66V694.28H432.28ZM811.44 746.41H843.89V760.83H811.44ZM1302.02 805.85H1332.38V814.31H1302.02ZM1116.98 836.86H1197.65V839.47H1116.98ZM1066.91 876.04H1070.16V895.35H1066.91ZM1157.22 876.04H1165.5V895.35H1157.22ZM1066.91 895.05H1070.16V899.29H1066.91ZM763.21 898.99H811.74V907.83H763.21ZM1066.91 898.99H1070.16V907.83H1066.91ZM763.21 907.53H811.74V914.07H763.21ZM1066.91 907.53H1070.16V914.07H1066.91ZM1116.98 907.53H1141.57V914.07H1116.98ZM1066.91 913.77H1070.16V917.15H1066.91ZM763.21 916.85H811.74V931.07H763.21ZM1066.91 916.85H1070.16V931.07H1066.91ZM1066.91 930.77H1070.16V933.76H1066.91ZM1197.35 930.77H1210.29V933.76H1197.35ZM1066.91 933.46H1070.16V936.25H1066.91ZM1197.35 933.46H1210.29V936.25H1197.35ZM1066.91 935.95H1070.16V939.23H1066.91ZM1197.35 935.95H1210.29V939.23H1197.35ZM1186.92 938.93H1197.65V949.12H1186.92ZM161 1020.84H335.64V1044.66H161ZM1027.28 1020.84H1038.01V1044.66H1027.28ZM548.36 1044.36H609.4V1066.55H548.36ZM678.3 1044.36H713.7V1066.55H678.3Z"/>
<path fill="#FEDA74" d="M811.44 255.08H843.89V258.45H811.44ZM1157.22 255.08H1210.29V258.45H1157.22ZM811.44 258.15H843.89V264.69H811.44ZM1157.22 258.15H1210.29V264.69H1157.22ZM1146.3 340.25H1228.69V347.65H1146.3ZM1014.15 347.35H1026.47V349H1014.15ZM1014.15 348.7H1026.47V357.25H1014.15ZM1014.15 356.95H1026.47V359.27H1014.15ZM1014.15 358.97H1026.47V361.86H1014.15ZM1169.13 431.08H1187.22V432.53H1169.13ZM1169.13 432.23H1187.22V443H1169.13ZM1169.13 442.7H1187.22V459.23H1169.13ZM1169.13 458.93H1187.22V478.91H1169.13ZM1169.13 534.88H1187.22V542.28H1169.13ZM1169.13 541.98H1187.22V548.62H1169.13ZM1169.13 548.32H1187.22V553.23H1169.13ZM323.44 636.95H335.64V662.41H323.44ZM843.59 636.95H847.69V662.41H843.59ZM1169.13 636.95H1187.22V662.41H1169.13ZM811.44 662.11H843.89V665.38H811.44ZM441.36 795.57H459.82V798.37H441.36ZM441.36 798.07H459.82V803.75H441.36ZM441.36 803.45H459.82V805.28H441.36ZM432.28 898.99H441.66V907.83H432.28ZM323.44 907.53H335.64V914.07H323.44ZM432.28 907.53H441.66V914.07H432.28ZM323.44 913.77H335.64V917.15H323.44ZM432.28 913.77H441.66V917.15H432.28ZM323.44 916.85H335.64V931.07H323.44ZM432.28 916.85H441.66V931.07H432.28ZM548.36 916.85H609.4V931.07H548.36ZM681 916.85H704.37V931.07H681ZM811.44 916.85H843.89V931.07H811.44ZM323.44 930.77H335.64V933.76H323.44ZM432.28 930.77H441.66V933.76H432.28ZM323.44 933.46H335.64V936.25H323.44ZM432.28 933.46H441.66V936.25H432.28ZM323.44 935.95H335.64V939.23H323.44ZM432.28 935.95H441.66V939.23H432.28ZM323.44 938.93H335.64V949.12H323.44ZM432.28 938.93H441.66V949.12H432.28ZM1219.19 938.93H1228.69V949.12H1219.19ZM432.28 948.82H441.66V956.32H432.28ZM1219.19 948.82H1228.69V956.32H1219.19ZM432.28 956.02H441.66V963.52H432.28ZM1197.35 956.02H1219.49V963.52H1197.35ZM1360.06 1020.84H1385.88V1044.66H1360.06ZM1302.02 1066.25H1332.38V1086.53H1302.02Z"/>
<path fill="#FED66D" d="M843.59 340.25H847.69V347.65H843.59ZM1014.15 340.25H1026.47V347.65H1014.15ZM1209.99 478.61H1219.49V533.07H1209.99ZM811.44 532.77H843.89V535.18H811.44ZM811.44 534.88H843.89V542.28H811.44ZM1209.99 534.88H1219.49V542.28H1209.99ZM811.44 541.98H843.89V548.62H811.44ZM1209.99 541.98H1219.49V548.62H1209.99ZM706.52 548.32H713.7V553.23H706.52ZM1209.99 548.32H1219.49V553.23H1209.99ZM706.52 552.93H713.7V555.15H706.52ZM698.18 554.85H706.82V560.53H698.18ZM678.3 636.95H698.48V662.41H678.3ZM884.32 636.95H891.62V662.41H884.32ZM1116.98 636.95H1141.57V662.41H1116.98ZM1209.99 636.95H1228.69V662.41H1209.99ZM432.28 662.11H441.66V665.38H432.28ZM811.44 693.98H843.89V699.76H811.44ZM941.26 717.51H951.62V731.06H941.26ZM914.39 738.54H931.62V746.71H914.39ZM1006.29 777.81H1014.45V789.73H1006.29ZM991.45 789.43H1006.59V795.87H991.45ZM432.28 795.57H441.66V798.37H432.28ZM432.28 798.07H441.66V803.75H432.28ZM432.28 803.45H441.66V805.28H432.28ZM1219.19 805.85H1228.69V814.31H1219.19ZM1197.35 872.87H1228.69V876.34H1197.35ZM811.44 876.04H843.89V895.35H811.44ZM1146.3 876.04H1157.52V895.35H1146.3ZM1116.98 898.99H1141.57V907.83H1116.98ZM1186.92 916.85H1197.65V931.07H1186.92ZM1169.13 930.77H1187.22V933.76H1169.13ZM1169.13 933.46H1187.22V936.25H1169.13ZM1169.13 935.95H1187.22V939.23H1169.13ZM1112.93 938.93H1117.28V949.12H1112.93ZM609.1 948.82H678.6V956.32H609.1ZM681 948.82H704.37V956.32H681ZM811.44 948.82H843.89V956.32H811.44ZM1112.93 948.82H1117.28V956.32H1112.93ZM811.44 956.02H843.89V963.52H811.44ZM1027.28 956.02H1038.01V963.52H1027.28ZM1112.93 956.02H1117.28V963.52H1112.93Z"/>
<path fill="#FED266" d="M914.39 361.56H931.62V431.38H914.39ZM1197.35 431.08H1210.29V432.53H1197.35ZM1197.35 432.23H1210.29V443H1197.35ZM678.3 442.7H698.48V459.23H678.3ZM704.07 442.7H713.7V459.23H704.07ZM1197.35 442.7H1210.29V459.23H1197.35ZM678.3 458.93H698.48V478.91H678.3ZM704.07 458.93H713.7V478.91H704.07ZM1197.35 458.93H1210.29V478.91H1197.35ZM1332.08 478.61H1360.36V533.07H1332.08ZM563.2 532.77H609.4V535.18H563.2ZM563.2 534.88H609.4V542.28H563.2ZM563.2 541.98H609.4V548.62H563.2ZM563.2 552.93H609.4V555.15H563.2ZM563.2 554.85H609.4V560.53H563.2ZM1014.15 599.21H1017.64V637.25H1014.15ZM459.52 717.51H548.66V731.06H459.52ZM931.32 717.51H941.56V731.06H931.32ZM914.39 730.76H931.62V738.84H914.39ZM763.21 795.57H811.74V798.37H763.21ZM548.36 938.93H609.4V949.12H548.36ZM1209.99 938.93H1219.49V949.12H1209.99ZM1197.35 948.82H1210.29V956.32H1197.35ZM1332.08 998.94H1360.36V1003.56H1332.08ZM1332.08 1003.26H1360.36V1014.89H1332.08ZM1332.08 1014.59H1360.36V1021.14H1332.08ZM609.1 1044.36H678.6V1066.55H609.1ZM1274.04 1044.36H1302.32V1066.55H1274.04Z"/>
<path fill="#FECE5F" d="M443.07 340.25H459.82V347.65H443.07ZM432.28 348.7H441.66V357.25H432.28ZM432.28 356.95H441.66V359.27H432.28ZM432.28 358.97H441.66V361.86H432.28ZM1209.99 431.08H1228.69V432.53H1209.99ZM1385.58 431.08H1388.06V432.53H1385.58ZM678.3 432.23H698.48V443H678.3ZM704.07 432.23H713.7V443H704.07ZM1209.99 432.23H1228.69V443H1209.99ZM1385.58 432.23H1388.06V443H1385.58ZM1209.99 442.7H1228.69V459.23H1209.99ZM1385.58 442.7H1388.06V459.23H1385.58ZM1209.99 458.93H1228.69V478.91H1209.99ZM1385.58 458.93H1388.06V478.91H1385.58ZM1190.35 478.61H1197.65V533.07H1190.35ZM1385.58 478.61H1388.06V533.07H1385.58ZM549.83 532.77H563.5V535.18H549.83ZM1385.58 532.77H1388.06V535.18H1385.58ZM549.83 534.88H563.5V542.28H549.83ZM1190.35 534.88H1210.29V542.28H1190.35ZM1385.58 534.88H1388.06V542.28H1385.58ZM549.83 541.98H563.5V548.62H549.83ZM1190.35 541.98H1210.29V548.62H1190.35ZM1385.58 541.98H1388.06V548.62H1385.58ZM1190.35 548.32H1210.29V553.23H1190.35ZM1385.58 548.32H1388.06V553.23H1385.58ZM549.83 552.93H563.5V555.15H549.83ZM1385.58 552.93H1388.06V555.15H1385.58ZM549.83 554.85H563.5V560.53H549.83ZM1385.58 554.85H1388.06V560.53H1385.58ZM1186.92 636.95H1193.84V662.41H1186.92ZM1197.35 636.95H1210.29V662.41H1197.35ZM1141.27 876.04H1146.6V895.35H1141.27ZM1116.98 895.05H1141.57V899.29H1116.98ZM811.44 930.77H843.89V933.76H811.44ZM609.1 933.46H678.6V936.25H609.1ZM681 933.46H704.37V936.25H681ZM811.44 933.46H843.89V936.25H811.44ZM609.1 935.95H678.6V939.23H609.1ZM681 935.95H704.37V939.23H681ZM681 938.93H704.37V949.12H681ZM811.44 938.93H843.89V949.12H811.44ZM548.36 948.82H609.4V956.32H548.36ZM548.36 956.02H609.4V963.52H548.36ZM548.36 1086.23H713.7V1088.2H548.36Z"/>
<path fill="#FEC95B" d="M1209.99 916.85H1219.49V931.07H1209.99ZM1169.13 948.82H1187.22V956.32H1169.13Z"/>
<path fill="#FEC458" d="M847.39 431.08H884.62V432.53H847.39ZM1186.92 431.08H1197.65V432.53H1186.92ZM847.39 432.23H884.62V443H847.39ZM1186.92 432.23H1197.65V443H1186.92ZM847.39 442.7H884.62V459.23H847.39ZM1186.92 442.7H1197.65V459.23H1186.92ZM847.39 458.93H884.62V478.91H847.39ZM1186.92 458.93H1197.65V478.91H1186.92ZM548.36 665.08H609.4V694.28H548.36ZM1073.41 738.54H1077.64V746.71H1073.41ZM941.26 841.95H951.62V845.32H941.26ZM548.36 930.77H609.4V933.76H548.36ZM548.36 933.46H609.4V936.25H548.36ZM548.36 935.95H609.4V939.23H548.36Z"/>
<path fill="#FEBF56" d="M441.36 340.25H443.37V347.65H441.36ZM609.1 340.25H678.6V347.65H609.1ZM698.18 340.25H704.37V347.65H698.18ZM432.28 347.35H441.66V349H432.28ZM681 431.08H713.7V432.53H681ZM698.18 432.23H704.37V443H698.18ZM698.18 442.7H704.37V459.23H698.18ZM811.44 442.7H843.89V459.23H811.44ZM698.18 458.93H704.37V478.91H698.18ZM432.28 478.61H441.66V533.07H432.28ZM706.52 478.61H713.7V533.07H706.52ZM681 532.77H713.7V535.18H681ZM548.36 534.88H550.13V542.28H548.36ZM678.3 534.88H681.3V542.28H678.3ZM548.36 541.98H550.13V548.62H548.36ZM678.3 541.98H681.3V548.62H678.3ZM432.28 548.32H441.66V553.23H432.28ZM548.36 548.32H609.4V553.23H548.36ZM678.3 548.32H681.3V553.23H678.3ZM698.18 548.32H706.82V553.23H698.18ZM548.36 552.93H550.13V555.15H548.36ZM678.3 552.93H681.3V555.15H678.3ZM698.18 552.93H704.37V555.15H698.18ZM548.36 554.85H550.13V560.53H548.36ZM609.1 554.85H681.3V560.53H609.1ZM891.32 554.85H914.69V560.53H891.32ZM1186.92 599.21H1193.84V637.25H1186.92ZM563.2 636.95H584.24V662.41H563.2ZM1024.21 636.95H1026.47V662.41H1024.21ZM1169.13 662.11H1187.22V665.38H1169.13ZM1141.27 665.08H1146.6V694.28H1141.27ZM706.52 699.46H713.7V703.69H706.52ZM706.52 703.39H713.7V717.81H706.52ZM811.44 803.45H843.89V805.28H811.44ZM1112.93 872.87H1117.28V876.34H1112.93ZM847.39 895.05H884.62V899.29H847.39ZM843.59 916.85H847.69V931.07H843.59ZM763.21 930.77H811.74V933.76H763.21ZM1190.35 930.77H1197.65V933.76H1190.35ZM763.21 933.46H811.74V936.25H763.21ZM1186.92 933.46H1190.65V936.25H1186.92ZM1186.92 935.95H1190.65V939.23H1186.92ZM1255.02 981.76H1274.34V984.36H1255.02ZM1252.07 984.06H1255.32V999.24H1252.07ZM1385.58 984.06H1388.06V999.24H1385.58ZM1385.58 998.94H1388.06V1003.56H1385.58ZM1385.58 1003.26H1388.06V1014.89H1385.58ZM1385.58 1014.59H1388.06V1021.14H1385.58ZM1385.58 1020.84H1388.06V1044.66H1385.58ZM1255.02 1086.23H1332.38V1088.2H1255.02Z"/>
<path fill="#FEBA53" d="M1157.22 431.08H1165.5V432.53H1157.22ZM609.1 432.23H678.6V443H609.1ZM1157.22 432.23H1165.5V443H1157.22ZM609.1 442.7H678.6V459.23H609.1ZM1157.22 442.7H1165.5V459.23H1157.22ZM1157.22 458.93H1165.5V478.91H1157.22ZM549.83 478.61H584.24V533.07H549.83ZM1116.98 534.88H1141.57V542.28H1116.98ZM1116.98 541.98H1141.57V548.62H1116.98ZM811.44 548.32H843.89V553.23H811.44ZM1116.98 548.32H1141.57V553.23H1116.98ZM811.44 552.93H843.89V555.15H811.44ZM698.18 636.95H706.82V662.41H698.18ZM681 876.04H704.37V895.35H681ZM548.36 907.53H609.4V914.07H548.36ZM1332.08 984.06H1360.36V999.24H1332.08ZM1255.02 1044.36H1274.34V1066.55H1255.02Z"/>
<path fill="#FEB04E" d="M1014.15 264.39H1026.47V334.3H1014.15ZM1014.15 334H1026.47V340.55H1014.15ZM563.2 340.25H584.24V347.65H563.2ZM1006.29 361.56H1014.45V431.38H1006.29ZM432.28 442.7H441.66V459.23H432.28ZM609.1 458.93H678.6V478.91H609.1ZM811.44 458.93H843.89V478.91H811.44ZM583.94 478.61H609.4V533.07H583.94ZM698.18 478.61H704.37V533.07H698.18ZM609.1 548.32H678.6V553.23H609.1ZM583.94 636.95H609.4V662.41H583.94ZM1186.92 665.08H1190.65V694.28H1186.92ZM459.52 789.43H548.66V795.87H459.52ZM335.34 795.57H432.58V798.37H335.34ZM335.34 798.07H432.58V803.75H335.34ZM335.34 803.45H432.58V805.28H335.34ZM1116.98 872.87H1141.57V876.34H1116.98ZM1112.93 876.04H1117.28V895.35H1112.93ZM847.39 930.77H884.62V933.76H847.39Z"/>
<path fill="#FDAB4B" d="M432.28 264.39H441.66V334.3H432.28ZM432.28 334H441.66V340.55H432.28ZM335.34 340.25H432.58V347.65H335.34ZM811.44 340.25H843.89V347.65H811.44ZM432.28 636.95H441.66V662.41H432.28ZM1197.35 836.86H1210.29V839.47H1197.35ZM1066.91 938.93H1070.16V949.12H1066.91Z"/>
<path fill="#FDA649" d="M843.59 128H847.69V133.53H843.59ZM843.59 133.23H847.69V255.38H843.59ZM1209.99 255.08H1219.49V258.45H1209.99ZM1209.99 258.15H1219.49V264.69H1209.99ZM690.08 478.61H698.48V533.07H690.08ZM609.1 541.98H678.6V548.62H609.1ZM884.32 548.32H891.62V553.23H884.32ZM161 662.11H323.74V665.38H161ZM698.18 693.98H704.37V699.76H698.18ZM1116.98 693.98H1141.57V699.76H1116.98ZM941.26 730.76H951.62V738.84H941.26ZM931.32 738.54H941.56V746.71H931.32ZM884.32 876.04H891.62V895.35H884.32ZM1186.92 930.77H1190.65V933.76H1186.92ZM323.44 948.82H335.64V956.32H323.44ZM1274.04 963.22H1279.86V982.06H1274.04ZM1228.39 998.94H1252.37V1003.56H1228.39Z"/>
<path fill="#FDA146" d="M583.94 340.25H609.4V347.65H583.94ZM563.2 432.23H584.24V443H563.2ZM549.83 442.7H563.5V459.23H549.83ZM432.28 458.93H441.66V478.91H432.28ZM704.07 478.61H706.82V533.07H704.07ZM609.1 552.93H678.6V555.15H609.1Z"/>
<path fill="#FD9C44" d="M443.07 334H453.93V340.55H443.07ZM456.2 334H459.82V340.55H456.2ZM424.3 348.7H432.58V357.25H424.3ZM424.3 358.97H432.58V361.86H424.3ZM1141.27 431.08H1146.6V432.53H1141.27ZM1141.27 432.23H1146.6V443H1141.27ZM1141.27 442.7H1146.6V459.23H1141.27ZM1141.27 458.93H1146.6V478.91H1141.27ZM681 478.61H690.38V533.07H681ZM609.1 534.88H678.6V542.28H609.1ZM884.32 665.08H891.62V694.28H884.32ZM847.39 693.98H884.62V699.76H847.39ZM969.36 746.41H977.39V760.83H969.36ZM951.32 760.53H969.66V766.88H951.32ZM548.36 895.05H609.4V899.29H548.36ZM1279.56 963.22H1302.32V982.06H1279.56ZM1228.39 1003.26H1252.37V1014.89H1228.39ZM1228.39 1014.59H1252.37V1021.14H1228.39Z"/>
<path fill="#FD923F" d="M443.07 264.39H453.93V334.3H443.07ZM335.34 348.7H424.6V357.25H335.34Z"/>
<path fill="#FD8D3C" d="M323.44 128H327.66V133.53H323.44ZM323.44 133.23H327.66V255.38H323.44ZM161 255.08H323.74V258.45H161ZM456.2 264.39H459.82V334.3H456.2ZM441.36 334H443.37V340.55H441.36ZM424.3 347.35H432.58V349H424.3ZM443.07 347.35H459.82V349H443.07ZM441.36 348.7H443.37V357.25H441.36ZM453.63 348.7H459.82V357.25H453.63ZM441.36 356.95H453.93V359.27H441.36ZM456.2 356.95H459.82V359.27H456.2ZM335.34 358.97H424.6V361.86H335.34ZM441.36 358.97H456.5V361.86H441.36ZM811.44 431.08H843.89V432.53H811.44ZM583.94 432.23H609.4V443H583.94ZM811.44 432.23H843.89V443H811.44ZM549.83 458.93H563.5V478.91H549.83ZM704.07 552.93H706.82V555.15H704.07ZM548.36 636.95H563.5V662.41H548.36ZM1209.99 662.11H1219.49V665.38H1209.99ZM884.32 693.98H891.62V699.76H884.32ZM1186.92 693.98H1190.65V699.76H1186.92ZM969.36 760.53H977.39V766.88H969.36ZM1037.71 804.98H1048.44V806.15H1037.71ZM1026.17 814.01H1027.58V818.63H1026.17ZM1043.23 814.01H1048.44V818.63H1043.23ZM1026.17 818.33H1027.58V822.47H1026.17ZM1037.71 818.33H1043.53V822.47H1037.71ZM1165.2 818.33H1169.43V822.47H1165.2ZM1165.2 822.17H1169.43V829.58H1165.2ZM1146.3 895.05H1157.52V899.29H1146.3ZM1141.27 898.99H1146.6V907.83H1141.27ZM1043.23 913.77H1057.52V917.15H1043.23ZM1165.2 913.77H1187.22V917.15H1165.2ZM1165.2 916.85H1169.43V931.07H1165.2ZM884.32 930.77H891.62V933.76H884.32ZM843.59 948.82H847.69V956.32H843.59Z"/>
<path fill="#FC863A" d="M1360.06 1044.36H1385.88V1066.55H1360.06ZM1332.08 1066.25H1360.36V1086.53H1332.08Z"/>
<path fill="#FA7935" d="M843.59 255.08H847.69V258.45H843.59ZM843.59 258.15H847.69V264.69H843.59ZM453.63 264.39H456.5V334.3H453.63ZM443.07 348.7H453.93V357.25H443.07ZM335.34 356.95H424.6V359.27H335.34ZM323.44 662.11H335.64V665.38H323.44ZM1043.23 805.85H1048.44V814.31H1043.23ZM1027.28 818.33H1038.01V822.47H1027.28ZM1157.22 895.05H1165.5V899.29H1157.22ZM1141.27 907.53H1146.6V914.07H1141.27ZM1193.54 933.46H1197.65V936.25H1193.54ZM1190.35 935.95H1193.84V939.23H1190.35ZM1279.56 984.06H1302.32V999.24H1279.56ZM1255.02 1003.26H1274.34V1014.89H1255.02ZM1255.02 1014.59H1274.34V1021.14H1255.02Z"/>
<path fill="#F86C31" d="M323.44 255.08H327.66V258.45H323.44ZM548.36 340.25H563.5V347.65H548.36ZM441.36 347.35H443.37V349H441.36ZM456.2 358.97H459.82V361.86H456.2ZM432.28 431.08H441.66V432.53H432.28ZM549.83 431.08H681.3V432.53H549.83ZM432.28 432.23H441.66V443H432.28ZM548.36 432.23H550.13V443H548.36ZM548.36 442.7H550.13V459.23H548.36ZM548.36 458.93H550.13V478.91H548.36ZM548.36 478.61H550.13V533.07H548.36ZM548.36 532.77H550.13V535.18H548.36ZM1112.93 534.88H1117.28V542.28H1112.93ZM1112.93 541.98H1117.28V548.62H1112.93ZM1112.93 548.32H1117.28V553.23H1112.93ZM681 872.87H704.37V876.34H681ZM1141.27 895.05H1146.6V899.29H1141.27ZM1274.04 984.06H1279.86V999.24H1274.04ZM1255.02 998.94H1274.34V1003.56H1255.02ZM1279.56 998.94H1294.34V1003.56H1279.56ZM1274.04 1003.26H1279.86V1014.89H1274.04ZM1385.58 1044.36H1388.06V1066.55H1385.58ZM1385.58 1066.25H1388.06V1086.53H1385.58ZM1332.08 1086.23H1385.88V1088.2H1332.08Z"/>
<path fill="#F7662F" d="M441.36 264.39H443.37V334.3H441.36ZM335.34 347.35H424.6V349H335.34Z"/>
<path fill="#F65F2C" d="M678.3 478.61H681.3V533.07H678.3ZM609.1 532.77H678.6V535.18H609.1ZM1294.04 998.94H1302.32V1003.56H1294.04ZM1274.04 1014.59H1279.86V1021.14H1274.04Z"/>
<path fill="#F34B26" d="M327.36 128H335.64V133.53H327.36ZM327.36 255.08H335.64V258.45H327.36ZM161 258.15H168.02V264.69H161ZM323.44 258.15H327.66V264.69H323.44ZM1294.04 1003.26H1302.32V1014.89H1294.04ZM1279.56 1014.59H1294.34V1021.14H1279.56ZM1385.58 1086.23H1388.06V1088.2H1385.58Z"/>
<path fill="#F24523" d="M1157.22 898.99H1165.5V907.83H1157.22ZM1146.3 907.53H1157.52V914.07H1146.3Z"/>
<path fill="#ED3920" d="M327.36 133.23H335.64V255.38H327.36ZM167.72 258.15H323.74V264.69H167.72ZM1252.07 963.22H1255.32V982.06H1252.07ZM1228.39 981.76H1252.37V984.36H1228.39Z"/>
<path fill="#E83421" d="M424.3 264.39H432.58V334.3H424.3ZM335.34 334H424.6V340.55H335.34Z"/>
<path fill="#E32F21" d="M327.36 258.15H335.64V264.69H327.36ZM453.63 334H456.5V340.55H453.63ZM424.3 356.95H432.58V359.27H424.3ZM548.36 431.08H550.13V432.53H548.36ZM583.94 442.7H609.4V459.23H583.94ZM563.2 458.93H584.24V478.91H563.2ZM678.3 532.77H681.3V535.18H678.3ZM896.35 699.46H914.69V703.69H896.35ZM891.32 703.39H896.65V717.81H891.32ZM1252.07 981.76H1255.32V984.36H1252.07Z"/>
<path fill="#D92622" d="M690.08 534.88H698.48V542.28H690.08ZM681 541.98H690.38V548.62H681ZM1093.05 857.31H1097.4V860.78H1093.05Z"/>
<path fill="#CA1824" d="M453.63 356.95H456.5V359.27H453.63Z"/>
<path fill="#C51324" d="M161 128H323.74V133.53H161ZM161 133.23H168.02V255.38H161Z"/>
<path fill="#B10026" d="M167.72 133.23H323.74V255.38H167.72ZM335.34 264.39H424.6V334.3H335.34ZM424.3 334H432.58V340.55H424.3ZM432.28 340.25H441.66V347.65H432.28ZM459.52 361.56H548.66V431.38H459.52ZM549.83 432.23H563.5V443H549.83ZM563.2 442.7H584.24V459.23H563.2ZM583.94 458.93H609.4V478.91H583.94ZM609.1 478.61H678.6V533.07H609.1ZM681 534.88H690.38V542.28H681ZM690.08 541.98H698.48V548.62H690.08ZM706.52 554.85H713.7V560.53H706.52ZM713.4 560.23H763.51V599.51H713.4ZM763.21 599.21H811.74V637.25H763.21ZM811.44 636.95H843.89V662.41H811.44ZM847.39 665.08H884.62V694.28H847.39ZM891.32 699.46H896.65V703.69H891.32ZM896.35 703.39H914.69V717.81H896.35ZM914.39 717.51H931.62V731.06H914.39ZM931.32 730.76H941.56V738.84H931.32ZM941.26 738.54H951.62V746.71H941.26ZM951.32 746.41H969.66V760.83H951.32ZM977.09 766.58H991.75V778.11H977.09ZM991.45 777.81H1006.59V789.73H991.45ZM1006.29 789.43H1014.45V795.87H1006.29ZM1017.34 798.07H1024.51V803.75H1017.34ZM1027.28 805.85H1038.01V814.31H1027.28ZM1037.71 814.01H1043.53V818.63H1037.71ZM1043.23 818.33H1048.44V822.47H1043.23ZM1048.14 822.17H1057.52V829.58H1048.14ZM1057.22 829.28H1067.21V837.16H1057.22ZM1073.41 841.95H1077.64V845.32H1073.41ZM1080.53 847.52H1084.39V850.6H1080.53ZM1087.03 852.61H1090.03V855.02H1087.03ZM1089.73 854.72H1093.35V857.61H1089.73ZM1097.1 860.48H1100.46V863.18H1097.1ZM1116.98 876.04H1141.57V895.35H1116.98ZM1146.3 898.99H1157.52V907.83H1146.3ZM1157.22 907.53H1165.5V914.07H1157.22ZM1169.13 916.85H1187.22V931.07H1169.13ZM1190.35 933.46H1193.84V936.25H1190.35ZM1193.54 935.95H1197.65V939.23H1193.54ZM1197.35 938.93H1210.29V949.12H1197.35ZM1209.99 948.82H1219.49V956.32H1209.99ZM1219.19 956.02H1228.69V963.52H1219.19ZM1228.39 963.22H1252.37V982.06H1228.39ZM1255.02 984.06H1274.34V999.24H1255.02ZM1274.04 998.94H1279.86V1003.56H1274.04ZM1279.56 1003.26H1294.34V1014.89H1279.56ZM1294.04 1014.59H1302.32V1021.14H1294.04ZM1302.02 1020.84H1332.38V1044.66H1302.02ZM1332.08 1044.36H1360.36V1066.55H1332.08ZM1360.06 1066.25H1385.88V1086.53H1360.06Z"/>
<path fill="#FFFFC8" fill-opacity="0.1" d="M170.8 128H173.3V1088.2H170.8ZM161 135.7H1388.1V137.6H161ZM173.3 128H180.6V1088.2H173.3ZM161 137.6H1388.1V143.4H161ZM205.2 128H206.2V1088.2H205.2ZM161 162.6H1388.1V163.3H161ZM261.4 128H262.8V1088.2H261.4ZM161 206.5H1388.1V207.7H161ZM277.6 128H279V1088.2H277.6ZM161 219.2H1388.1V220.4H161ZM287.9 128H295.2V1088.2H287.9ZM161 227.3H1388.1V233H161ZM295.2 128H296.2V1088.2H295.2ZM161 233H1388.1V233.8H161ZM321.7 128H325.4V1088.2H321.7ZM161 253.8H1388.1V256.7H161ZM333.3 128H337V1088.2H333.3ZM161 262.8H1388.1V265.7H161ZM358.8 128H363.7V1088.2H358.8ZM161 282.8H1388.1V286.6H161ZM436.4 128H441.3V1088.2H436.4ZM161 343.5H1388.1V347.3H161ZM486.2 128H487.6V1088.2H486.2ZM161 382.5H1388.1V383.6H161ZM518.1 128H525.4V1088.2H518.1ZM161 407.4H1388.1V413.2H161ZM535.5 128H542.9V1088.2H535.5ZM161 421.1H1388.1V426.8H161ZM554.6 128H556.1V1088.2H554.6ZM161 436H1388.1V437.2H161ZM631.7 128H634.2V1088.2H631.7ZM161 496.3H1388.1V498.3H161ZM636.6 128H638.6V1088.2H636.6ZM161 500.2H1388.1V501.7H161ZM660.7 128H664.3V1088.2H660.7ZM161 519H1388.1V521.9H161ZM673.2 128H674.6V1088.2H673.2ZM161 528.8H1388.1V529.9H161ZM683.2 128H684.7V1088.2H683.2ZM161 536.7H1388.1V537.8H161ZM695 128H702.4V1088.2H695ZM161 545.9H1388.1V551.6H161ZM707 128H708.5V1088.2H707ZM161 555.3H1388.1V556.4H161ZM836.4 128H841.3V1088.2H836.4ZM161 656.5H1388.1V660.3H161ZM944.4 128H946.3V1088.2H944.4ZM161 741H1388.1V742.5H161ZM981.4 128H983.9V1088.2H981.4ZM161 770H1388.1V771.9H161ZM1001.3 128H1003.3V1088.2H1001.3ZM161 785.5H1388.1V787.1H161ZM1024.6 128H1032V1088.2H1024.6ZM161 803.8H1388.1V809.5H161ZM1046.9 128H1047.9V1088.2H1046.9ZM161 821.3H1388.1V822H161ZM1116.4 128H1123.8V1088.2H1116.4ZM161 875.6H1388.1V881.4H161ZM1199.1 128H1201.1V1088.2H1199.1ZM161 940.3H1388.1V941.9H161ZM1204.7 128H1205.7V1088.2H1204.7ZM161 944.7H1388.1V945.5H161ZM1231.7 128H1233.7V1088.2H1231.7ZM161 965.9H1388.1V967.4H161ZM1275.7 128H1276.6V1088.2H1275.7ZM161 1000.2H1388.1V1001H161ZM1283 128H1290.4V1088.2H1283ZM161 1006H1388.1V1011.8H161Z"/>
<path fill="#FFFFC8" fill-opacity="0.18" d="M180.6 128H183.1V1088.2H180.6ZM161 143.4H1388.1V145.3H161ZM200.3 128H205.2V1088.2H200.3ZM161 158.7H1388.1V162.6H161ZM248.6 128H251.1V1088.2H248.6ZM161 196.6H1388.1V198.5H161ZM314.4 128H319.3V1088.2H314.4ZM161 248H1388.1V251.9H161ZM350.5 128H355.4V1088.2H350.5ZM161 276.3H1388.1V280.1H161ZM397.3 128H399.8V1088.2H397.3ZM161 312.9H1388.1V314.9H161ZM410.6 128H413V1088.2H410.6ZM161 323.3H1388.1V325.2H161ZM420.4 128H421.4V1088.2H420.4ZM161 331H1388.1V331.8H161ZM422.4 128H423.3V1088.2H422.4ZM161 332.5H1388.1V333.3H161ZM482.5 128H486.2V1088.2H482.5ZM161 379.6H1388.1V382.5H161ZM616.5 128H618.9V1088.2H616.5ZM161 484.4H1388.1V486.3H161ZM619.9 128H620.9V1088.2H619.9ZM161 487.1H1388.1V487.9H161ZM638.6 128H640V1088.2H638.6ZM161 501.7H1388.1V502.9H161ZM653.3 128H657V1088.2H653.3ZM161 513.2H1388.1V516.1H161ZM728.1 128H730.1V1088.2H728.1ZM161 571.8H1388.1V573.3H161ZM751.7 128H753.7V1088.2H751.7ZM161 590.2H1388.1V591.8H161ZM802.5 128H806.2V1088.2H802.5ZM161 630H1388.1V632.9H161ZM815.5 128H819.2V1088.2H815.5ZM161 640.2H1388.1V643.1H161ZM870 128H871.5V1088.2H870ZM161 682.8H1388.1V684H161ZM871.5 128H873.9V1088.2H871.5ZM161 684H1388.1V685.9H161ZM929.9 128H933.6V1088.2H929.9ZM161 729.7H1388.1V732.5H161ZM933.6 128H935.5V1088.2H933.6ZM161 732.5H1388.1V734.1H161ZM983.9 128H985.8V1088.2H983.9ZM161 771.9H1388.1V773.4H161ZM1013.6 128H1020.9V1088.2H1013.6ZM161 795.1H1388.1V800.9H161ZM1032 128H1035.6V1088.2H1032ZM161 809.5H1388.1V812.4H161ZM1067.1 128H1068.5V1088.2H1067.1ZM161 837H1388.1V838.2H161ZM1095.3 128H1096.8V1088.2H1095.3ZM161 859.1H1388.1V860.2H161ZM1123.8 128H1125.2V1088.2H1123.8ZM161 881.4H1388.1V882.5H161ZM1161.8 128H1169.2V1088.2H1161.8ZM161 911.1H1388.1V916.9H161ZM1192.7 128H1194.2V1088.2H1192.7ZM161 935.3H1388.1V936.5H161ZM1211.6 128H1219V1088.2H1211.6ZM161 950.1H1388.1V955.9H161ZM1255.8 128H1256.8V1088.2H1255.8ZM161 984.7H1388.1V985.5H161ZM1313.2 128H1318.1V1088.2H1313.2ZM161 1029.6H1388.1V1033.5H161ZM1341.7 128H1343.1V1088.2H1341.7ZM161 1051.9H1388.1V1053.1H161ZM1343.1 128H1348.1V1088.2H1343.1ZM161 1053.1H1388.1V1056.9H161ZM1358.9 128H1360.3V1088.2H1358.9ZM161 1065.3H1388.1V1066.5H161Z"/>
<path fill="#FDC866" fill-opacity="0.06" d="M190.4 128H195.4V1088.2H190.4ZM161 151H1388.1V154.9H161ZM206.2 128H209.8V1088.2H206.2ZM161 163.3H1388.1V166.2H161ZM271.2 128H276.1V1088.2H271.2ZM161 214.2H1388.1V218.1H161ZM331.3 128H333.3V1088.2H331.3ZM161 261.3H1388.1V262.8H161ZM421.4 128H422.4V1088.2H421.4ZM161 331.8H1388.1V332.5H161ZM511.7 128H516.6V1088.2H511.7ZM161 402.4H1388.1V406.3H161ZM545.3 128H550.2V1088.2H545.3ZM161 428.7H1388.1V432.6H161ZM564.2 128H567.9V1088.2H564.2ZM161 443.5H1388.1V446.4H161ZM587.3 128H589.7V1088.2H587.3ZM161 461.6H1388.1V463.5H161ZM625.3 128H627.8V1088.2H625.3ZM161 491.3H1388.1V493.3H161ZM677.6 128H679.6V1088.2H677.6ZM161 532.2H1388.1V533.8H161ZM827.8 128H828.8V1088.2H827.8ZM161 649.8H1388.1V650.5H161ZM873.9 128H878.8V1088.2H873.9ZM161 685.9H1388.1V689.7H161ZM1300.2 128H1307.6V1088.2H1300.2ZM161 1019.4H1388.1V1025.2H161Z"/>
<path fill="#FDBB55" fill-opacity="0.06" d="M212.3 128H213.8V1088.2H212.3ZM161 168.1H1388.1V169.3H161ZM219.7 128H227V1088.2H219.7ZM161 173.9H1388.1V179.7H161ZM235.4 128H236.3V1088.2H235.4ZM161 186.2H1388.1V187H161ZM251.1 128H253V1088.2H251.1ZM161 198.5H1388.1V200H161ZM342.4 128H343.3V1088.2H342.4ZM161 269.9H1388.1V270.7H161ZM367.4 128H369.8V1088.2H367.4ZM161 289.5H1388.1V291.4H161ZM551.7 128H552.7V1088.2H551.7ZM161 433.7H1388.1V434.5H161ZM567.9 128H571.6V1088.2H567.9ZM161 446.4H1388.1V449.3H161ZM600.5 128H604.2V1088.2H600.5ZM161 471.9H1388.1V474.8H161ZM720.8 128H723.2V1088.2H720.8ZM161 566H1388.1V568H161ZM787.8 128H788.8V1088.2H787.8ZM161 618.5H1388.1V619.2H161ZM828.8 128H830.7V1088.2H828.8ZM161 650.5H1388.1V652.1H161ZM879.8 128H883.5V1088.2H879.8ZM161 690.5H1388.1V693.4H161ZM903.4 128H910.7V1088.2H903.4ZM161 708.9H1388.1V714.7H161ZM958.6 128H960.6V1088.2H958.6ZM161 752.1H1388.1V753.7H161ZM985.8 128H987.8V1088.2H985.8ZM161 773.4H1388.1V775H161ZM987.8 128H989.3V1088.2H987.8ZM161 775H1388.1V776.1H161ZM998.8 128H1001.3V1088.2H998.8ZM161 783.6H1388.1V785.5H161ZM1137.7 128H1141.4V1088.2H1137.7ZM161 892.3H1388.1V895.2H161ZM1170.6 128H1178V1088.2H1170.6ZM161 918.1H1388.1V923.8H161ZM1222.4 128H1224.9V1088.2H1222.4ZM161 958.6H1388.1V960.5H161ZM1224.9 128H1226.8V1088.2H1224.9ZM161 960.5H1388.1V962H161ZM1259.7 128H1264.6V1088.2H1259.7ZM161 987.8H1388.1V991.6H161ZM1318.1 128H1321.8V1088.2H1318.1ZM161 1033.5H1388.1V1036.3H161ZM1323.3 128H1327V1088.2H1323.3ZM161 1037.5H1388.1V1040.4H161ZM1352 128H1353.9V1088.2H1352ZM161 1060H1388.1V1061.5H161Z"/>
<path fill="#FDBB55" fill-opacity="0.04" d="M227 128H234.4V1088.2H227ZM161 179.7H1388.1V185.4H161ZM276.1 128H277.6V1088.2H276.1ZM161 218.1H1388.1V219.2H161ZM279 128H280.5V1088.2H279ZM161 220.4H1388.1V221.5H161ZM325.4 128H326.4V1088.2H325.4ZM161 256.7H1388.1V257.4H161ZM434.4 128H436.4V1088.2H434.4ZM161 341.9H1388.1V343.5H161ZM441.3 128H443.7V1088.2H441.3ZM161 347.3H1388.1V349.2H161ZM443.7 128H445.2V1088.2H443.7ZM161 349.2H1388.1V350.4H161ZM445.2 128H450.1V1088.2H445.2ZM161 350.4H1388.1V354.2H161ZM450.1 128H451.1V1088.2H450.1ZM161 354.2H1388.1V355H161ZM640 128H642V1088.2H640ZM161 502.9H1388.1V504.4H161ZM853.3 128H858.2V1088.2H853.3ZM161 669.7H1388.1V673.6H161ZM917.6 128H921.3V1088.2H917.6ZM161 720.1H1388.1V722.9H161ZM974 128H977.7V1088.2H974ZM161 764.2H1388.1V767.1H161ZM1206.7 128H1211.6V1088.2H1206.7ZM161 946.3H1388.1V950.1H161Z"/>
<path fill="#FFFFC8" fill-opacity="0.14" d="M244.7 128H246.2V1088.2H244.7ZM161 193.5H1388.1V194.6H161ZM268.7 128H271.2V1088.2H268.7ZM161 212.3H1388.1V214.2H161ZM299.9 128H303.6V1088.2H299.9ZM161 236.7H1388.1V239.6H161ZM337 128H338.4V1088.2H337ZM161 265.7H1388.1V266.8H161ZM347 128H348.5V1088.2H347ZM161 273.6H1388.1V274.7H161ZM399.8 128H400.8V1088.2H399.8ZM161 314.9H1388.1V315.6H161ZM423.3 128H427V1088.2H423.3ZM161 333.3H1388.1V336.2H161ZM467.8 128H470.2V1088.2H467.8ZM161 368.1H1388.1V370H161ZM496.5 128H503.8V1088.2H496.5ZM161 390.5H1388.1V396.3H161ZM562.2 128H564.2V1088.2H562.2ZM161 442H1388.1V443.5H161ZM571.6 128H572.6V1088.2H571.6ZM161 449.3H1388.1V450.1H161ZM604.2 128H609.1V1088.2H604.2ZM161 474.8H1388.1V478.7H161ZM620.9 128H623.4V1088.2H620.9ZM161 487.9H1388.1V489.8H161ZM627.8 128H629.2V1088.2H627.8ZM161 493.3H1388.1V494.4H161ZM718.3 128H720.8V1088.2H718.3ZM161 564.1H1388.1V566H161ZM730.1 128H731.6V1088.2H730.1ZM161 573.3H1388.1V574.5H161ZM771.1 128H778.5V1088.2H771.1ZM161 605.4H1388.1V611.2H161ZM780.9 128H782.9V1088.2H780.9ZM161 613.1H1388.1V614.6H161ZM790.2 128H793.9V1088.2H790.2ZM161 620.4H1388.1V623.3H161ZM797.6 128H802.5V1088.2H797.6ZM161 626.2H1388.1V630H161ZM808.6 128H813.6V1088.2H808.6ZM161 634.8H1388.1V638.6H161ZM821.6 128H822.6V1088.2H821.6ZM161 645H1388.1V645.7H161ZM822.6 128H824.1V1088.2H822.6ZM161 645.7H1388.1V646.9H161ZM841.3 128H845V1088.2H841.3ZM161 660.3H1388.1V663.2H161ZM878.8 128H879.8V1088.2H878.8ZM161 689.7H1388.1V690.5H161ZM892.3 128H894.8V1088.2H892.3ZM161 700.3H1388.1V702.2H161ZM941.9 128H944.4V1088.2H941.9ZM161 739.1H1388.1V741H161ZM946.3 128H953.7V1088.2H946.3ZM161 742.5H1388.1V748.3H161ZM1020.9 128H1024.6V1088.2H1020.9ZM161 800.9H1388.1V803.8H161ZM1052.8 128H1055.3V1088.2H1052.8ZM161 825.9H1388.1V827.8H161ZM1074.7 128H1079.6V1088.2H1074.7ZM161 843H1388.1V846.8H161ZM1101.2 128H1103.1V1088.2H1101.2ZM161 863.7H1388.1V865.2H161ZM1125.2 128H1130.1V1088.2H1125.2ZM161 882.5H1388.1V886.4H161ZM1155.7 128H1158.1V1088.2H1155.7ZM161 906.3H1388.1V908.3H161ZM1185.3 128H1192.7V1088.2H1185.3ZM161 929.6H1388.1V935.3H161ZM1205.7 128H1206.7V1088.2H1205.7ZM161 945.5H1388.1V946.3H161ZM1290.4 128H1291.9V1088.2H1290.4ZM161 1011.8H1388.1V1012.9H161ZM1327 128H1334.3V1088.2H1327ZM161 1040.4H1388.1V1046.1H161ZM1362.3 128H1363.8V1088.2H1362.3ZM161 1068H1388.1V1069.2H161ZM1373.6 128H1380.9V1088.2H1373.6ZM161 1076.9H1388.1V1082.6H161Z"/>
<path fill="#FDC866" fill-opacity="0.04" d="M262.8 128H263.8V1088.2H262.8ZM161 207.7H1388.1V208.5H161ZM296.2 128H299.9V1088.2H296.2ZM161 233.8H1388.1V236.7H161ZM341.4 128H342.4V1088.2H341.4ZM161 269.1H1388.1V269.9H161ZM379.7 128H381.6V1088.2H379.7ZM161 299.1H1388.1V300.6H161ZM703.4 128H707V1088.2H703.4ZM161 552.4H1388.1V555.3H161ZM894.8 128H899.7V1088.2H894.8ZM161 702.2H1388.1V706H161ZM928.9 128H929.9V1088.2H928.9ZM161 728.9H1388.1V729.7H161ZM1273.7 128H1275.7V1088.2H1273.7ZM161 998.7H1388.1V1000.2H161ZM1281.6 128H1283V1088.2H1281.6ZM161 1004.9H1388.1V1006H161ZM1321.8 128H1323.3V1088.2H1321.8ZM161 1036.3H1388.1V1037.5H161Z"/>
<path fill="#FDBB55" fill-opacity="0.08" d="M371.3 128H372.3V1088.2H371.3ZM161 292.6H1388.1V293.3H161ZM413 128H420.4V1088.2H413ZM161 325.2H1388.1V331H161ZM525.4 128H526.9V1088.2H525.4ZM161 413.2H1388.1V414.3H161ZM572.6 128H579.9V1088.2H572.6ZM161 450.1H1388.1V455.8H161ZM594.4 128H596.9V1088.2H594.4ZM161 467.1H1388.1V469.1H161ZM609.1 128H616.5V1088.2H609.1ZM161 478.7H1388.1V484.4H161ZM645.7 128H649.4V1088.2H645.7ZM161 507.3H1388.1V510.2H161ZM688.1 128H690.1V1088.2H688.1ZM161 540.5H1388.1V542H161ZM708.5 128H715.9V1088.2H708.5ZM161 556.4H1388.1V562.2H161ZM726.7 128H728.1V1088.2H726.7ZM161 570.7H1388.1V571.8H161ZM813.6 128H815.5V1088.2H813.6ZM161 638.6H1388.1V640.2H161ZM830.7 128H834.4V1088.2H830.7ZM161 652.1H1388.1V655H161ZM1042.5 128H1045V1088.2H1042.5ZM161 817.8H1388.1V819.7H161ZM1045 128H1046V1088.2H1045ZM161 819.7H1388.1V820.5H161ZM1064.6 128H1067.1V1088.2H1064.6ZM161 835.1H1388.1V837H161ZM1086.9 128H1091.8V1088.2H1086.9ZM161 852.6H1388.1V856.4H161ZM1131.6 128H1134.1V1088.2H1131.6ZM161 887.5H1388.1V889.4H161ZM1250.9 128H1255.8V1088.2H1250.9ZM161 980.8H1388.1V984.7H161ZM1270.3 128H1271.2V1088.2H1270.3ZM161 996H1388.1V996.8H161ZM1334.3 128H1341.7V1088.2H1334.3ZM161 1046.1H1388.1V1051.9H161ZM1360.3 128H1362.3V1088.2H1360.3ZM161 1066.5H1388.1V1068H161Z"/>
<path fill="#FDC866" fill-opacity="0.08" d="M389 128H396.4V1088.2H389ZM161 306.4H1388.1V312.2H161ZM451.1 128H458.4V1088.2H451.1ZM161 355H1388.1V360.8H161ZM642 128H645.7V1088.2H642ZM161 504.4H1388.1V507.3H161ZM650.8 128H653.3V1088.2H650.8ZM161 511.3H1388.1V513.2H161ZM806.2 128H807.7V1088.2H806.2ZM161 632.9H1388.1V634H161ZM977.7 128H981.4V1088.2H977.7ZM161 767.1H1388.1V770H161ZM989.3 128H990.2V1088.2H989.3ZM161 776.1H1388.1V776.9H161ZM1005.2 128H1006.2V1088.2H1005.2ZM161 788.6H1388.1V789.4H161ZM1079.6 128H1086.9V1088.2H1079.6ZM161 846.8H1388.1V852.6H161ZM1099.2 128H1101.2V1088.2H1099.2ZM161 862.2H1388.1V863.7H161ZM1178 128H1185.3V1088.2H1178ZM161 923.8H1388.1V929.6H161ZM1220 128H1222.4V1088.2H1220ZM161 956.7H1388.1V958.6H161ZM1233.7 128H1238.6V1088.2H1233.7ZM161 967.4H1388.1V971.2H161ZM1246 128H1250.9V1088.2H1246ZM161 977H1388.1V980.8H161ZM1258.2 128H1259.7V1088.2H1258.2ZM161 986.6H1388.1V987.8H161ZM1268.3 128H1270.3V1088.2H1268.3ZM161 994.5H1388.1V996H161ZM1309.5 128H1313.2V1088.2H1309.5ZM161 1026.7H1388.1V1029.6H161ZM1350.5 128H1352V1088.2H1350.5ZM161 1058.8H1388.1V1060H161ZM1382.4 128H1387.3V1088.2H1382.4ZM161 1083.8H1388.1V1087.6H161Z"/>
<path fill="#FEC95B" d="M1209.99 916.85H1219.49V931.07H1209.99ZM1169.13 948.82H1187.22V956.32H1169.13Z"/>
<path fill="#FEC458" d="M847.39 431.08H884.62V432.53H847.39ZM1186.92 431.08H1197.65V432.53H1186.92ZM847.39 432.23H884.62V443H847.39ZM1186.92 432.23H1197.65V443H1186.92ZM847.39 442.7H884.62V459.23H847.39ZM1186.92 442.7H1197.65V459.23H1186.92ZM847.39 458.93H884.62V478.91H847.39ZM1186.92 458.93H1197.65V478.91H1186.92ZM548.36 665.08H609.4V694.28H548.36ZM1073.41 738.54H1077.64V746.71H1073.41ZM941.26 841.95H951.62V845.32H941.26ZM548.36 930.77H609.4V933.76H548.36ZM548.36 933.46H609.4V936.25H548.36ZM548.36 935.95H609.4V939.23H548.36Z"/>
<path fill="#FEBF56" d="M441.36 340.25H443.37V347.65H441.36ZM609.1 340.25H678.6V347.65H609.1ZM698.18 340.25H704.37V347.65H698.18ZM432.28 347.35H441.66V349H432.28ZM681 431.08H713.7V432.53H681ZM698.18 432.23H704.37V443H698.18ZM698.18 442.7H704.37V459.23H698.18ZM811.44 442.7H843.89V459.23H811.44ZM698.18 458.93H704.37V478.91H698.18ZM432.28 478.61H441.66V533.07H432.28ZM706.52 478.61H713.7V533.07H706.52ZM681 532.77H713.7V535.18H681ZM548.36 534.88H550.13V542.28H548.36ZM678.3 534.88H681.3V542.28H678.3ZM548.36 541.98H550.13V548.62H548.36ZM678.3 541.98H681.3V548.62H678.3ZM432.28 548.32H441.66V553.23H432.28ZM548.36 548.32H609.4V553.23H548.36ZM678.3 548.32H681.3V553.23H678.3ZM698.18 548.32H706.82V553.23H698.18ZM548.36 552.93H550.13V555.15H548.36ZM678.3 552.93H681.3V555.15H678.3ZM698.18 552.93H704.37V555.15H698.18ZM548.36 554.85H550.13V560.53H548.36ZM609.1 554.85H681.3V560.53H609.1ZM891.32 554.85H914.69V560.53H891.32ZM1186.92 599.21H1193.84V637.25H1186.92ZM563.2 636.95H584.24V662.41H563.2ZM1024.21 636.95H1026.47V662.41H1024.21ZM1169.13 662.11H1187.22V665.38H1169.13ZM1141.27 665.08H1146.6V694.28H1141.27ZM706.52 699.46H713.7V703.69H706.52ZM706.52 703.39H713.7V717.81H706.52ZM811.44 803.45H843.89V805.28H811.44ZM1112.93 872.87H1117.28V876.34H1112.93ZM847.39 895.05H884.62V899.29H847.39ZM843.59 916.85H847.69V931.07H843.59ZM763.21 930.77H811.74V933.76H763.21ZM1190.35 930.77H1197.65V933.76H1190.35ZM763.21 933.46H811.74V936.25H763.21ZM1186.92 933.46H1190.65V936.25H1186.92ZM1186.92 935.95H1190.65V939.23H1186.92ZM1255.02 981.76H1274.34V984.36H1255.02ZM1252.07 984.06H1255.32V999.24H1252.07ZM1385.58 984.06H1388.06V999.24H1385.58ZM1385.58 998.94H1388.06V1003.56H1385.58ZM1385.58 1003.26H1388.06V1014.89H1385.58ZM1385.58 1014.59H1388.06V1021.14H1385.58ZM1385.58 1020.84H1388.06V1044.66H1385.58ZM1255.02 1086.23H1332.38V1088.2H1255.02Z"/>
<path fill="#FEBA53" d="M1157.22 431.08H1165.5V432.53H1157.22ZM609.1 432.23H678.6V443H609.1ZM1157.22 432.23H1165.5V443H1157.22ZM609.1 442.7H678.6V459.23H609.1ZM1157.22 442.7H1165.5V459.23H1157.22ZM1157.22 458.93H1165.5V478.91H1157.22ZM549.83 478.61H584.24V533.07H549.83ZM1116.98 534.88H1141.57V542.28H1116.98ZM1116.98 541.98H1141.57V548.62H1116.98ZM811.44 548.32H843.89V553.23H811.44ZM1116.98 548.32H1141.57V553.23H1116.98ZM811.44 552.93H843.89V555.15H811.44ZM698.18 636.95H706.82V662.41H698.18ZM681 876.04H704.37V895.35H681ZM548.36 907.53H609.4V914.07H548.36ZM1332.08 984.06H1360.36V999.24H1332.08ZM1255.02 1044.36H1274.34V1066.55H1255.02Z"/>
<path fill="#FEB04E" d="M1014.15 264.39H1026.47V334.3H1014.15ZM1014.15 334H1026.47V340.55H1014.15ZM563.2 340.25H584.24V347.65H563.2ZM1006.29 361.56H1014.45V431.38H1006.29ZM432.28 442.7H441.66V459.23H432.28ZM609.1 458.93H678.6V478.91H609.1ZM811.44 458.93H843.89V478.91H811.44ZM583.94 478.61H609.4V533.07H583.94ZM698.18 478.61H704.37V533.07H698.18ZM609.1 548.32H678.6V553.23H609.1ZM583.94 636.95H609.4V662.41H583.94ZM1186.92 665.08H1190.65V694.28H1186.92ZM459.52 789.43H548.66V795.87H459.52ZM335.34 795.57H432.58V798.37H335.34ZM335.34 798.07H432.58V803.75H335.34ZM335.34 803.45H432.58V805.28H335.34ZM1116.98 872.87H1141.57V876.34H1116.98ZM1112.93 876.04H1117.28V895.35H1112.93ZM847.39 930.77H884.62V933.76H847.39Z"/>
<path fill="#FDAB4B" d="M432.28 264.39H441.66V334.3H432.28ZM432.28 334H441.66V340.55H432.28ZM335.34 340.25H432.58V347.65H335.34ZM811.44 340.25H843.89V347.65H811.44ZM432.28 636.95H441.66V662.41H432.28ZM1197.35 836.86H1210.29V839.47H1197.35ZM1066.91 938.93H1070.16V949.12H1066.91Z"/>
<path fill="#FDA649" d="M843.59 128H847.69V133.53H843.59ZM843.59 133.23H847.69V255.38H843.59ZM1209.99 255.08H1219.49V258.45H1209.99ZM1209.99 258.15H1219.49V264.69H1209.99ZM690.08 478.61H698.48V533.07H690.08ZM609.1 541.98H678.6V548.62H609.1ZM884.32 548.32H891.62V553.23H884.32ZM161 662.11H323.74V665.38H161ZM698.18 693.98H704.37V699.76H698.18ZM1116.98 693.98H1141.57V699.76H1116.98ZM941.26 730.76H951.62V738.84H941.26ZM931.32 738.54H941.56V746.71H931.32ZM884.32 876.04H891.62V895.35H884.32ZM1186.92 930.77H1190.65V933.76H1186.92ZM323.44 948.82H335.64V956.32H323.44ZM1274.04 963.22H1279.86V982.06H1274.04ZM1228.39 998.94H1252.37V1003.56H1228.39Z"/>
<path fill="#FDA146" d="M583.94 340.25H609.4V347.65H583.94ZM563.2 432.23H584.24V443H563.2ZM549.83 442.7H563.5V459.23H549.83ZM432.28 458.93H441.66V478.91H432.28ZM704.07 478.61H706.82V533.07H704.07ZM609.1 552.93H678.6V555.15H609.1Z"/>
<path fill="#FD9C44" d="M443.07 334H453.93V340.55H443.07ZM456.2 334H459.82V340.55H456.2ZM424.3 348.7H432.58V357.25H424.3ZM424.3 358.97H432.58V361.86H424.3ZM1141.27 431.08H1146.6V432.53H1141.27ZM1141.27 432.23H1146.6V443H1141.27ZM1141.27 442.7H1146.6V459.23H1141.27ZM1141.27 458.93H1146.6V478.91H1141.27ZM681 478.61H690.38V533.07H681ZM609.1 534.88H678.6V542.28H609.1ZM884.32 665.08H891.62V694.28H884.32ZM847.39 693.98H884.62V699.76H847.39ZM969.36 746.41H977.39V760.83H969.36ZM951.32 760.53H969.66V766.88H951.32ZM548.36 895.05H609.4V899.29H548.36ZM1279.56 963.22H1302.32V982.06H1279.56ZM1228.39 1003.26H1252.37V1014.89H1228.39ZM1228.39 1014.59H1252.37V1021.14H1228.39Z"/>
<path fill="#FD923F" d="M443.07 264.39H453.93V334.3H443.07ZM335.34 348.7H424.6V357.25H335.34Z"/>
<path fill="#FD8D3C" d="M323.44 128H327.66V133.53H323.44ZM323.44 133.23H327.66V255.38H323.44ZM161 255.08H323.74V258.45H161ZM456.2 264.39H459.82V334.3H456.2ZM441.36 334H443.37V340.55H441.36ZM424.3 347.35H432.58V349H424.3ZM443.07 347.35H459.82V349H443.07ZM441.36 348.7H443.37V357.25H441.36ZM453.63 348.7H459.82V357.25H453.63ZM441.36 356.95H453.93V359.27H441.36ZM456.2 356.95H459.82V359.27H456.2ZM335.34 358.97H424.6V361.86H335.34ZM441.36 358.97H456.5V361.86H441.36ZM811.44 431.08H843.89V432.53H811.44ZM583.94 432.23H609.4V443H583.94ZM811.44 432.23H843.89V443H811.44ZM549.83 458.93H563.5V478.91H549.83ZM704.07 552.93H706.82V555.15H704.07ZM548.36 636.95H563.5V662.41H548.36ZM1209.99 662.11H1219.49V665.38H1209.99ZM884.32 693.98H891.62V699.76H884.32ZM1186.92 693.98H1190.65V699.76H1186.92ZM969.36 760.53H977.39V766.88H969.36ZM1037.71 804.98H1048.44V806.15H1037.71ZM1026.17 814.01H1027.58V818.63H1026.17ZM1043.23 814.01H1048.44V818.63H1043.23ZM1026.17 818.33H1027.58V822.47H1026.17ZM1037.71 818.33H1043.53V822.47H1037.71ZM1165.2 818.33H1169.43V822.47H1165.2ZM1165.2 822.17H1169.43V829.58H1165.2ZM1146.3 895.05H1157.52V899.29H1146.3ZM1141.27 898.99H1146.6V907.83H1141.27ZM1043.23 913.77H1057.52V917.15H1043.23ZM1165.2 913.77H1187.22V917.15H1165.2ZM1165.2 916.85H1169.43V931.07H1165.2ZM884.32 930.77H891.62V933.76H884.32ZM843.59 948.82H847.69V956.32H843.59Z"/>
<path fill="#FC863A" d="M1360.06 1044.36H1385.88V1066.55H1360.06ZM1332.08 1066.25H1360.36V1086.53H1332.08Z"/>
<path fill="#FA7935" d="M843.59 255.08H847.69V258.45H843.59ZM843.59 258.15H847.69V264.69H843.59ZM453.63 264.39H456.5V334.3H453.63ZM443.07 348.7H453.93V357.25H443.07ZM335.34 356.95H424.6V359.27H335.34ZM323.44 662.11H335.64V665.38H323.44ZM1043.23 805.85H1048.44V814.31H1043.23ZM1027.28 818.33H1038.01V822.47H1027.28ZM1157.22 895.05H1165.5V899.29H1157.22ZM1141.27 907.53H1146.6V914.07H1141.27ZM1193.54 933.46H1197.65V936.25H1193.54ZM1190.35 935.95H1193.84V939.23H1190.35ZM1279.56 984.06H1302.32V999.24H1279.56ZM1255.02 1003.26H1274.34V1014.89H1255.02ZM1255.02 1014.59H1274.34V1021.14H1255.02Z"/>
<path fill="#F86C31" d="M323.44 255.08H327.66V258.45H323.44ZM548.36 340.25H563.5V347.65H548.36ZM441.36 347.35H443.37V349H441.36ZM456.2 358.97H459.82V361.86H456.2ZM432.28 431.08H441.66V432.53H432.28ZM549.83 431.08H681.3V432.53H549.83ZM432.28 432.23H441.66V443H432.28ZM548.36 432.23H550.13V443H548.36ZM548.36 442.7H550.13V459.23H548.36ZM548.36 458.93H550.13V478.91H548.36ZM548.36 478.61H550.13V533.07H548.36ZM548.36 532.77H550.13V535.18H548.36ZM1112.93 534.88H1117.28V542.28H1112.93ZM1112.93 541.98H1117.28V548.62H1112.93ZM1112.93 548.32H1117.28V553.23H1112.93ZM681 872.87H704.37V876.34H681ZM1141.27 895.05H1146.6V899.29H1141.27ZM1274.04 984.06H1279.86V999.24H1274.04ZM1255.02 998.94H1274.34V1003.56H1255.02ZM1279.56 998.94H1294.34V1003.56H1279.56ZM1274.04 1003.26H1279.86V1014.89H1274.04ZM1385.58 1044.36H1388.06V1066.55H1385.58ZM1385.58 1066.25H1388.06V1086.53H1385.58ZM1332.08 1086.23H1385.88V1088.2H1332.08Z"/>
<path fill="#F7662F" d="M441.36 264.39H443.37V334.3H441.36ZM335.34 347.35H424.6V349H335.34Z"/>
<path fill="#F65F2C" d="M678.3 478.61H681.3V533.07H678.3ZM609.1 532.77H678.6V535.18H609.1ZM1294.04 998.94H1302.32V1003.56H1294.04ZM1274.04 1014.59H1279.86V1021.14H1274.04Z"/>
<path fill="#F34B26" d="M327.36 128H335.64V133.53H327.36ZM327.36 255.08H335.64V258.45H327.36ZM161 258.15H168.02V264.69H161ZM323.44 258.15H327.66V264.69H323.44ZM1294.04 1003.26H1302.32V1014.89H1294.04ZM1279.56 1014.59H1294.34V1021.14H1279.56ZM1385.58 1086.23H1388.06V1088.2H1385.58Z"/>
<path fill="#F24523" d="M1157.22 898.99H1165.5V907.83H1157.22ZM1146.3 907.53H1157.52V914.07H1146.3Z"/>
<path fill="#ED3920" d="M327.36 133.23H335.64V255.38H327.36ZM167.72 258.15H323.74V264.69H167.72ZM1252.07 963.22H1255.32V982.06H1252.07ZM1228.39 981.76H1252.37V984.36H1228.39Z"/>
<path fill="#E83421" d="M424.3 264.39H432.58V334.3H424.3ZM335.34 334H424.6V340.55H335.34Z"/>
<path fill="#E32F21" d="M327.36 258.15H335.64V264.69H327.36ZM453.63 334H456.5V340.55H453.63ZM424.3 356.95H432.58V359.27H424.3ZM548.36 431.08H550.13V432.53H548.36ZM583.94 442.7H609.4V459.23H583.94ZM563.2 458.93H584.24V478.91H563.2ZM678.3 532.77H681.3V535.18H678.3ZM896.35 699.46H914.69V703.69H896.35ZM891.32 703.39H896.65V717.81H891.32ZM1252.07 981.76H1255.32V984.36H1252.07Z"/>
<path fill="#D92622" d="M690.08 534.88H698.48V542.28H690.08ZM681 541.98H690.38V548.62H681ZM1093.05 857.31H1097.4V860.78H1093.05Z"/>
<path fill="#CA1824" d="M453.63 356.95H456.5V359.27H453.63Z"/>
<path fill="#C51324" d="M161 128H323.74V133.53H161ZM161 133.23H168.02V255.38H161Z"/>
<path fill="#B10026" d="M167.72 133.23H323.74V255.38H167.72ZM335.34 264.39H424.6V334.3H335.34ZM424.3 334H432.58V340.55H424.3ZM432.28 340.25H441.66V347.65H432.28ZM459.52 361.56H548.66V431.38H459.52ZM549.83 432.23H563.5V443H549.83ZM563.2 442.7H584.24V459.23H563.2ZM583.94 458.93H609.4V478.91H583.94ZM609.1 478.61H678.6V533.07H609.1ZM681 534.88H690.38V542.28H681ZM690.08 541.98H698.48V548.62H690.08ZM706.52 554.85H713.7V560.53H706.52ZM713.4 560.23H763.51V599.51H713.4ZM763.21 599.21H811.74V637.25H763.21ZM811.44 636.95H843.89V662.41H811.44ZM847.39 665.08H884.62V694.28H847.39ZM891.32 699.46H896.65V703.69H891.32ZM896.35 703.39H914.69V717.81H896.35ZM914.39 717.51H931.62V731.06H914.39ZM931.32 730.76H941.56V738.84H931.32ZM941.26 738.54H951.62V746.71H941.26ZM951.32 746.41H969.66V760.83H951.32ZM977.09 766.58H991.75V778.11H977.09ZM991.45 777.81H1006.59V789.73H991.45ZM1006.29 789.43H1014.45V795.87H1006.29ZM1017.34 798.07H1024.51V803.75H1017.34ZM1027.28 805.85H1038.01V814.31H1027.28ZM1037.71 814.01H1043.53V818.63H1037.71ZM1043.23 818.33H1048.44V822.47H1043.23ZM1048.14 822.17H1057.52V829.58H1048.14ZM1057.22 829.28H1067.21V837.16H1057.22ZM1073.41 841.95H1077.64V845.32H1073.41ZM1080.53 847.52H1084.39V850.6H1080.53ZM1087.03 852.61H1090.03V855.02H1087.03ZM1089.73 854.72H1093.35V857.61H1089.73ZM1097.1 860.48H1100.46V863.18H1097.1ZM1116.98 876.04H1141.57V895.35H1116.98ZM1146.3 898.99H1157.52V907.83H1146.3ZM1157.22 907.53H1165.5V914.07H1157.22ZM1169.13 916.85H1187.22V931.07H1169.13ZM1190.35 933.46H1193.84V936.25H1190.35ZM1193.54 935.95H1197.65V939.23H1193.54ZM1197.35 938.93H1210.29V949.12H1197.35ZM1209.99 948.82H1219.49V956.32H1209.99ZM1219.19 956.02H1228.69V963.52H1219.19ZM1228.39 963.22H1252.37V982.06H1228.39ZM1255.02 984.06H1274.34V999.24H1255.02ZM1274.04 998.94H1279.86V1003.56H1274.04ZM1279.56 1003.26H1294.34V1014.89H1279.56ZM1294.04 1014.59H1302.32V1021.14H1294.04ZM1302.02 1020.84H1332.38V1044.66H1302.02ZM1332.08 1044.36H1360.36V1066.55H1332.08ZM1360.06 1066.25H1385.88V1086.53H1360.06Z"/>
<path fill="#B10026" d="M323.6 255.2H325.4V256.7H323.6ZM325.4 256.7H327.5V258.3H325.4ZM327.5 258.3H330.9V261H327.5ZM330.9 261H334V263.4H330.9ZM334 263.4H335.5V264.5H334ZM443.2 348.8H445.4V350.6H443.2ZM445.4 350.6H447.3V352H445.4ZM447.3 352H453.8V357.1H447.3ZM453.8 357.1H456.4V359.1H453.8ZM456.4 359.1H458.2V360.6H456.4ZM458.2 360.6H459.7V361.7H458.2ZM441.5 347.5H443.2V348.8H441.5ZM548.5 431.2H550V432.4H548.5ZM550 432.4H558.6V439.1H550ZM561.3 441.2H563.4V442.8H561.3ZM678.5 532.9H681.2V535H678.5ZM698.3 548.5H700.3V550H698.3ZM704.2 553.1H705.4V554H704.2ZM705.4 554H706.7V555H705.4ZM707.7 555.8H713.5V560.4H707.7ZM706.7 555H707.7V555.8H706.7ZM844.8 663.1H847.5V665.2H844.8ZM843.7 662.3H844.8V663.1H843.7ZM884.5 694.1H886.8V696H884.5ZM886.8 696H888.6V697.4H886.8ZM888.6 697.4H891.5V699.6H888.6ZM969.5 760.7H971.5V762.2H969.5ZM971.5 762.2H977.2V766.7H971.5ZM1014.3 795.7H1015.8V796.9H1014.3ZM1015.8 796.9H1017.5V798.2H1015.8ZM1024.4 803.6H1025.8V804.7H1024.4ZM1025.8 804.7H1027.4V806H1025.8ZM1113.1 873H1114.4V874.1H1113.1ZM1114.4 874.1H1115.7V875H1114.4ZM1115.7 875H1117.1V876.2H1115.7ZM1141.4 895.2H1142.6V896.2H1141.4ZM1142.6 896.2H1146.5V899.1H1142.6ZM1158 908.2H1163.5V912.5H1158ZM1163.5 912.5H1165.3V913.9H1163.5ZM1165.3 913.9H1166.9V915.2H1165.3ZM1166.9 915.2H1169.3V917H1166.9ZM1187.1 930.9H1188.3V931.9H1187.1ZM1188.3 931.9H1190.5V933.6H1188.3ZM1252.2 981.9H1253.7V983.1H1252.2ZM1253.7 983.1H1255.2V984.2H1253.7ZM1274.2 999.1H1275.8V1000.3H1274.2ZM1275.8 1000.3H1277.6V1001.8H1275.8ZM1294.8 1015.2H1300.3V1019.5H1294.8ZM1300.3 1019.5H1302.2V1021H1300.3ZM1385.7 1086.4H1386.8V1087.2H1385.7ZM1386.8 1087.2H1388.1V1088.2H1386.8Z"/>
<path fill="#CA1824" d="M558.6 439.1H561.3V441.2H558.6ZM1277.6 1001.8H1279.7V1003.4H1277.6Z"/>
<path fill="#F86C31" d="M700.3 550H702.1V551.4H700.3Z"/>
<path fill="#F34B26" d="M702.1 551.4H704.2V553.1H702.1Z"/>
<line x1="1067.1" y1="837" x2="1073.6" y2="842.1" stroke="#B10026" stroke-width="1.6"/>
<line x1="1077.5" y1="845.2" x2="1080.7" y2="847.7" stroke="#B10026" stroke-width="1.6"/>
<line x1="1084.2" y1="850.5" x2="1087.2" y2="852.8" stroke="#B10026" stroke-width="1.6"/>
<line x1="1100.3" y1="863" x2="1113.1" y2="873" stroke="#B10026" stroke-width="1.6"/>
<path fill="#B10026" d="M167.9 133.4H323.6V255.2H167.9ZM335.5 264.5H424.4V334.2H335.5ZM424.4 334.2H432.4V340.4H424.4ZM432.4 340.4H441.5V347.5H432.4ZM459.7 361.7H548.5V431.2H459.7ZM550 432.4H563.4V442.8H550ZM563.4 442.8H584.1V459.1H563.4ZM584.1 459.1H609.2V478.8H584.1ZM609.2 478.8H678.5V532.9H609.2ZM681.2 535H690.2V542.1H681.2ZM690.2 542.1H698.3V548.5H690.2ZM706.7 555H713.5V560.4H706.7ZM713.5 560.4H763.4V599.4H713.5ZM763.4 599.4H811.6V637.1H763.4ZM811.6 637.1H843.7V662.3H811.6ZM847.5 665.2H884.5V694.1H847.5ZM891.5 699.6H896.5V703.5H891.5ZM896.5 703.5H914.5V717.7H896.5ZM914.5 717.7H931.5V730.9H914.5ZM931.5 730.9H941.4V738.7H931.5ZM941.4 738.7H951.5V746.6H941.4ZM951.5 746.6H969.5V760.7H951.5ZM977.2 766.7H991.6V778H977.2ZM991.6 778H1006.4V789.6H991.6ZM1006.4 789.6H1014.3V795.7H1006.4ZM1017.5 798.2H1024.4V803.6H1017.5ZM1027.4 806H1037.9V814.2H1027.4ZM1037.9 814.2H1043.4V818.5H1037.9ZM1043.4 818.5H1048.3V822.3H1043.4ZM1048.3 822.3H1057.4V829.4H1048.3ZM1057.4 829.4H1067.1V837H1057.4ZM1073.6 842.1H1077.5V845.2H1073.6ZM1080.7 847.7H1084.2V850.5H1080.7ZM1087.2 852.8H1089.9V854.9H1087.2ZM1089.9 854.9H1093.2V857.5H1089.9ZM1097.2 860.6H1100.3V863H1097.2ZM1117.1 876.2H1141.4V895.2H1117.1ZM1146.5 899.1H1157.4V907.7H1146.5ZM1157.4 907.7H1165.3V913.9H1157.4ZM1169.3 917H1187.1V930.9H1169.3ZM1190.5 933.6H1193.7V936.1H1190.5ZM1193.7 936.1H1197.5V939.1H1193.7ZM1197.5 939.1H1210.1V949H1197.5ZM1210.1 949H1219.3V956.2H1210.1ZM1219.3 956.2H1228.5V963.4H1219.3ZM1228.5 963.4H1252.2V981.9H1228.5ZM1255.2 984.2H1274.2V999.1H1255.2ZM1274.2 999.1H1279.7V1003.4H1274.2ZM1279.7 1003.4H1294.2V1014.7H1279.7ZM1294.2 1014.7H1302.2V1021H1294.2ZM1302.2 1021H1332.2V1044.5H1302.2ZM1332.2 1044.5H1360.2V1066.4H1332.2ZM1360.2 1066.4H1385.7V1086.4H1360.2Z"/>
<rect x="194.8" y="128" width="1" height="960.2" fill="#fff" fill-opacity=".85"/>
<rect x="801.8" y="128" width="1" height="960.2" fill="#fff" fill-opacity=".85"/>
<rect x="816" y="128" width="1" height="960.2" fill="#fff" fill-opacity=".85"/>
</g>
<path d="M100.6 201.3H1.7V401.3H26M140.8 144.3H100.6V258.6H127.4M151.5 127.5H140.8V160.7H146.7M151.5 130.9H146.7V189.6H148.5M151.5 140H148.5V227H151.5M151.5 254.9H127.4V261.6H140M151.5 258.3H140V263.3H151.5M83.5 338.3H26V464.9H32.2M129.4 328.7H83.5V348H101.9M151.5 320.3H129.4V336.2H151.5M128.7 342.6H101.9V353.3H122.7M151.5 339.6H128.7V345.5H151.5M135 348.8H122.7V357.2H128M151.5 346.5H135V351H151.5M151.5 355H128V359.5H151.5M113.1 373.5H32.2V556.1H46.6M151.5 361.4H113.1V385.4H151.5M85.5 484.2H46.6V627.5H61.2M113.5 439.6H85.5V530.1H93.9M151.5 431.4H113.5V448.2H117.7M140 434.8H117.7V461.1H137.8M151.5 432.5H140V437.5H151.5M151.5 453.2H137.8V469.4H151.5M128.7 514.2H93.9V546.1H112M151.5 494.6H128.7V533.1H151.5M137 539.5H112V551.6H116M151.5 536.5H137V542H151.5M151.5 549H116V554H122.7M151.5 552H122.7V556.5H151.5M120.4 571.7H61.2V683.2H66.2M151.5 559.5H120.4V583.4H147M145.8 623.7H66.2V741.5H70.4M151.5 620H145.8V627.5H151.5M85.5 651.8H70.4V831.1H74.6M146 642.1H85.5V661.9H151.5M151.5 637H146V647H151.5M117.3 686.2H74.6V976.5H80M146 676.8H117.3V695.4H130M151.5 693.5H130V697.5H151.5M85.8 899.7H80V1053.2H80.9M91 812.2H85.8V987.4H91M109.3 727H91V896.8H93.9M134 720.1H109.3V734.3H124M151.5 716.5H134V723H151.5M151.5 731H124V738H151.5M138.6 705.5H95.5V749.3H97.6M151.5 699.1H138.6V710.8H151.5M124 758.6H97.6V784.5H101.9M151.5 756H124V762H151.5M151.5 770H101.9V797.9H103.9M108 787.9H103.9V809.7H107.3M119 797.9H107.3V821.4H110.6M115 810.5H110.6V831.5H114.3M151.5 823.9H114.3V839.9H118.7M151.5 833.7H118.7V846.6H124.4M127 839.9H124.4V852.4H127.4M151.5 847.4H127.4V859.1H130.7M151.5 854.1H130.7V864.2H134.1M151.5 860.8H134.1V867.5H137.4M151.5 865.8H137.4V870.9H151.5M151.5 793H119V802H151.5M122 806H115V814H151.5M151.5 803.5H122V808.5H151.5M151.5 836.5H127V843H151.5M134 785H108V790.5H151.5M151.5 783.5H134V787H151.5M116 880.4H93.9V914.1H98.6M151.5 873.4H116V886.8H146M112 899.4H98.6V929.2H109M151.5 894.7H112V904.1H134.9M151.5 898.5H134.9V909.1H151.5M129.9 917H109V939.6H111.5M151.5 914.1H129.9V919.8H133.6M151.5 915.8H133.6V925.3H151.5M127.4 932.9H111.5V948.8H116.5M151.5 930.5H127.4V935H151.5M122 944.6H116.5V953H118.2M151.5 942H122V947H151.5M151.5 949.7H118.2V957.2H151.5M125.7 977.8H91V996.9H116.2M146 973.1H125.7V981.8H135M149 989.5H116.2V1005H135.9M145 998.5H135.9V1011.5H137.8M143 1005.1H137.8V1017.9H141M145.7 1036H80.9V1069.1H118.2M151.5 1030.4H145.7V1042.2H151.5M148.1 1060.5H118.2V1078.2H124.4M144.2 1070.7H124.4V1086.1H151.5M151.5 1065.7H144.2V1076.2H151.5" fill="none" stroke="#000" stroke-width="1.3" stroke-linejoin="miter"/>
<path d="M151.5 128H149.8V134.8H151.5M151.5 131.5H149.5V133.5H151.5M151.5 141.1H147.9V146.3H151.5M151.5 149.6H148.7V154.4H151.5M151.5 154H148.2V157.9H151.5M151.5 163.5H149.8V170.5H151.5M151.5 171.4H147.8V175.4H151.5M151.5 174.7H148.4V176.4H151.5M151.5 180.6H149.7V184.2H151.5M151.5 188.3H147.7V192.9H151.5M151.5 191.6H147.4V194.8H151.5M151.5 199.1H149V206.1H151.5M151.5 203.8H149.4V210.2H151.5M151.5 213.4H149.3V219.9H151.5M151.5 223.5H149.9V226.9H151.5M151.5 235.2H149.3V237.5H151.5M151.5 244.6H148.6V248.6H151.5M151.5 252H148.5V258.6H151.5M151.5 255H149.2V258.4H151.5M151.5 257.8H147V261.8H151.5M151.5 260.6H146.4V266.1H151.5M151.5 261.8H147.9V265.1H151.5M151.5 263H144.9V269.5H151.5M151.5 264H150V267.2H151.5M151.5 282.7H149.5V287H151.5M151.5 300.4H149.3V305.2H151.5M151.5 310.2H149.9V314.5H151.5M151.5 327.4H149.8V329.3H151.5M151.5 330H141.9V336.5H151.5M151.5 332.4H146.5V334.2H151.5M151.5 333.8H148.8V336.5H151.5M151.5 334.8H148.5V339.2H151.5M151.5 336.1H148.8V338.7H151.5M151.5 337.8H140.3V343.2H151.5M151.5 339.3H146.7V341.8H151.5M151.5 340.3H140.3V347H151.5M151.5 342.7H142.6V344.3H151.5M151.5 345.3H141.8V347.6H151.5M151.5 347.6H140.4V351.2H151.5M151.5 350.5H140.4V352.9H151.5M151.5 352.1H147.4V356.9H151.5M151.5 353.1H140.3V356.4H151.5M151.5 354.8H147.4V360.5H151.5M151.5 357.6H148.6V363.3H151.5M151.5 359.9H142.3V364H151.5M151.5 362H148.7V365.2H151.5M151.5 373.7H148.7V380H151.5M151.5 387.5H149.3V391.2H151.5M151.5 394.6H148.9V401.4H151.5M151.5 408.7H148.5V412.5H151.5M151.5 422.1H148.6V424.4H151.5M151.5 427.6H148.6V430H151.5M151.5 431H149.9V435.3H151.5M151.5 433.9H143.9V440.8H151.5M151.5 435.6H146.7V438.5H151.5M151.5 437.8H147.7V443.7H151.5M151.5 439.1H146.2V442.9H151.5M151.5 439.8H145.3V441.5H151.5M151.5 440.8H143.9V446.3H151.5M151.5 441.8H143.9V444.3H151.5M151.5 443.1H145.7V447.4H151.5M151.5 444.5H143.7V449.5H151.5M151.5 447.3H147.8V454.1H151.5M151.5 449H146.6V453.3H151.5M151.5 449.9H146.2V453.7H151.5M151.5 451H148.4V453.1H151.5M151.5 452.6H149.4V457H151.5M151.5 454.7H149.9V457.8H151.5M151.5 456.3H147.5V457.9H151.5M151.5 457.3H148.7V460.5H151.5M151.5 459.6H145.6V461.2H151.5M151.5 461.2H143.7V465.4H151.5M151.5 463.3H144.3V465.2H151.5M151.5 464.9H142.6V471.6H151.5M151.5 467.4H146.6V469.9H151.5M151.5 469H148V473H151.5M151.5 470.6H143V472.8H151.5M151.5 471.6H147.1V477.7H151.5M151.5 474.5H142.2V479.8H151.5M151.5 475H149.3V480.8H151.5M151.5 482.5H148.6V485.9H151.5M151.5 492.7H148.8V495.6H151.5M151.5 500H149.5V506.7H151.5M151.5 511.4H148.2V517.5H151.5M151.5 516.4H148.1V520.6H151.5M151.5 523.3H149.8V528.5H151.5M151.5 531.6H147.7V537.6H151.5M151.5 533H139.8V540H151.5M151.5 534.4H139V536.2H151.5M151.5 536.6H145.8V543.5H151.5M151.5 537.4H140.8V540.5H151.5M151.5 539.2H143.3V544.4H151.5M151.5 540.7H144.5V542.9H151.5M151.5 543.1H139.2V548.7H151.5M151.5 544.6H141.1V550H151.5M151.5 546.8H146.4V550.8H151.5M151.5 548.1H147.4V555.1H151.5M151.5 549.8H143.3V552.1H151.5M151.5 550.4H148.6V555.2H151.5M151.5 551.3H143.8V555.6H151.5M151.5 552.7H149.2V558.1H151.5M151.5 554.5H149.5V558.6H151.5M151.5 555.7H145.9V561.3H151.5M151.5 557.7H140.7V563.9H151.5M151.5 559.4H146V563.1H151.5M151.5 560H146.5V565H151.5M151.5 565.1H149.6V570.5H151.5M151.5 571.5H146.6V577.4H151.5M151.5 579.7H148.6V585.2H151.5M151.5 587.6H146.9V594H151.5M151.5 595H147.2V600.7H151.5M151.5 601.9H147.2V606.7H151.5M151.5 609.2H148.6V611.5H151.5M151.5 614.2H148.5V617.1H151.5M151.5 619.3H149.9V622H151.5M151.5 621.9H148.2V623.5H151.5M151.5 629.5H149.1V634.6H151.5M151.5 634.7H147.7V639.9H151.5M151.5 638.6H146.6V642.8H151.5M151.5 640H145V645.6H151.5M151.5 644.1H146.4V649.9H151.5M151.5 647.8H149.2V653.7H151.5M151.5 649.6H146.3V652H151.5M151.5 652.6H144.1V655.7H151.5M151.5 655.9H146.2V662.8H151.5M151.5 659.2H146.7V662.8H151.5M151.5 663.7H147.9V666.9H151.5M151.5 666.8H149.5V671.2H151.5M151.5 668.3H145.8V674.4H151.5M151.5 672H147.9V677.9H151.5M151.5 674.7H144.6V680.8H151.5M151.5 678.3H147.2V682H151.5M151.5 682.8H147.8V688.7H151.5M151.5 685.2H146.7V688H151.5M151.5 687.3H149.7V690.3H151.5M151.5 689H146.3V695H151.5M151.5 691.6H144.5V694.8H151.5M151.5 694.6H146.7V697H151.5M151.5 696.9H149.5V703.3H151.5M151.5 699.8H149.6V704.8H151.5M151.5 700H140.9V702H151.5M151.5 700.8H142.5V706H151.5M151.5 701.8H140.8V707.7H151.5M151.5 703.5H142.8V708.5H151.5M151.5 705.3H148.5V708.6H151.5M151.5 707.2H146.3V711.4H151.5M151.5 709.1H147V714.7H151.5M151.5 710.9H147V717.5H151.5M151.5 712.9H145.5V716H151.5M151.5 714.4H142.7V717.9H151.5M151.5 715.1H142.2V721.9H151.5M151.5 716.3H140.2V722.7H151.5M151.5 718.3H138.3V720.5H151.5M151.5 719.3H149V722.8H151.5M151.5 721.1H143.2V726.8H151.5M151.5 722.4H148V725.2H151.5M151.5 723.5H145.7V726.6H151.5M151.5 724.3H149.1V727.5H151.5M151.5 724.9H140.5V727.2H151.5M151.5 725.8H141V729.6H151.5M151.5 726.8H140.9V729.6H151.5M151.5 728.2H142.5V731.6H151.5M151.5 729.9H139.7V731.7H151.5M151.5 731.6H147.3V735.5H151.5M151.5 732.3H148.1V736.7H151.5M151.5 733.3H145.3V739.1H151.5M151.5 734.4H142.7V741.4H151.5M151.5 735.6H141.8V740.5H151.5M151.5 737.4H145.1V742.2H151.5M151.5 738.7H149.9V745.6H151.5M151.5 740.5H142.9V744.5H151.5M151.5 741.7H139.3V743.5H151.5M151.5 743.7H149.2V745.9H151.5M151.5 745.3H138.9V751.8H151.5M151.5 746.2H138.1V752.1H151.5M151.5 746.9H140.1V750.3H151.5M151.5 747.6H139.1V752.8H151.5M151.5 749.6H138.6V754.6H151.5M151.5 751.4H143.8V754.2H151.5M151.5 752.7H144V755H151.5M151.5 753.3H149V755.9H151.5M151.5 755.1H146.2V759.4H151.5M151.5 756.9H143.9V759.1H151.5M151.5 757.6H139.3V759.7H151.5M151.5 758.4H140.6V760.2H151.5M151.5 759.5H148.3V764.4H151.5M151.5 761.3H144.1V766.8H151.5M151.5 763.2H139.3V765.6H151.5M151.5 764.9H140.5V769.9H151.5M151.5 766H143.2V769.1H151.5M151.5 767.1H147.6V770.8H151.5M151.5 768.8H143.7V773.4H151.5M151.5 769.8H149.8V775.5H151.5M151.5 770.6H146.4V776H151.5M151.5 772.1H144.6V773.8H151.5M151.5 772.9H145V775.5H151.5M151.5 774.4H146.9V779.3H151.5M151.5 775.9H138.6V780H151.5M151.5 777.6H148V783.6H151.5M151.5 779H140.4V780.7H151.5M151.5 779.6H144.5V784.6H151.5M151.5 780.4H149.7V787.2H151.5M151.5 782.3H141.5V786.3H151.5M151.5 783.1H146.4V789.1H151.5M151.5 784H144.8V790.5H151.5M151.5 785.1H146.6V788.9H151.5M151.5 786.3H139.5V791.4H151.5M151.5 787.9H148.9V790.9H151.5M151.5 788.7H144.5V792H151.5M151.5 789.8H149.1V794.2H151.5M151.5 790.6H146.3V796.3H151.5M151.5 792.3H143.5V796.2H151.5M151.5 793.3H141.1V797.4H151.5M151.5 794.1H140.3V798.2H151.5M151.5 795.3H141.7V799.9H151.5M151.5 796H148.3V800.8H151.5M151.5 796.9H145.9V801.7H151.5M151.5 798.7H141.7V803.9H151.5M151.5 799.5H141.6V805.6H151.5M151.5 800H140.4V806.3H151.5M151.5 801H141.1V804.2H151.5M151.5 802.6H143.3V805.9H151.5M151.5 803.7H138.2V809.8H151.5M151.5 805.1H139.8V807.3H151.5M151.5 806.5H138.8V810H151.5M151.5 807.9H145.7V814.4H151.5M151.5 809.1H149V815H151.5M151.5 809.8H149.6V813H151.5M151.5 811.7H146.4V814.3H151.5M151.5 813.5H146.4V818.3H151.5M151.5 814.8H140.6V817.6H151.5M151.5 815.4H139.7V820.6H151.5M151.5 816.8H143.2V820.5H151.5M151.5 818.8H143.7V822.4H151.5M151.5 819.9H140.7V822.5H151.5M151.5 821.2H139.1V827.2H151.5M151.5 823.1H138.6V828.3H151.5M151.5 824.6H144.2V828.3H151.5M151.5 825.3H144.2V829.6H151.5M151.5 827H146.5V831.7H151.5M151.5 828.6H138.3V831.3H151.5M151.5 829.8H139.7V832H151.5M151.5 830.8H145.4V835.2H151.5M151.5 832.2H139.2V838.9H151.5M151.5 833.6H146V835.6H151.5M151.5 834.7H141.7V837H151.5M151.5 836.2H149.3V840.3H151.5M151.5 837.3H149.1V840.6H151.5M151.5 838.7H147.4V840.8H151.5M151.5 839.7H145.6V846.4H151.5M151.5 841.4H144.1V847.8H151.5M151.5 843.4H142.1V845H151.5M151.5 845.1H146.1V846.7H151.5M151.5 847.1H148.3V852.6H151.5M151.5 847.7H145.3V852.2H151.5M151.5 848.9H147.5V852.7H151.5M151.5 849.6H145.1V851.4H151.5M151.5 851.6H146.1V857.6H151.5M151.5 852.5H138.5V859H151.5M151.5 853.4H148.7V859.2H151.5M151.5 854.5H139.3V861H151.5M151.5 855.9H140.8V857.8H151.5M151.5 856.7H142.9V858.2H151.5M151.5 857.9H145.8V861H151.5M151.5 858.5H144.3V862.9H151.5M151.5 859.6H139.5V866.1H151.5M151.5 860.8H142.5V864.8H151.5M151.5 862.7H144.2V867.4H151.5M151.5 863.9H149.4V867.8H151.5M151.5 865.6H139.9V870.6H151.5M151.5 867H142.2V869.2H151.5M151.5 867.5H149.7V872.9H151.5M151.5 869H141V873.6H151.5M151.5 870.1H143.1V874.2H151.5M151.5 871H147V873.7H151.5M151.5 873H145.5V879H151.5M151.5 873.5H148.1V876.7H151.5M151.5 875H146.3V879.5H151.5M151.5 877.3H147.6V880.2H151.5M151.5 878.9H145.4V885H151.5M151.5 881.1H146V885.7H151.5M151.5 882.9H147.9V889.6H151.5M151.5 884.6H149.1V888.9H151.5M151.5 887H149.7V892.1H151.5M151.5 888H146.8V892.8H151.5M151.5 889.8H149.7V896.6H151.5M151.5 891.4H148V896.3H151.5M151.5 893.8H148.3V897.2H151.5M151.5 895.3H147.1V897.6H151.5M151.5 897.5H145.7V901.2H151.5M151.5 900.5H145V906.4H151.5M151.5 903.3H144.9V907.9H151.5M151.5 905.5H149.1V911.3H151.5M151.5 907.7H144.9V912.9H151.5M151.5 908.6H142.5V912.6H151.5M151.5 911.4H146.6V914.9H151.5M151.5 913.8H148.6V916.3H151.5M151.5 915.3H146.6V917.3H151.5M151.5 917H145.3V923.5H151.5M151.5 917.9H141.8V919.5H151.5M151.5 919.8H141.9V925.2H151.5M151.5 921.3H149.1V925.4H151.5M151.5 924.2H146.9V930.5H151.5M151.5 926.3H146.7V929H151.5M151.5 927.4H148.6V930.6H151.5M151.5 929.4H145.5V934.9H151.5M151.5 930.8H146.4V935.1H151.5M151.5 932.1H149.8V938.3H151.5M151.5 933.3H148.4V936.1H151.5M151.5 935.6H146.5V938.4H151.5M151.5 936.9H146.5V943.2H151.5M151.5 938.8H144.9V941.2H151.5M151.5 940.6H143V944.1H151.5M151.5 941.8H149.4V947.2H151.5M151.5 944.5H148.2V949.4H151.5M151.5 945.5H147.5V948.2H151.5M151.5 946.3H148.1V948.2H151.5M151.5 947.5H144.9V950H151.5M151.5 950.1H149V951.7H151.5M151.5 951.5H145.5V956.2H151.5M151.5 952.6H143V959.3H151.5M151.5 955.1H145.4V961.5H151.5M151.5 958H142.8V959.9H151.5M151.5 959.9H148.4V961.8H151.5M151.5 961.8H143.9V967.7H151.5M151.5 962.6H143.3V969H151.5M151.5 964.3H146.5V966.5H151.5M151.5 966.1H141.8V968.7H151.5M151.5 967.6H142.8V973.4H151.5M151.5 968.9H146.9V973.8H151.5M151.5 971.4H148.7V976.5H151.5M151.5 972.5H141.7V979.1H151.5M151.5 973.6H148.1V975.6H151.5M151.5 975.4H149.8V982H151.5M151.5 978.3H144.5V983.2H151.5M151.5 981.2H143.2V986.8H151.5M151.5 983.2H141.6V984.8H151.5M151.5 985.4H148.8V990.9H151.5M151.5 987.9H147.8V990.1H151.5M151.5 990.8H145.6V996H151.5M151.5 992.2H146.8V994.1H151.5M151.5 995.1H148.5V997.3H151.5M151.5 997.9H148.7V1001.4H151.5M151.5 999H146.3V1002.2H151.5M151.5 1001.7H142.3V1006.2H151.5M151.5 1004.6H148.1V1009.2H151.5M151.5 1005.9H142.3V1009.2H151.5M151.5 1007H145V1010.9H151.5M151.5 1009.3H144.3V1015.3H151.5M151.5 1012.1H144.4V1017.2H151.5M151.5 1013.3H147.1V1020H151.5M151.5 1014.1H144.7V1019.4H151.5M151.5 1015.8H143.4V1021.5H151.5M151.5 1017.2H149.2V1021.6H151.5M151.5 1018.1H147.6V1024.2H151.5M151.5 1019.2H146.8V1024.4H151.5M151.5 1021.6H144.2V1026H151.5M151.5 1023.5H145.4V1026.3H151.5M151.5 1025.1H143.5V1027.2H151.5M151.5 1026.7H146.3V1030.3H151.5M151.5 1029.1H146.2V1032H151.5M151.5 1030.6H142.7V1033.3H151.5M151.5 1033.5H148.6V1040.1H151.5M151.5 1034.6H142.4V1037H151.5M151.5 1036.1H141.6V1039.9H151.5M151.5 1037.8H148.6V1043.1H151.5M151.5 1038.9H148.3V1040.5H151.5M151.5 1040.6H142.8V1043.8H151.5M151.5 1041.9H143.7V1044.9H151.5M151.5 1043.2H148.4V1047.5H151.5M151.5 1044.6H145.6V1048.4H151.5M151.5 1047.3H149.9V1053H151.5M151.5 1048.4H144V1054.3H151.5M151.5 1050.5H146.4V1054.9H151.5M151.5 1051.9H141.6V1053.8H151.5M151.5 1054.8H145.4V1061.1H151.5M151.5 1055.7H145.8V1061.8H151.5M151.5 1057.5H142.8V1062.5H151.5M151.5 1058.8H147.7V1064.8H151.5M151.5 1061.7H149.8V1065.6H151.5M151.5 1064.5H149.1V1068.8H151.5M151.5 1065.6H148.4V1067.5H151.5M151.5 1066.7H147.8V1071H151.5M151.5 1068.9H148.2V1071.7H151.5M151.5 1069.8H149.1V1074.4H151.5M151.5 1071.8H150V1074.9H151.5M151.5 1074.2H149.1V1080H151.5M151.5 1077H148.5V1081.7H151.5M151.5 1078.9H143.9V1081.8H151.5M151.5 1080.2H146.8V1081.9H151.5M151.5 1081.9H141.9V1088.4H151.5M151.5 1084.4H144.3V1087H151.5M151.5 1085.8H147V1092.6H151.5" fill="none" stroke="#000" stroke-width="1"/>
<path d="M122 661.9H151.5" stroke="#000" stroke-width="2.2"/>
<rect x="150.6" y="127.5" width="6.4" height="960.7" fill="#000"/>
<text x="1402.4" y="193.6" font-size="27" textLength="151.7" lengthAdjust="spacingAndGlyphs">Relatedness</text>
<g shape-rendering="crispEdges">
<rect x="1403.9" y="215.50" width="37.7" height="1.80" fill="#A90026"/>
<rect x="1403.9" y="217.00" width="37.7" height="1.80" fill="#AB0026"/>
<rect x="1403.9" y="218.50" width="37.7" height="1.80" fill="#AC0026"/>
<rect x="1403.9" y="220.00" width="37.7" height="1.80" fill="#AE0026"/>
<rect x="1403.9" y="221.49" width="37.7" height="1.80" fill="#B00026"/>
<rect x="1403.9" y="222.99" width="37.7" height="1.80" fill="#B20126"/>
<rect x="1403.9" y="224.49" width="37.7" height="1.80" fill="#B40326"/>
<rect x="1403.9" y="225.99" width="37.7" height="1.80" fill="#B60525"/>
<rect x="1403.9" y="227.49" width="37.7" height="1.80" fill="#B90725"/>
<rect x="1403.9" y="228.99" width="37.7" height="1.80" fill="#BB0925"/>
<rect x="1403.9" y="230.48" width="37.7" height="1.80" fill="#BD0B25"/>
<rect x="1403.9" y="231.98" width="37.7" height="1.80" fill="#BF0D25"/>
<rect x="1403.9" y="233.48" width="37.7" height="1.80" fill="#C10F24"/>
<rect x="1403.9" y="234.98" width="37.7" height="1.80" fill="#C41124"/>
<rect x="1403.9" y="236.48" width="37.7" height="1.80" fill="#C61324"/>
<rect x="1403.9" y="237.98" width="37.7" height="1.80" fill="#C81624"/>
<rect x="1403.9" y="239.47" width="37.7" height="1.80" fill="#CA1824"/>
<rect x="1403.9" y="240.97" width="37.7" height="1.80" fill="#CC1A23"/>
<rect x="1403.9" y="242.47" width="37.7" height="1.80" fill="#CF1C23"/>
<rect x="1403.9" y="243.97" width="37.7" height="1.80" fill="#D11E23"/>
<rect x="1403.9" y="245.47" width="37.7" height="1.80" fill="#D32023"/>
<rect x="1403.9" y="246.97" width="37.7" height="1.80" fill="#D52223"/>
<rect x="1403.9" y="248.46" width="37.7" height="1.80" fill="#D72422"/>
<rect x="1403.9" y="249.96" width="37.7" height="1.80" fill="#DA2622"/>
<rect x="1403.9" y="251.46" width="37.7" height="1.80" fill="#DC2822"/>
<rect x="1403.9" y="252.96" width="37.7" height="1.80" fill="#DE2A22"/>
<rect x="1403.9" y="254.46" width="37.7" height="1.80" fill="#E02C22"/>
<rect x="1403.9" y="255.96" width="37.7" height="1.80" fill="#E22E21"/>
<rect x="1403.9" y="257.46" width="37.7" height="1.80" fill="#E43021"/>
<rect x="1403.9" y="258.95" width="37.7" height="1.80" fill="#E73221"/>
<rect x="1403.9" y="260.45" width="37.7" height="1.80" fill="#E93421"/>
<rect x="1403.9" y="261.95" width="37.7" height="1.80" fill="#EB3620"/>
<rect x="1403.9" y="263.45" width="37.7" height="1.80" fill="#ED3820"/>
<rect x="1403.9" y="264.95" width="37.7" height="1.80" fill="#EF3A20"/>
<rect x="1403.9" y="266.45" width="37.7" height="1.80" fill="#F03D21"/>
<rect x="1403.9" y="267.94" width="37.7" height="1.80" fill="#F14022"/>
<rect x="1403.9" y="269.44" width="37.7" height="1.80" fill="#F14323"/>
<rect x="1403.9" y="270.94" width="37.7" height="1.80" fill="#F24624"/>
<rect x="1403.9" y="272.44" width="37.7" height="1.80" fill="#F24925"/>
<rect x="1403.9" y="273.94" width="37.7" height="1.80" fill="#F34B26"/>
<rect x="1403.9" y="275.44" width="37.7" height="1.80" fill="#F34E27"/>
<rect x="1403.9" y="276.93" width="37.7" height="1.80" fill="#F45128"/>
<rect x="1403.9" y="278.43" width="37.7" height="1.80" fill="#F45429"/>
<rect x="1403.9" y="279.93" width="37.7" height="1.80" fill="#F45729"/>
<rect x="1403.9" y="281.43" width="37.7" height="1.80" fill="#F55A2A"/>
<rect x="1403.9" y="282.93" width="37.7" height="1.80" fill="#F55D2B"/>
<rect x="1403.9" y="284.43" width="37.7" height="1.80" fill="#F65F2C"/>
<rect x="1403.9" y="285.92" width="37.7" height="1.80" fill="#F6622D"/>
<rect x="1403.9" y="287.42" width="37.7" height="1.80" fill="#F7652E"/>
<rect x="1403.9" y="288.92" width="37.7" height="1.80" fill="#F7682F"/>
<rect x="1403.9" y="290.42" width="37.7" height="1.80" fill="#F86B30"/>
<rect x="1403.9" y="291.92" width="37.7" height="1.80" fill="#F86E31"/>
<rect x="1403.9" y="293.42" width="37.7" height="1.80" fill="#F87032"/>
<rect x="1403.9" y="294.92" width="37.7" height="1.80" fill="#F97333"/>
<rect x="1403.9" y="296.41" width="37.7" height="1.80" fill="#F97634"/>
<rect x="1403.9" y="297.91" width="37.7" height="1.80" fill="#FA7935"/>
<rect x="1403.9" y="299.41" width="37.7" height="1.80" fill="#FA7C36"/>
<rect x="1403.9" y="300.91" width="37.7" height="1.80" fill="#FB7F37"/>
<rect x="1403.9" y="302.41" width="37.7" height="1.80" fill="#FB8238"/>
<rect x="1403.9" y="303.91" width="37.7" height="1.80" fill="#FC8439"/>
<rect x="1403.9" y="305.40" width="37.7" height="1.80" fill="#FC873A"/>
<rect x="1403.9" y="306.90" width="37.7" height="1.80" fill="#FD8A3B"/>
<rect x="1403.9" y="308.40" width="37.7" height="1.80" fill="#FD8D3C"/>
<rect x="1403.9" y="309.90" width="37.7" height="1.80" fill="#FD8F3D"/>
<rect x="1403.9" y="311.40" width="37.7" height="1.80" fill="#FD913E"/>
<rect x="1403.9" y="312.90" width="37.7" height="1.80" fill="#FD943F"/>
<rect x="1403.9" y="314.39" width="37.7" height="1.80" fill="#FD9640"/>
<rect x="1403.9" y="315.89" width="37.7" height="1.80" fill="#FD9842"/>
<rect x="1403.9" y="317.39" width="37.7" height="1.80" fill="#FD9A43"/>
<rect x="1403.9" y="318.89" width="37.7" height="1.80" fill="#FD9C44"/>
<rect x="1403.9" y="320.39" width="37.7" height="1.80" fill="#FD9F45"/>
<rect x="1403.9" y="321.89" width="37.7" height="1.80" fill="#FDA146"/>
<rect x="1403.9" y="323.38" width="37.7" height="1.80" fill="#FDA347"/>
<rect x="1403.9" y="324.88" width="37.7" height="1.80" fill="#FDA548"/>
<rect x="1403.9" y="326.38" width="37.7" height="1.80" fill="#FDA749"/>
<rect x="1403.9" y="327.88" width="37.7" height="1.80" fill="#FDA94A"/>
<rect x="1403.9" y="329.38" width="37.7" height="1.80" fill="#FDAC4C"/>
<rect x="1403.9" y="330.88" width="37.7" height="1.80" fill="#FEAE4D"/>
<rect x="1403.9" y="332.38" width="37.7" height="1.80" fill="#FEB04E"/>
<rect x="1403.9" y="333.87" width="37.7" height="1.80" fill="#FEB24F"/>
<rect x="1403.9" y="335.37" width="37.7" height="1.80" fill="#FEB450"/>
<rect x="1403.9" y="336.87" width="37.7" height="1.80" fill="#FEB751"/>
<rect x="1403.9" y="338.37" width="37.7" height="1.80" fill="#FEB952"/>
<rect x="1403.9" y="339.87" width="37.7" height="1.80" fill="#FEBB53"/>
<rect x="1403.9" y="341.37" width="37.7" height="1.80" fill="#FEBD54"/>
<rect x="1403.9" y="342.86" width="37.7" height="1.80" fill="#FEBF56"/>
<rect x="1403.9" y="344.36" width="37.7" height="1.80" fill="#FEC257"/>
<rect x="1403.9" y="345.86" width="37.7" height="1.80" fill="#FEC458"/>
<rect x="1403.9" y="347.36" width="37.7" height="1.80" fill="#FEC659"/>
<rect x="1403.9" y="348.86" width="37.7" height="1.80" fill="#FEC85A"/>
<rect x="1403.9" y="350.36" width="37.7" height="1.80" fill="#FECA5B"/>
<rect x="1403.9" y="351.85" width="37.7" height="1.80" fill="#FECC5D"/>
<rect x="1403.9" y="353.35" width="37.7" height="1.80" fill="#FECE60"/>
<rect x="1403.9" y="354.85" width="37.7" height="1.80" fill="#FED063"/>
<rect x="1403.9" y="356.35" width="37.7" height="1.80" fill="#FED266"/>
<rect x="1403.9" y="357.85" width="37.7" height="1.80" fill="#FED469"/>
<rect x="1403.9" y="359.35" width="37.7" height="1.80" fill="#FED56C"/>
<rect x="1403.9" y="360.84" width="37.7" height="1.80" fill="#FED76F"/>
<rect x="1403.9" y="362.34" width="37.7" height="1.80" fill="#FED972"/>
<rect x="1403.9" y="363.84" width="37.7" height="1.80" fill="#FEDB75"/>
<rect x="1403.9" y="365.34" width="37.7" height="1.80" fill="#FEDC78"/>
<rect x="1403.9" y="366.84" width="37.7" height="1.80" fill="#FEDE7B"/>
<rect x="1403.9" y="368.34" width="37.7" height="1.80" fill="#FEE07E"/>
<rect x="1403.9" y="369.84" width="37.7" height="1.80" fill="#FEE281"/>
<rect x="1403.9" y="371.33" width="37.7" height="1.80" fill="#FEE484"/>
<rect x="1403.9" y="372.83" width="37.7" height="1.80" fill="#FEE587"/>
<rect x="1403.9" y="374.33" width="37.7" height="1.80" fill="#FFE78A"/>
<rect x="1403.9" y="375.83" width="37.7" height="1.80" fill="#FFE98D"/>
<rect x="1403.9" y="377.33" width="37.7" height="1.80" fill="#FFEB90"/>
<rect x="1403.9" y="378.83" width="37.7" height="1.80" fill="#FFEC93"/>
<rect x="1403.9" y="380.32" width="37.7" height="1.80" fill="#FFEE96"/>
<rect x="1403.9" y="381.82" width="37.7" height="1.80" fill="#FFF099"/>
<rect x="1403.9" y="383.32" width="37.7" height="1.80" fill="#FFF29C"/>
<rect x="1403.9" y="384.82" width="37.7" height="1.80" fill="#FFF39F"/>
<rect x="1403.9" y="386.32" width="37.7" height="1.80" fill="#FFF5A2"/>
<rect x="1403.9" y="387.82" width="37.7" height="1.80" fill="#FFF7A5"/>
<rect x="1403.9" y="389.31" width="37.7" height="1.80" fill="#FFF9A8"/>
<rect x="1403.9" y="390.81" width="37.7" height="1.80" fill="#FFFBAB"/>
<rect x="1403.9" y="392.31" width="37.7" height="1.80" fill="#FFFCAE"/>
<rect x="1403.9" y="393.81" width="37.7" height="1.80" fill="#FFFEB1"/>
<rect x="1403.9" y="395.31" width="37.7" height="1.80" fill="#FFFFB2"/>
<rect x="1403.9" y="396.81" width="37.7" height="1.80" fill="#FFFFB2"/>
<rect x="1403.9" y="398.30" width="37.7" height="1.80" fill="#FFFFB2"/>
<rect x="1403.9" y="399.80" width="37.7" height="1.80" fill="#FFFFB2"/>
<rect x="1403.9" y="401.30" width="37.7" height="1.80" fill="#FFFFB2"/>
</g>
<path d="M1403.9 222.7h9M1441.6 222.7h-8.7" stroke="#fff" stroke-opacity=".85" stroke-width="1.1"/>
<path d="M1403.9 309.1h9M1441.6 309.1h-8.7" stroke="#fff" stroke-opacity=".85" stroke-width="1.1"/>
<path d="M1403.9 395.3h9M1441.6 395.3h-8.7" stroke="#fff" stroke-opacity=".85" stroke-width="1.1"/>
<text x="1452.7" y="228.5" font-size="22" textLength="30.9" lengthAdjust="spacingAndGlyphs">1.0</text>
<text x="1457.2" y="316.1" font-size="22" textLength="32.7" lengthAdjust="spacingAndGlyphs">0.5</text>
<text x="1457.2" y="402.8" font-size="22" textLength="13.1" lengthAdjust="spacingAndGlyphs">0</text>
<text x="1541.6" y="313.7" font-size="27" textLength="57.4" lengthAdjust="spacingAndGlyphs">MDA</text>
<rect x="1542.1" y="329.9" width="23.9" height="23.8" fill="#56B4E9"/>
<text x="1580.2" y="352.9" font-size="26.5" textLength="60.4" lengthAdjust="spacingAndGlyphs">After</text>
<rect x="1542.1" y="366" width="23.9" height="23.8" fill="#D55E00"/>
<text x="1580.2" y="387.4" font-size="26.5" textLength="82" lengthAdjust="spacingAndGlyphs">Before</text>
<rect x="1542.1" y="401" width="23.9" height="23.8" fill="#D3D3D3"/>
<text x="1580.2" y="422.4" font-size="26.5" textLength="99.6" lengthAdjust="spacingAndGlyphs">No MDA</text>
<text x="1542.5" y="494.9" font-size="27" textLength="54.8" lengthAdjust="spacingAndGlyphs">Year</text>
<rect x="1542.1" y="512.8" width="23.9" height="23.8" fill="#C7E9B4"/>
<text x="1580.2" y="533" font-size="26.5" textLength="60.2" lengthAdjust="spacingAndGlyphs">2016</text>
<rect x="1542.1" y="547.1" width="23.9" height="23.8" fill="#7FCDBB"/>
<text x="1580.2" y="567.6" font-size="26.5" textLength="58.5" lengthAdjust="spacingAndGlyphs">2017</text>
<rect x="1542.1" y="581.4" width="23.9" height="23.8" fill="#41B6C4"/>
<text x="1580.2" y="602.3" font-size="26.5" textLength="60.2" lengthAdjust="spacingAndGlyphs">2018</text>
<rect x="1542.1" y="615.9" width="23.9" height="23.8" fill="#2C7FB8"/>
<text x="1580.2" y="637.1" font-size="26.5" textLength="60.2" lengthAdjust="spacingAndGlyphs">2019</text>
<rect x="1542.1" y="650.2" width="23.9" height="23.8" fill="#253494"/>
<text x="1580.2" y="671.7" font-size="26.5" textLength="65.5" lengthAdjust="spacingAndGlyphs">2020</text>
<text x="1542.5" y="740.9" font-size="27" textLength="91.5" lengthAdjust="spacingAndGlyphs" font-style="italic">kelch13</text>
<rect x="1542.1" y="758.1" width="23.9" height="23.8" fill="#FF0000"/>
<text x="1580.2" y="782" font-size="26.5" textLength="84.9" lengthAdjust="spacingAndGlyphs">C580Y</text>
<rect x="1542.1" y="794" width="23.9" height="23.8" fill="#90EE90"/>
<text x="1580.2" y="817.9" font-size="26.5" textLength="69" lengthAdjust="spacingAndGlyphs">F446I</text>
<rect x="1542.1" y="829.2" width="23.9" height="23.8" fill="#0072B2"/>
<text x="1580.2" y="852.9" font-size="26.5" textLength="87" lengthAdjust="spacingAndGlyphs">G449A</text>
<rect x="1542.1" y="864.6" width="23.9" height="23.8" fill="#009E73"/>
<text x="1580.2" y="887.9" font-size="26.5" textLength="75" lengthAdjust="spacingAndGlyphs">M476I</text>
<rect x="1542.1" y="900.1" width="23.9" height="23.8" fill="#E69F00"/>
<text x="1580.2" y="922.9" font-size="26.5" textLength="75" lengthAdjust="spacingAndGlyphs">M562I</text>
<rect x="1542.1" y="935.3" width="23.9" height="23.8" fill="#A020F0"/>
<text x="1580.2" y="957.9" font-size="26.5" textLength="72" lengthAdjust="spacingAndGlyphs">P441L</text>
<rect x="1542.1" y="970.8" width="23.9" height="23.8" fill="#FFD966"/>
<text x="1580.2" y="992.7" font-size="26.5" textLength="77.5" lengthAdjust="spacingAndGlyphs">R561H</text>
<rect x="1542.1" y="1006.2" width="23.9" height="23.8" fill="#ADD8E6"/>
<text x="1580.2" y="1027.7" font-size="26.5" textLength="39" lengthAdjust="spacingAndGlyphs">WT</text>
<g>
<circle cx="215.4" cy="1559.9" r="12.15" fill="#A6D5E7" stroke="#000" stroke-width="1.4"/>
<circle cx="242" cy="1597.9" r="12.15" fill="#5E90C3" stroke="#000" stroke-width="1.4"/>
<circle cx="215.7" cy="1624.8" r="12.15" fill="#4A74B6" stroke="#000" stroke-width="1.4"/>
<circle cx="229.1" cy="1646.1" r="12.15" fill="#85B9D9" stroke="#000" stroke-width="1.4"/>
<circle cx="234.7" cy="1662.4" r="12.15" fill="#73A9CF" stroke="#000" stroke-width="1.4"/>
<circle cx="362.8" cy="1182.5" r="12.15" fill="#A50026" stroke="#000" stroke-width="1.4"/>
<circle cx="334.6" cy="1182.5" r="12.15" fill="#B8162B" stroke="#000" stroke-width="1.4"/>
<circle cx="354.9" cy="1182.5" r="12.15" fill="#F98D52" stroke="#000" stroke-width="1.4"/>
<circle cx="349.9" cy="1182.5" r="12.15" fill="#FDBB6E" stroke="#000" stroke-width="1.4"/>
<circle cx="350.3" cy="1214.9" r="12.15" fill="#E8553A" stroke="#000" stroke-width="1.4"/>
<circle cx="351.7" cy="1209.6" r="12.15" fill="#E8593A" stroke="#000" stroke-width="1.4"/>
<circle cx="345.9" cy="1214.9" r="12.15" fill="#FEDC8C" stroke="#000" stroke-width="1.4"/>
<circle cx="350.6" cy="1300.8" r="12.15" fill="#F99355" stroke="#000" stroke-width="1.4"/>
<circle cx="354.2" cy="1284.8" r="12.15" fill="#FDA55E" stroke="#000" stroke-width="1.4"/>
<circle cx="336.3" cy="1360" r="12.15" fill="#FEEB9E" stroke="#000" stroke-width="1.4"/>
<circle cx="329.6" cy="1446.9" r="12.15" fill="#E0F3F8" stroke="#000" stroke-width="1.4"/>
<circle cx="359.6" cy="1457.2" r="12.15" fill="#F5FACF" stroke="#000" stroke-width="1.4"/>
<circle cx="482.1" cy="1290.1" r="12.15" fill="#E0F3F8" stroke="#000" stroke-width="1.4"/>
<circle cx="464.1" cy="1311.7" r="12.15" fill="#FDD483" stroke="#000" stroke-width="1.4"/>
<circle cx="479.4" cy="1328.1" r="12.15" fill="#FEF0A5" stroke="#000" stroke-width="1.4"/>
<circle cx="454.5" cy="1349.4" r="12.15" fill="#85B9D9" stroke="#000" stroke-width="1.4"/>
<circle cx="464.4" cy="1392.7" r="12.15" fill="#F5FACF" stroke="#000" stroke-width="1.4"/>
<circle cx="482.1" cy="1451.9" r="12.15" fill="#B9DFEC" stroke="#000" stroke-width="1.4"/>
<circle cx="459.4" cy="1559.9" r="12.15" fill="#A6D5E7" stroke="#000" stroke-width="1.4"/>
<circle cx="584.8" cy="1230.8" r="12.15" fill="#F67C4A" stroke="#000" stroke-width="1.4"/>
<circle cx="575.1" cy="1274.1" r="12.15" fill="#F99355" stroke="#000" stroke-width="1.4"/>
<circle cx="599.9" cy="1344.1" r="12.15" fill="#FBA35E" stroke="#000" stroke-width="1.4"/>
<circle cx="584.8" cy="1355.5" r="12.15" fill="#FDB96B" stroke="#000" stroke-width="1.4"/>
<circle cx="576.2" cy="1338.6" r="12.15" fill="#E0F3F8" stroke="#000" stroke-width="1.4"/>
<circle cx="605.3" cy="1360.6" r="12.15" fill="#F5FACF" stroke="#000" stroke-width="1.4"/>
<circle cx="590.8" cy="1420" r="12.15" fill="#FDD985" stroke="#000" stroke-width="1.4"/>
<circle cx="588.5" cy="1408.8" r="12.15" fill="#FEF0A5" stroke="#000" stroke-width="1.4"/>
<circle cx="589.9" cy="1451.6" r="12.15" fill="#B9DFEC" stroke="#000" stroke-width="1.4"/>
<circle cx="582.5" cy="1457.6" r="12.15" fill="#A0D0E5" stroke="#000" stroke-width="1.4"/>
<circle cx="597.6" cy="1479" r="12.15" fill="#85B9D9" stroke="#000" stroke-width="1.4"/>
<circle cx="602.9" cy="1565.6" r="12.15" fill="#73A9CF" stroke="#000" stroke-width="1.4"/>
<circle cx="697.5" cy="1355.5" r="12.15" fill="#FDB466" stroke="#000" stroke-width="1.4"/>
<circle cx="710.1" cy="1349.5" r="12.15" fill="#FEDC8C" stroke="#000" stroke-width="1.4"/>
<circle cx="722.9" cy="1381.7" r="12.15" fill="#E0F3F8" stroke="#000" stroke-width="1.4"/>
<circle cx="697.8" cy="1403.7" r="12.15" fill="#F5FACF" stroke="#000" stroke-width="1.4"/>
<circle cx="704.2" cy="1494.8" r="12.15" fill="#BEE3EE" stroke="#000" stroke-width="1.4"/>
<circle cx="698.8" cy="1522.3" r="12.15" fill="#A9D7E8" stroke="#000" stroke-width="1.4"/>
<circle cx="714.1" cy="1586.9" r="12.15" fill="#FEF0A5" stroke="#000" stroke-width="1.4"/>
<circle cx="725.5" cy="1586.9" r="12.15" fill="#8ABEDB" stroke="#000" stroke-width="1.4"/>
<circle cx="703.5" cy="1630.2" r="12.15" fill="#73A9CF" stroke="#000" stroke-width="1.4"/>
<circle cx="720.1" cy="1695.1" r="12.15" fill="#5E90C3" stroke="#000" stroke-width="1.4"/>
<circle cx="824.8" cy="1220.2" r="12.15" fill="#FDB96B" stroke="#000" stroke-width="1.4"/>
<circle cx="813.9" cy="1247.6" r="12.15" fill="#FEDC8C" stroke="#000" stroke-width="1.4"/>
<circle cx="815.9" cy="1241.6" r="12.15" fill="#FEF0A5" stroke="#000" stroke-width="1.4"/>
<circle cx="826" cy="1560.2" r="12.15" fill="#8ABEDB" stroke="#000" stroke-width="1.4"/>
<circle cx="840.7" cy="1586.9" r="12.15" fill="#73A9CF" stroke="#000" stroke-width="1.4"/>
<circle cx="827" cy="1570.9" r="12.15" fill="#6297C6" stroke="#000" stroke-width="1.4"/>
<circle cx="828.7" cy="1608.5" r="12.15" fill="#4A74B6" stroke="#000" stroke-width="1.4"/>
<circle cx="942.4" cy="1182.2" r="12.15" fill="#FEF0A5" stroke="#000" stroke-width="1.4"/>
<circle cx="966.6" cy="1301" r="12.15" fill="#B9DFEC" stroke="#000" stroke-width="1.4"/>
<circle cx="947.8" cy="1317.2" r="12.15" fill="#A0D0E5" stroke="#000" stroke-width="1.4"/>
<circle cx="1085.3" cy="1182.3" r="12.15" fill="#B9DFEC" stroke="#000" stroke-width="1.4"/>
<circle cx="1066.5" cy="1193.6" r="12.15" fill="#E0F3F8" stroke="#000" stroke-width="1.4"/>
<circle cx="1068.1" cy="1182.3" r="12.15" fill="#A0D0E5" stroke="#000" stroke-width="1.4"/>
<circle cx="1081" cy="1200.8" r="12.15" fill="#FEDC8C" stroke="#000" stroke-width="1.4"/>
<circle cx="1081.7" cy="1204.2" r="12.15" fill="#F5FACF" stroke="#000" stroke-width="1.4"/>
<circle cx="1071.3" cy="1215.1" r="12.15" fill="#333A9A" stroke="#000" stroke-width="1.4"/>
<circle cx="1176.6" cy="1193.2" r="12.15" fill="#FDAE61" stroke="#000" stroke-width="1.4"/>
<circle cx="1179" cy="1198.6" r="12.15" fill="#FEDC8C" stroke="#000" stroke-width="1.4"/>
<circle cx="1181.3" cy="1182.1" r="12.15" fill="#73A9CF" stroke="#000" stroke-width="1.4"/>
<circle cx="1193.3" cy="1183.2" r="12.15" fill="#E0F3F8" stroke="#000" stroke-width="1.4"/>
<circle cx="1211.6" cy="1182.4" r="12.15" fill="#FDBB6E" stroke="#000" stroke-width="1.4"/>
<circle cx="1204.9" cy="1182.7" r="12.15" fill="#A0D0E5" stroke="#000" stroke-width="1.4"/>
<circle cx="1183.3" cy="1182.4" r="12.15" fill="#FDBB6E" stroke="#000" stroke-width="1.4"/>
<circle cx="1208.5" cy="1197.9" r="12.15" fill="#E8513A" stroke="#000" stroke-width="1.4"/>
<circle cx="1181.7" cy="1198.6" r="12.15" fill="#A0D0E5" stroke="#000" stroke-width="1.4"/>
<circle cx="1187.5" cy="1204.8" r="12.15" fill="#85B9D9" stroke="#000" stroke-width="1.4"/>
<circle cx="1194.4" cy="1208.7" r="12.15" fill="#73A9CF" stroke="#000" stroke-width="1.4"/>
<circle cx="1201.5" cy="1211" r="12.15" fill="#73A9CF" stroke="#000" stroke-width="1.4"/>
<circle cx="1202.6" cy="1193.2" r="12.15" fill="#E0F3F8" stroke="#000" stroke-width="1.4"/>
<circle cx="1197.5" cy="1224.9" r="12.15" fill="#D73027" stroke="#000" stroke-width="1.4"/>
<circle cx="1201.8" cy="1231.1" r="12.15" fill="#5E90C3" stroke="#000" stroke-width="1.4"/>
<circle cx="1195.3" cy="1214.9" r="12.15" fill="#5E90C3" stroke="#000" stroke-width="1.4"/>
<circle cx="1210.3" cy="1225.7" r="12.15" fill="#F5FACF" stroke="#000" stroke-width="1.4"/>
<circle cx="1184.5" cy="1257.9" r="12.15" fill="#BEE3EE" stroke="#000" stroke-width="1.4"/>
<circle cx="1333" cy="1184" r="12.15" fill="#FDAE61" stroke="#000" stroke-width="1.4"/>
<circle cx="1331.7" cy="1183.2" r="12.15" fill="#FEEB9E" stroke="#000" stroke-width="1.4"/>
<circle cx="1307" cy="1183.2" r="12.15" fill="#4A74B6" stroke="#000" stroke-width="1.4"/>
<circle cx="1332.2" cy="1193.2" r="12.15" fill="#A0D0E5" stroke="#000" stroke-width="1.4"/>
<circle cx="1330.5" cy="1187.5" r="12.15" fill="#A0D0E5" stroke="#000" stroke-width="1.4"/>
<circle cx="1317.5" cy="1182.4" r="12.15" fill="#E0F3F8" stroke="#000" stroke-width="1.4"/>
<circle cx="1296.4" cy="1182.4" r="12.15" fill="#73A9CF" stroke="#000" stroke-width="1.4"/>
<circle cx="1300.8" cy="1202.5" r="12.15" fill="#5E90C3" stroke="#000" stroke-width="1.4"/>
<circle cx="1304.9" cy="1198.6" r="12.15" fill="#FEDC8C" stroke="#000" stroke-width="1.4"/>
<circle cx="1308.5" cy="1192.2" r="12.15" fill="#F5FACF" stroke="#000" stroke-width="1.4"/>
<circle cx="1317.5" cy="1182.4" r="12.15" fill="#E0F3F8" stroke="#000" stroke-width="1.4"/>
<circle cx="1296.4" cy="1182.4" r="12.15" fill="#73A9CF" stroke="#000" stroke-width="1.4"/>
<circle cx="1325.5" cy="1204.1" r="12.15" fill="#85B9D9" stroke="#000" stroke-width="1.4"/>
<circle cx="1304.9" cy="1220.8" r="12.15" fill="#BEE3EE" stroke="#000" stroke-width="1.4"/>
<circle cx="1300" cy="1214.9" r="12.15" fill="#5E90C3" stroke="#000" stroke-width="1.4"/>
<circle cx="1325.5" cy="1220.3" r="12.15" fill="#4A74B6" stroke="#000" stroke-width="1.4"/>
<circle cx="1311.9" cy="1251.2" r="12.15" fill="#F99355" stroke="#000" stroke-width="1.4"/>
<circle cx="1320.1" cy="1246.9" r="12.15" fill="#85B9D9" stroke="#000" stroke-width="1.4"/>
<circle cx="1317" cy="1255.8" r="12.15" fill="#E0F3F8" stroke="#000" stroke-width="1.4"/>
<circle cx="1310.3" cy="1279.8" r="12.15" fill="#BEE3EE" stroke="#000" stroke-width="1.4"/>
<circle cx="1328.3" cy="1289.1" r="12.15" fill="#E0F3F8" stroke="#000" stroke-width="1.4"/>
<circle cx="1326.7" cy="1274.4" r="12.15" fill="#5E90C3" stroke="#000" stroke-width="1.4"/>
<circle cx="1314.7" cy="1263.1" r="12.15" fill="#BEE3EE" stroke="#000" stroke-width="1.4"/>
<circle cx="1330.6" cy="1300.7" r="12.15" fill="#A0D0E5" stroke="#000" stroke-width="1.4"/>
<circle cx="1304.3" cy="1311.5" r="12.15" fill="#F5FACF" stroke="#000" stroke-width="1.4"/>
<circle cx="1325.2" cy="1319.2" r="12.15" fill="#A0D0E5" stroke="#000" stroke-width="1.4"/>
<circle cx="1326.3" cy="1312" r="12.15" fill="#73A9CF" stroke="#000" stroke-width="1.4"/>
<circle cx="1319" cy="1328.5" r="12.15" fill="#4A74B6" stroke="#000" stroke-width="1.4"/>
<circle cx="1326.3" cy="1430.8" r="12.15" fill="#4575B4" stroke="#000" stroke-width="1.4"/>
</g>
<rect x="152.5" y="1157.5" width="1235" height="563" fill="none" stroke="#151515" stroke-width="1.1"/>
<path d="M140.6 1182.2H152.5" stroke="#222" stroke-width="1.4"/>
<text x="128.6" y="1190.1" font-size="22" text-anchor="end" textLength="46.6" lengthAdjust="spacingAndGlyphs">1.00</text>
<path d="M140.6 1317.4H152.5" stroke="#222" stroke-width="1.4"/>
<text x="128.6" y="1325.3" font-size="22" text-anchor="end" textLength="46.1" lengthAdjust="spacingAndGlyphs">0.75</text>
<path d="M140.6 1451.9H152.5" stroke="#222" stroke-width="1.4"/>
<text x="128.6" y="1459.8" font-size="22" text-anchor="end" textLength="48.9" lengthAdjust="spacingAndGlyphs">0.50</text>
<path d="M140.6 1586.8H152.5" stroke="#222" stroke-width="1.4"/>
<text x="128.6" y="1594.7" font-size="22" text-anchor="end" textLength="46.1" lengthAdjust="spacingAndGlyphs">0.25</text>
<path d="M224.8 1720.5V1733.1" stroke="#222" stroke-width="1.4"/>
<text transform="translate(234.6 1752.2) rotate(-45)" text-anchor="end" font-size="23.5" textLength="57.5" lengthAdjust="spacingAndGlyphs">Kayin</text>
<path d="M346 1720.5V1733.1" stroke="#222" stroke-width="1.4"/>
<text transform="translate(357.8 1754.8) rotate(-45)" text-anchor="end" font-size="23.5" textLength="65" lengthAdjust="spacingAndGlyphs">SMRU</text>
<path d="M467.1 1720.5V1733.1" stroke="#222" stroke-width="1.4"/>
<text transform="translate(476.9 1752.2) rotate(-45)" text-anchor="end" font-size="23.5" textLength="164.5" lengthAdjust="spacingAndGlyphs">Other Myanmar</text>
<path d="M588.2 1720.5V1733.1" stroke="#222" stroke-width="1.4"/>
<text transform="translate(598 1752.2) rotate(-45)" text-anchor="end" font-size="23.5" textLength="108.5" lengthAdjust="spacingAndGlyphs">Cambodia</text>
<path d="M709.4 1720.5V1733.1" stroke="#222" stroke-width="1.4"/>
<text transform="translate(719.2 1752.2) rotate(-45)" text-anchor="end" font-size="23.5" textLength="87.2" lengthAdjust="spacingAndGlyphs">Vietnam</text>
<path d="M830.5 1720.5V1733.1" stroke="#222" stroke-width="1.4"/>
<text transform="translate(840.3 1752.2) rotate(-45)" text-anchor="end" font-size="23.5" textLength="50.2" lengthAdjust="spacingAndGlyphs">Laos</text>
<path d="M951.7 1720.5V1733.1" stroke="#222" stroke-width="1.4"/>
<text transform="translate(961.5 1752.2) rotate(-45)" text-anchor="end" font-size="23.5" textLength="125.6" lengthAdjust="spacingAndGlyphs">Bangladesh</text>
<path d="M1072.9 1720.5V1733.1" stroke="#222" stroke-width="1.4"/>
<text transform="translate(1082.7 1752.2) rotate(-45)" text-anchor="end" font-size="23.5" textLength="146.9" lengthAdjust="spacingAndGlyphs">Central Africa</text>
<path d="M1194 1720.5V1733.1" stroke="#222" stroke-width="1.4"/>
<text transform="translate(1203.8 1752.2) rotate(-45)" text-anchor="end" font-size="23.5" textLength="115" lengthAdjust="spacingAndGlyphs">East Africa</text>
<path d="M1315.2 1720.5V1733.1" stroke="#222" stroke-width="1.4"/>
<text transform="translate(1325 1752.2) rotate(-45)" text-anchor="end" font-size="23.5" textLength="121" lengthAdjust="spacingAndGlyphs">West Africa</text>
<text x="702.5" y="1904.5" font-size="27" textLength="134.5" lengthAdjust="spacingAndGlyphs">Population</text>
<text transform="translate(57.8 1571.7) rotate(-90)" font-size="27" textLength="266.6" lengthAdjust="spacingAndGlyphs">Genetic richness (<tspan font-style="italic">R</tspan><tspan font-size="19" dy="5">G</tspan><tspan dy="-5">)</tspan></text>
<text x="1461.1" y="1319.6" font-size="27" textLength="54.3" lengthAdjust="spacingAndGlyphs">Year</text>
<g shape-rendering="crispEdges">
<rect x="1456.9" y="1325.80" width="59.1" height="1.80" fill="#A60126"/>
<rect x="1456.9" y="1327.30" width="59.1" height="1.80" fill="#A80326"/>
<rect x="1456.9" y="1328.81" width="59.1" height="1.80" fill="#AA0526"/>
<rect x="1456.9" y="1330.31" width="59.1" height="1.80" fill="#AC0726"/>
<rect x="1456.9" y="1331.81" width="59.1" height="1.80" fill="#AE0926"/>
<rect x="1456.9" y="1333.32" width="59.1" height="1.80" fill="#B00B26"/>
<rect x="1456.9" y="1334.82" width="59.1" height="1.80" fill="#B20C26"/>
<rect x="1456.9" y="1336.33" width="59.1" height="1.80" fill="#B40E26"/>
<rect x="1456.9" y="1337.83" width="59.1" height="1.80" fill="#B61026"/>
<rect x="1456.9" y="1339.33" width="59.1" height="1.80" fill="#B81226"/>
<rect x="1456.9" y="1340.84" width="59.1" height="1.80" fill="#BA1426"/>
<rect x="1456.9" y="1342.34" width="59.1" height="1.80" fill="#BC1626"/>
<rect x="1456.9" y="1343.84" width="59.1" height="1.80" fill="#BE1826"/>
<rect x="1456.9" y="1345.35" width="59.1" height="1.80" fill="#C01A27"/>
<rect x="1456.9" y="1346.85" width="59.1" height="1.80" fill="#C21C27"/>
<rect x="1456.9" y="1348.35" width="59.1" height="1.80" fill="#C41E27"/>
<rect x="1456.9" y="1349.86" width="59.1" height="1.80" fill="#C62027"/>
<rect x="1456.9" y="1351.36" width="59.1" height="1.80" fill="#C82127"/>
<rect x="1456.9" y="1352.87" width="59.1" height="1.80" fill="#CA2327"/>
<rect x="1456.9" y="1354.37" width="59.1" height="1.80" fill="#CC2527"/>
<rect x="1456.9" y="1355.87" width="59.1" height="1.80" fill="#CE2727"/>
<rect x="1456.9" y="1357.38" width="59.1" height="1.80" fill="#D02927"/>
<rect x="1456.9" y="1358.88" width="59.1" height="1.80" fill="#D22B27"/>
<rect x="1456.9" y="1360.38" width="59.1" height="1.80" fill="#D42D27"/>
<rect x="1456.9" y="1361.89" width="59.1" height="1.80" fill="#D62F27"/>
<rect x="1456.9" y="1363.39" width="59.1" height="1.80" fill="#D73127"/>
<rect x="1456.9" y="1364.89" width="59.1" height="1.80" fill="#D93329"/>
<rect x="1456.9" y="1366.40" width="59.1" height="1.80" fill="#DA362A"/>
<rect x="1456.9" y="1367.90" width="59.1" height="1.80" fill="#DB382B"/>
<rect x="1456.9" y="1369.41" width="59.1" height="1.80" fill="#DC3B2C"/>
<rect x="1456.9" y="1370.91" width="59.1" height="1.80" fill="#DD3D2D"/>
<rect x="1456.9" y="1372.41" width="59.1" height="1.80" fill="#DE402E"/>
<rect x="1456.9" y="1373.92" width="59.1" height="1.80" fill="#E0422F"/>
<rect x="1456.9" y="1375.42" width="59.1" height="1.80" fill="#E14430"/>
<rect x="1456.9" y="1376.92" width="59.1" height="1.80" fill="#E24732"/>
<rect x="1456.9" y="1378.43" width="59.1" height="1.80" fill="#E34933"/>
<rect x="1456.9" y="1379.93" width="59.1" height="1.80" fill="#E44C34"/>
<rect x="1456.9" y="1381.43" width="59.1" height="1.80" fill="#E54E35"/>
<rect x="1456.9" y="1382.94" width="59.1" height="1.80" fill="#E65136"/>
<rect x="1456.9" y="1384.44" width="59.1" height="1.80" fill="#E85337"/>
<rect x="1456.9" y="1385.95" width="59.1" height="1.80" fill="#E95538"/>
<rect x="1456.9" y="1387.45" width="59.1" height="1.80" fill="#EA5839"/>
<rect x="1456.9" y="1388.95" width="59.1" height="1.80" fill="#EB5A3A"/>
<rect x="1456.9" y="1390.46" width="59.1" height="1.80" fill="#EC5D3C"/>
<rect x="1456.9" y="1391.96" width="59.1" height="1.80" fill="#ED5F3D"/>
<rect x="1456.9" y="1393.46" width="59.1" height="1.80" fill="#EF623E"/>
<rect x="1456.9" y="1394.97" width="59.1" height="1.80" fill="#F0643F"/>
<rect x="1456.9" y="1396.47" width="59.1" height="1.80" fill="#F16640"/>
<rect x="1456.9" y="1397.97" width="59.1" height="1.80" fill="#F26941"/>
<rect x="1456.9" y="1399.48" width="59.1" height="1.80" fill="#F36B42"/>
<rect x="1456.9" y="1400.98" width="59.1" height="1.80" fill="#F46E43"/>
<rect x="1456.9" y="1402.48" width="59.1" height="1.80" fill="#F47045"/>
<rect x="1456.9" y="1403.99" width="59.1" height="1.80" fill="#F57346"/>
<rect x="1456.9" y="1405.49" width="59.1" height="1.80" fill="#F57647"/>
<rect x="1456.9" y="1407.00" width="59.1" height="1.80" fill="#F67848"/>
<rect x="1456.9" y="1408.50" width="59.1" height="1.80" fill="#F67B49"/>
<rect x="1456.9" y="1410.00" width="59.1" height="1.80" fill="#F67D4B"/>
<rect x="1456.9" y="1411.51" width="59.1" height="1.80" fill="#F7804C"/>
<rect x="1456.9" y="1413.01" width="59.1" height="1.80" fill="#F7834D"/>
<rect x="1456.9" y="1414.51" width="59.1" height="1.80" fill="#F7854E"/>
<rect x="1456.9" y="1416.02" width="59.1" height="1.80" fill="#F8884F"/>
<rect x="1456.9" y="1417.52" width="59.1" height="1.80" fill="#F88A51"/>
<rect x="1456.9" y="1419.02" width="59.1" height="1.80" fill="#F88D52"/>
<rect x="1456.9" y="1420.53" width="59.1" height="1.80" fill="#F99053"/>
<rect x="1456.9" y="1422.03" width="59.1" height="1.80" fill="#F99254"/>
<rect x="1456.9" y="1423.54" width="59.1" height="1.80" fill="#F99555"/>
<rect x="1456.9" y="1425.04" width="59.1" height="1.80" fill="#FA9757"/>
<rect x="1456.9" y="1426.54" width="59.1" height="1.80" fill="#FA9A58"/>
<rect x="1456.9" y="1428.05" width="59.1" height="1.80" fill="#FB9C59"/>
<rect x="1456.9" y="1429.55" width="59.1" height="1.80" fill="#FB9F5A"/>
<rect x="1456.9" y="1431.05" width="59.1" height="1.80" fill="#FBA25B"/>
<rect x="1456.9" y="1432.56" width="59.1" height="1.80" fill="#FCA45C"/>
<rect x="1456.9" y="1434.06" width="59.1" height="1.80" fill="#FCA75E"/>
<rect x="1456.9" y="1435.56" width="59.1" height="1.80" fill="#FCA95F"/>
<rect x="1456.9" y="1437.07" width="59.1" height="1.80" fill="#FDAC60"/>
<rect x="1456.9" y="1438.57" width="59.1" height="1.80" fill="#FDAF62"/>
<rect x="1456.9" y="1440.08" width="59.1" height="1.80" fill="#FDB264"/>
<rect x="1456.9" y="1441.58" width="59.1" height="1.80" fill="#FDB467"/>
<rect x="1456.9" y="1443.08" width="59.1" height="1.80" fill="#FDB76A"/>
<rect x="1456.9" y="1444.59" width="59.1" height="1.80" fill="#FDBA6C"/>
<rect x="1456.9" y="1446.09" width="59.1" height="1.80" fill="#FDBD6F"/>
<rect x="1456.9" y="1447.59" width="59.1" height="1.80" fill="#FDC072"/>
<rect x="1456.9" y="1449.10" width="59.1" height="1.80" fill="#FDC375"/>
<rect x="1456.9" y="1450.60" width="59.1" height="1.80" fill="#FDC677"/>
<rect x="1456.9" y="1452.10" width="59.1" height="1.80" fill="#FEC97A"/>
<rect x="1456.9" y="1453.61" width="59.1" height="1.80" fill="#FECB7D"/>
<rect x="1456.9" y="1455.11" width="59.1" height="1.80" fill="#FECE7F"/>
<rect x="1456.9" y="1456.62" width="59.1" height="1.80" fill="#FED182"/>
<rect x="1456.9" y="1458.12" width="59.1" height="1.80" fill="#FED485"/>
<rect x="1456.9" y="1459.62" width="59.1" height="1.80" fill="#FED788"/>
<rect x="1456.9" y="1461.13" width="59.1" height="1.80" fill="#FEDA8A"/>
<rect x="1456.9" y="1462.63" width="59.1" height="1.80" fill="#FEDD8D"/>
<rect x="1456.9" y="1464.13" width="59.1" height="1.80" fill="#FEE090"/>
<rect x="1456.9" y="1465.64" width="59.1" height="1.80" fill="#FEE293"/>
<rect x="1456.9" y="1467.14" width="59.1" height="1.80" fill="#FEE496"/>
<rect x="1456.9" y="1468.64" width="59.1" height="1.80" fill="#FEE79A"/>
<rect x="1456.9" y="1470.15" width="59.1" height="1.80" fill="#FEE99D"/>
<rect x="1456.9" y="1471.65" width="59.1" height="1.80" fill="#FEEBA1"/>
<rect x="1456.9" y="1473.16" width="59.1" height="1.80" fill="#FEEDA4"/>
<rect x="1456.9" y="1474.66" width="59.1" height="1.80" fill="#FFF0A8"/>
<rect x="1456.9" y="1476.16" width="59.1" height="1.80" fill="#FFF2AB"/>
<rect x="1456.9" y="1477.67" width="59.1" height="1.80" fill="#FFF4AF"/>
<rect x="1456.9" y="1479.17" width="59.1" height="1.80" fill="#FFF7B2"/>
<rect x="1456.9" y="1480.67" width="59.1" height="1.80" fill="#FFF9B6"/>
<rect x="1456.9" y="1482.18" width="59.1" height="1.80" fill="#FFFBB9"/>
<rect x="1456.9" y="1483.68" width="59.1" height="1.80" fill="#FFFEBD"/>
<rect x="1456.9" y="1485.18" width="59.1" height="1.80" fill="#FEFFC0"/>
<rect x="1456.9" y="1486.69" width="59.1" height="1.80" fill="#FCFEC4"/>
<rect x="1456.9" y="1488.19" width="59.1" height="1.80" fill="#FAFDC8"/>
<rect x="1456.9" y="1489.70" width="59.1" height="1.80" fill="#F8FCCB"/>
<rect x="1456.9" y="1491.20" width="59.1" height="1.80" fill="#F6FCCF"/>
<rect x="1456.9" y="1492.70" width="59.1" height="1.80" fill="#F4FBD3"/>
<rect x="1456.9" y="1494.21" width="59.1" height="1.80" fill="#F2FAD6"/>
<rect x="1456.9" y="1495.71" width="59.1" height="1.80" fill="#F0F9DA"/>
<rect x="1456.9" y="1497.21" width="59.1" height="1.80" fill="#EEF9DE"/>
<rect x="1456.9" y="1498.72" width="59.1" height="1.80" fill="#ECF8E2"/>
<rect x="1456.9" y="1500.22" width="59.1" height="1.80" fill="#EAF7E5"/>
<rect x="1456.9" y="1501.72" width="59.1" height="1.80" fill="#E8F6E9"/>
<rect x="1456.9" y="1503.23" width="59.1" height="1.80" fill="#E6F5ED"/>
<rect x="1456.9" y="1504.73" width="59.1" height="1.80" fill="#E4F5F0"/>
<rect x="1456.9" y="1506.24" width="59.1" height="1.80" fill="#E2F4F4"/>
<rect x="1456.9" y="1507.74" width="59.1" height="1.80" fill="#E0F3F8"/>
<rect x="1456.9" y="1509.24" width="59.1" height="1.80" fill="#DDF1F7"/>
<rect x="1456.9" y="1510.75" width="59.1" height="1.80" fill="#D9F0F6"/>
<rect x="1456.9" y="1512.25" width="59.1" height="1.80" fill="#D6EEF5"/>
<rect x="1456.9" y="1513.75" width="59.1" height="1.80" fill="#D3ECF4"/>
<rect x="1456.9" y="1515.26" width="59.1" height="1.80" fill="#CFEBF3"/>
<rect x="1456.9" y="1516.76" width="59.1" height="1.80" fill="#CCE9F2"/>
<rect x="1456.9" y="1518.26" width="59.1" height="1.80" fill="#C8E7F1"/>
<rect x="1456.9" y="1519.77" width="59.1" height="1.80" fill="#C5E6F0"/>
<rect x="1456.9" y="1521.27" width="59.1" height="1.80" fill="#C1E4EF"/>
<rect x="1456.9" y="1522.78" width="59.1" height="1.80" fill="#BEE2EE"/>
<rect x="1456.9" y="1524.28" width="59.1" height="1.80" fill="#BBE1ED"/>
<rect x="1456.9" y="1525.78" width="59.1" height="1.80" fill="#B7DFEC"/>
<rect x="1456.9" y="1527.29" width="59.1" height="1.80" fill="#B4DDEB"/>
<rect x="1456.9" y="1528.79" width="59.1" height="1.80" fill="#B0DCEA"/>
<rect x="1456.9" y="1530.29" width="59.1" height="1.80" fill="#ADDAEA"/>
<rect x="1456.9" y="1531.80" width="59.1" height="1.80" fill="#AAD8E8"/>
<rect x="1456.9" y="1533.30" width="59.1" height="1.80" fill="#A6D5E7"/>
<rect x="1456.9" y="1534.80" width="59.1" height="1.80" fill="#A3D3E6"/>
<rect x="1456.9" y="1536.31" width="59.1" height="1.80" fill="#A0D0E4"/>
<rect x="1456.9" y="1537.81" width="59.1" height="1.80" fill="#9DCEE3"/>
<rect x="1456.9" y="1539.32" width="59.1" height="1.80" fill="#9ACBE1"/>
<rect x="1456.9" y="1540.82" width="59.1" height="1.80" fill="#97C9E0"/>
<rect x="1456.9" y="1542.32" width="59.1" height="1.80" fill="#93C6DF"/>
<rect x="1456.9" y="1543.83" width="59.1" height="1.80" fill="#90C4DD"/>
<rect x="1456.9" y="1545.33" width="59.1" height="1.80" fill="#8DC1DC"/>
<rect x="1456.9" y="1546.83" width="59.1" height="1.80" fill="#8ABEDB"/>
<rect x="1456.9" y="1548.34" width="59.1" height="1.80" fill="#87BCD9"/>
<rect x="1456.9" y="1549.84" width="59.1" height="1.80" fill="#84B9D8"/>
<rect x="1456.9" y="1551.34" width="59.1" height="1.80" fill="#80B7D6"/>
<rect x="1456.9" y="1552.85" width="59.1" height="1.80" fill="#7DB4D5"/>
<rect x="1456.9" y="1554.35" width="59.1" height="1.80" fill="#7AB2D4"/>
<rect x="1456.9" y="1555.85" width="59.1" height="1.80" fill="#77AFD2"/>
<rect x="1456.9" y="1557.36" width="59.1" height="1.80" fill="#74ADD1"/>
<rect x="1456.9" y="1558.86" width="59.1" height="1.80" fill="#71AACF"/>
<rect x="1456.9" y="1560.37" width="59.1" height="1.80" fill="#6FA7CE"/>
<rect x="1456.9" y="1561.87" width="59.1" height="1.80" fill="#6CA4CC"/>
<rect x="1456.9" y="1563.37" width="59.1" height="1.80" fill="#6AA1CB"/>
<rect x="1456.9" y="1564.88" width="59.1" height="1.80" fill="#689EC9"/>
<rect x="1456.9" y="1566.38" width="59.1" height="1.80" fill="#659BC8"/>
<rect x="1456.9" y="1567.88" width="59.1" height="1.80" fill="#6398C6"/>
<rect x="1456.9" y="1569.39" width="59.1" height="1.80" fill="#6095C5"/>
<rect x="1456.9" y="1570.89" width="59.1" height="1.80" fill="#5E93C3"/>
<rect x="1456.9" y="1572.39" width="59.1" height="1.80" fill="#5B90C2"/>
<rect x="1456.9" y="1573.90" width="59.1" height="1.80" fill="#598DC0"/>
<rect x="1456.9" y="1575.40" width="59.1" height="1.80" fill="#578ABF"/>
<rect x="1456.9" y="1576.91" width="59.1" height="1.80" fill="#5487BD"/>
<rect x="1456.9" y="1578.41" width="59.1" height="1.80" fill="#5284BC"/>
<rect x="1456.9" y="1579.91" width="59.1" height="1.80" fill="#4F81BA"/>
<rect x="1456.9" y="1581.42" width="59.1" height="1.80" fill="#4D7EB9"/>
<rect x="1456.9" y="1582.92" width="59.1" height="1.80" fill="#4A7BB7"/>
<rect x="1456.9" y="1584.42" width="59.1" height="1.80" fill="#4878B6"/>
<rect x="1456.9" y="1585.93" width="59.1" height="1.80" fill="#4576B4"/>
<rect x="1456.9" y="1587.43" width="59.1" height="1.80" fill="#4472B3"/>
<rect x="1456.9" y="1588.93" width="59.1" height="1.80" fill="#436FB1"/>
<rect x="1456.9" y="1590.44" width="59.1" height="1.80" fill="#426CB0"/>
<rect x="1456.9" y="1591.94" width="59.1" height="1.80" fill="#4169AE"/>
<rect x="1456.9" y="1593.45" width="59.1" height="1.80" fill="#4065AC"/>
<rect x="1456.9" y="1594.95" width="59.1" height="1.80" fill="#3F62AB"/>
<rect x="1456.9" y="1596.45" width="59.1" height="1.80" fill="#3E5FA9"/>
<rect x="1456.9" y="1597.96" width="59.1" height="1.80" fill="#3D5CA7"/>
<rect x="1456.9" y="1599.46" width="59.1" height="1.80" fill="#3C58A6"/>
<rect x="1456.9" y="1600.96" width="59.1" height="1.80" fill="#3B55A4"/>
<rect x="1456.9" y="1602.47" width="59.1" height="1.80" fill="#3A52A3"/>
<rect x="1456.9" y="1603.97" width="59.1" height="1.80" fill="#394EA1"/>
<rect x="1456.9" y="1605.47" width="59.1" height="1.80" fill="#384B9F"/>
<rect x="1456.9" y="1606.98" width="59.1" height="1.80" fill="#37489E"/>
<rect x="1456.9" y="1608.48" width="59.1" height="1.80" fill="#36459C"/>
<rect x="1456.9" y="1609.99" width="59.1" height="1.80" fill="#35419B"/>
<rect x="1456.9" y="1611.49" width="59.1" height="1.80" fill="#343E99"/>
<rect x="1456.9" y="1612.99" width="59.1" height="1.80" fill="#333B97"/>
<rect x="1456.9" y="1614.50" width="59.1" height="1.80" fill="#323896"/>
</g>
<path d="M1456.9 1382.8h12.6M1516 1382.8h-12" stroke="#fff" stroke-opacity=".8" stroke-width="1.2"/>
<text x="1528" y="1390.4" font-size="22" textLength="56.2" lengthAdjust="spacingAndGlyphs">2005</text>
<path d="M1456.9 1451.4h12.6M1516 1451.4h-12" stroke="#fff" stroke-opacity=".8" stroke-width="1.2"/>
<text x="1528" y="1459" font-size="22" textLength="52.5" lengthAdjust="spacingAndGlyphs">2010</text>
<path d="M1456.9 1520.1h12.6M1516 1520.1h-12" stroke="#fff" stroke-opacity=".8" stroke-width="1.2"/>
<text x="1528" y="1527.7" font-size="22" textLength="50.5" lengthAdjust="spacingAndGlyphs">2015</text>
<path d="M1456.9 1588.7h12.6M1516 1588.7h-12" stroke="#fff" stroke-opacity=".8" stroke-width="1.2"/>
<text x="1528" y="1596.3" font-size="22" textLength="55.5" lengthAdjust="spacingAndGlyphs">2020</text>
</svg></body></html>
